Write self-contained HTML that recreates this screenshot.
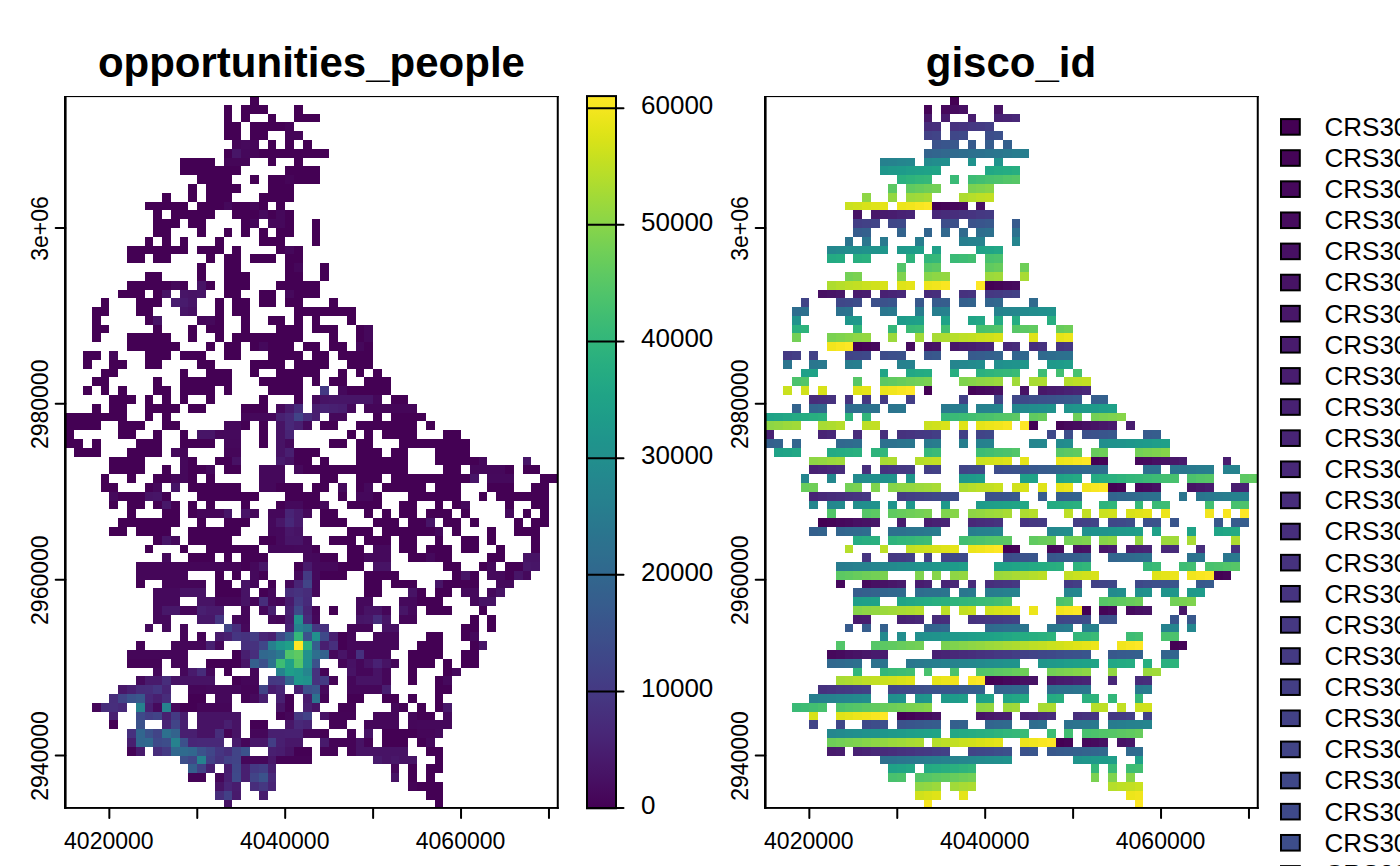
<!DOCTYPE html>
<html><head><meta charset="utf-8"><title>plot</title><style>html,body{margin:0;padding:0;background:#fff}body{width:1400px;height:866px;overflow:hidden}text{font-family:"Liberation Sans",sans-serif;fill:#000}.tk{font-size:23px}.cb{font-size:26px}.ti{font-size:42px;font-weight:bold}</style></head><body>
<svg width="1400" height="866" viewBox="0 0 1400 866" style="display:block">
<rect width="1400" height="866" fill="#fff"/>
<defs><linearGradient id="vg" x1="0" y1="1" x2="0" y2="0"><stop offset="0.0000" stop-color="#440154"/><stop offset="0.0156" stop-color="#46075a"/><stop offset="0.0312" stop-color="#470d60"/><stop offset="0.0469" stop-color="#471365"/><stop offset="0.0625" stop-color="#48186a"/><stop offset="0.0781" stop-color="#481d6f"/><stop offset="0.0938" stop-color="#482374"/><stop offset="0.1094" stop-color="#482878"/><stop offset="0.1250" stop-color="#472d7b"/><stop offset="0.1406" stop-color="#46327e"/><stop offset="0.1562" stop-color="#453781"/><stop offset="0.1719" stop-color="#443b84"/><stop offset="0.1875" stop-color="#424086"/><stop offset="0.2031" stop-color="#404588"/><stop offset="0.2188" stop-color="#3e4989"/><stop offset="0.2344" stop-color="#3d4e8a"/><stop offset="0.2500" stop-color="#3b528b"/><stop offset="0.2656" stop-color="#39568c"/><stop offset="0.2812" stop-color="#375b8d"/><stop offset="0.2969" stop-color="#355f8d"/><stop offset="0.3125" stop-color="#33638d"/><stop offset="0.3281" stop-color="#31678e"/><stop offset="0.3438" stop-color="#2f6b8e"/><stop offset="0.3594" stop-color="#2e6f8e"/><stop offset="0.3750" stop-color="#2c728e"/><stop offset="0.3906" stop-color="#2a768e"/><stop offset="0.4062" stop-color="#297a8e"/><stop offset="0.4219" stop-color="#277e8e"/><stop offset="0.4375" stop-color="#26828e"/><stop offset="0.4531" stop-color="#25858e"/><stop offset="0.4688" stop-color="#23898e"/><stop offset="0.4844" stop-color="#228d8d"/><stop offset="0.5000" stop-color="#21918c"/><stop offset="0.5156" stop-color="#1f948c"/><stop offset="0.5312" stop-color="#1f988b"/><stop offset="0.5469" stop-color="#1e9c89"/><stop offset="0.5625" stop-color="#1fa088"/><stop offset="0.5781" stop-color="#20a386"/><stop offset="0.5938" stop-color="#22a785"/><stop offset="0.6094" stop-color="#25ab82"/><stop offset="0.6250" stop-color="#28ae80"/><stop offset="0.6406" stop-color="#2db27d"/><stop offset="0.6562" stop-color="#32b67a"/><stop offset="0.6719" stop-color="#38b977"/><stop offset="0.6875" stop-color="#3fbc73"/><stop offset="0.7031" stop-color="#46c06f"/><stop offset="0.7188" stop-color="#4ec36b"/><stop offset="0.7344" stop-color="#56c667"/><stop offset="0.7500" stop-color="#5ec962"/><stop offset="0.7656" stop-color="#67cc5c"/><stop offset="0.7812" stop-color="#70cf57"/><stop offset="0.7969" stop-color="#7ad151"/><stop offset="0.8125" stop-color="#84d44b"/><stop offset="0.8281" stop-color="#8ed645"/><stop offset="0.8438" stop-color="#98d83e"/><stop offset="0.8594" stop-color="#a2da37"/><stop offset="0.8750" stop-color="#addc30"/><stop offset="0.8906" stop-color="#b8de29"/><stop offset="0.9062" stop-color="#c2df23"/><stop offset="0.9219" stop-color="#cde11d"/><stop offset="0.9375" stop-color="#d8e219"/><stop offset="0.9531" stop-color="#e2e418"/><stop offset="0.9688" stop-color="#ece51b"/><stop offset="0.9844" stop-color="#f6e620"/><stop offset="1.0000" stop-color="#fde725"/></linearGradient></defs>
<g shape-rendering="crispEdges">
<rect x="250" y="96" width="9" height="9" fill="#440154"/>
<rect x="224" y="105" width="8" height="9" fill="#440154"/>
<rect x="241" y="105" width="27" height="9" fill="#440154"/>
<rect x="294" y="105" width="9" height="9" fill="#440154"/>
<rect x="224" y="114" width="8" height="8" fill="#440154"/>
<rect x="241" y="114" width="9" height="8" fill="#440154"/>
<rect x="268" y="114" width="8" height="8" fill="#440154"/>
<rect x="294" y="114" width="26" height="8" fill="#440154"/>
<rect x="224" y="122" width="17" height="9" fill="#440154"/>
<rect x="250" y="122" width="35" height="9" fill="#440154"/>
<rect x="285" y="122" width="9" height="9" fill="#450558"/>
<rect x="224" y="131" width="17" height="9" fill="#440154"/>
<rect x="250" y="131" width="18" height="9" fill="#440154"/>
<rect x="285" y="131" width="18" height="9" fill="#450558"/>
<rect x="232" y="140" width="9" height="9" fill="#450659"/>
<rect x="241" y="140" width="9" height="9" fill="#46095c"/>
<rect x="250" y="140" width="9" height="9" fill="#450659"/>
<rect x="268" y="140" width="8" height="9" fill="#440154"/>
<rect x="285" y="140" width="9" height="9" fill="#440154"/>
<rect x="303" y="140" width="9" height="9" fill="#440154"/>
<rect x="224" y="149" width="8" height="9" fill="#440154"/>
<rect x="232" y="149" width="9" height="9" fill="#471567"/>
<rect x="241" y="149" width="9" height="9" fill="#45085b"/>
<rect x="250" y="149" width="9" height="9" fill="#450558"/>
<rect x="259" y="149" width="70" height="9" fill="#440154"/>
<rect x="180" y="158" width="35" height="8" fill="#440154"/>
<rect x="224" y="158" width="26" height="8" fill="#450658"/>
<rect x="268" y="158" width="8" height="8" fill="#440154"/>
<rect x="294" y="158" width="9" height="8" fill="#440154"/>
<rect x="180" y="166" width="61" height="9" fill="#440154"/>
<rect x="285" y="166" width="35" height="9" fill="#440154"/>
<rect x="197" y="175" width="35" height="9" fill="#440154"/>
<rect x="250" y="175" width="9" height="9" fill="#440154"/>
<rect x="268" y="175" width="17" height="9" fill="#440154"/>
<rect x="285" y="175" width="9" height="9" fill="#450558"/>
<rect x="294" y="175" width="26" height="9" fill="#440154"/>
<rect x="188" y="184" width="9" height="9" fill="#440154"/>
<rect x="206" y="184" width="35" height="9" fill="#440154"/>
<rect x="268" y="184" width="26" height="9" fill="#440154"/>
<rect x="162" y="193" width="9" height="9" fill="#440154"/>
<rect x="188" y="193" width="9" height="9" fill="#440154"/>
<rect x="206" y="193" width="26" height="9" fill="#440154"/>
<rect x="259" y="193" width="35" height="9" fill="#440154"/>
<rect x="145" y="202" width="43" height="8" fill="#440154"/>
<rect x="197" y="202" width="27" height="8" fill="#440154"/>
<rect x="224" y="202" width="8" height="8" fill="#45095b"/>
<rect x="232" y="202" width="18" height="8" fill="#440154"/>
<rect x="250" y="202" width="9" height="8" fill="#45095b"/>
<rect x="259" y="202" width="9" height="8" fill="#440154"/>
<rect x="276" y="202" width="9" height="8" fill="#440154"/>
<rect x="153" y="210" width="9" height="9" fill="#440154"/>
<rect x="171" y="210" width="44" height="9" fill="#440154"/>
<rect x="232" y="210" width="27" height="9" fill="#440154"/>
<rect x="259" y="210" width="9" height="9" fill="#460a5d"/>
<rect x="268" y="210" width="8" height="9" fill="#440154"/>
<rect x="276" y="210" width="9" height="9" fill="#45085b"/>
<rect x="285" y="210" width="9" height="9" fill="#440154"/>
<rect x="153" y="219" width="27" height="9" fill="#440154"/>
<rect x="188" y="219" width="18" height="9" fill="#440154"/>
<rect x="241" y="219" width="9" height="9" fill="#440154"/>
<rect x="250" y="219" width="9" height="9" fill="#45085b"/>
<rect x="268" y="219" width="17" height="9" fill="#45085b"/>
<rect x="285" y="219" width="9" height="9" fill="#440154"/>
<rect x="312" y="219" width="8" height="9" fill="#440154"/>
<rect x="153" y="228" width="18" height="9" fill="#440154"/>
<rect x="197" y="228" width="9" height="9" fill="#440154"/>
<rect x="224" y="228" width="8" height="9" fill="#440154"/>
<rect x="241" y="228" width="9" height="9" fill="#440154"/>
<rect x="259" y="228" width="9" height="9" fill="#440154"/>
<rect x="276" y="228" width="18" height="9" fill="#440154"/>
<rect x="312" y="228" width="8" height="9" fill="#440154"/>
<rect x="145" y="237" width="8" height="9" fill="#440154"/>
<rect x="162" y="237" width="9" height="9" fill="#440154"/>
<rect x="180" y="237" width="8" height="9" fill="#440154"/>
<rect x="215" y="237" width="9" height="9" fill="#440154"/>
<rect x="259" y="237" width="26" height="9" fill="#440154"/>
<rect x="312" y="237" width="8" height="9" fill="#440154"/>
<rect x="127" y="246" width="61" height="8" fill="#440154"/>
<rect x="197" y="246" width="27" height="8" fill="#440154"/>
<rect x="232" y="246" width="9" height="8" fill="#440154"/>
<rect x="276" y="246" width="9" height="8" fill="#440154"/>
<rect x="285" y="246" width="9" height="8" fill="#45085b"/>
<rect x="294" y="246" width="9" height="8" fill="#440154"/>
<rect x="127" y="254" width="18" height="9" fill="#440154"/>
<rect x="153" y="254" width="18" height="9" fill="#440154"/>
<rect x="206" y="254" width="9" height="9" fill="#440154"/>
<rect x="224" y="254" width="17" height="9" fill="#440154"/>
<rect x="250" y="254" width="26" height="9" fill="#440154"/>
<rect x="285" y="254" width="18" height="9" fill="#440154"/>
<rect x="197" y="263" width="9" height="9" fill="#440154"/>
<rect x="224" y="263" width="17" height="9" fill="#440154"/>
<rect x="285" y="263" width="9" height="9" fill="#440154"/>
<rect x="294" y="263" width="9" height="9" fill="#45075a"/>
<rect x="320" y="263" width="9" height="9" fill="#440154"/>
<rect x="145" y="272" width="17" height="9" fill="#440154"/>
<rect x="197" y="272" width="9" height="9" fill="#440154"/>
<rect x="224" y="272" width="26" height="9" fill="#440154"/>
<rect x="285" y="272" width="18" height="9" fill="#440154"/>
<rect x="320" y="272" width="9" height="9" fill="#440154"/>
<rect x="127" y="281" width="44" height="9" fill="#440154"/>
<rect x="171" y="281" width="9" height="9" fill="#450a5b"/>
<rect x="180" y="281" width="8" height="9" fill="#440154"/>
<rect x="197" y="281" width="9" height="9" fill="#471365"/>
<rect x="206" y="281" width="9" height="9" fill="#440154"/>
<rect x="224" y="281" width="26" height="9" fill="#440154"/>
<rect x="276" y="281" width="44" height="9" fill="#440154"/>
<rect x="118" y="290" width="27" height="8" fill="#440154"/>
<rect x="153" y="290" width="9" height="8" fill="#440154"/>
<rect x="162" y="290" width="9" height="8" fill="#471365"/>
<rect x="180" y="290" width="8" height="8" fill="#471567"/>
<rect x="188" y="290" width="9" height="8" fill="#471365"/>
<rect x="197" y="290" width="9" height="8" fill="#471567"/>
<rect x="224" y="290" width="17" height="8" fill="#440154"/>
<rect x="259" y="290" width="17" height="8" fill="#440154"/>
<rect x="285" y="290" width="9" height="8" fill="#46095c"/>
<rect x="294" y="290" width="26" height="8" fill="#440154"/>
<rect x="101" y="298" width="8" height="9" fill="#440154"/>
<rect x="136" y="298" width="26" height="9" fill="#440154"/>
<rect x="171" y="298" width="9" height="9" fill="#481d6f"/>
<rect x="180" y="298" width="8" height="9" fill="#481b6d"/>
<rect x="188" y="298" width="9" height="9" fill="#471567"/>
<rect x="215" y="298" width="9" height="9" fill="#440154"/>
<rect x="232" y="298" width="18" height="9" fill="#440154"/>
<rect x="259" y="298" width="17" height="9" fill="#440154"/>
<rect x="285" y="298" width="18" height="9" fill="#440154"/>
<rect x="329" y="298" width="9" height="9" fill="#440154"/>
<rect x="92" y="307" width="17" height="9" fill="#440154"/>
<rect x="136" y="307" width="17" height="9" fill="#440154"/>
<rect x="180" y="307" width="8" height="9" fill="#471567"/>
<rect x="188" y="307" width="9" height="9" fill="#471164"/>
<rect x="215" y="307" width="9" height="9" fill="#440154"/>
<rect x="232" y="307" width="18" height="9" fill="#440154"/>
<rect x="294" y="307" width="62" height="9" fill="#440154"/>
<rect x="92" y="316" width="9" height="9" fill="#440154"/>
<rect x="145" y="316" width="8" height="9" fill="#440154"/>
<rect x="153" y="316" width="9" height="9" fill="#471365"/>
<rect x="197" y="316" width="9" height="9" fill="#45075a"/>
<rect x="206" y="316" width="9" height="9" fill="#45095b"/>
<rect x="215" y="316" width="9" height="9" fill="#440154"/>
<rect x="241" y="316" width="9" height="9" fill="#440154"/>
<rect x="268" y="316" width="17" height="9" fill="#440154"/>
<rect x="294" y="316" width="9" height="9" fill="#440154"/>
<rect x="312" y="316" width="8" height="9" fill="#440154"/>
<rect x="347" y="316" width="9" height="9" fill="#440154"/>
<rect x="92" y="325" width="17" height="8" fill="#440154"/>
<rect x="153" y="325" width="9" height="8" fill="#440154"/>
<rect x="188" y="325" width="9" height="8" fill="#440154"/>
<rect x="206" y="325" width="18" height="8" fill="#440154"/>
<rect x="241" y="325" width="9" height="8" fill="#440154"/>
<rect x="276" y="325" width="27" height="8" fill="#440154"/>
<rect x="312" y="325" width="26" height="8" fill="#440154"/>
<rect x="356" y="325" width="8" height="8" fill="#440154"/>
<rect x="364" y="325" width="9" height="8" fill="#45085b"/>
<rect x="92" y="333" width="9" height="9" fill="#440154"/>
<rect x="127" y="333" width="44" height="9" fill="#440154"/>
<rect x="188" y="333" width="9" height="9" fill="#440154"/>
<rect x="215" y="333" width="9" height="9" fill="#440154"/>
<rect x="232" y="333" width="71" height="9" fill="#440154"/>
<rect x="329" y="333" width="9" height="9" fill="#440154"/>
<rect x="356" y="333" width="8" height="9" fill="#440154"/>
<rect x="364" y="333" width="9" height="9" fill="#45085b"/>
<rect x="127" y="342" width="53" height="9" fill="#440154"/>
<rect x="206" y="342" width="9" height="9" fill="#440154"/>
<rect x="224" y="342" width="17" height="9" fill="#440154"/>
<rect x="250" y="342" width="9" height="9" fill="#440154"/>
<rect x="259" y="342" width="9" height="9" fill="#45095c"/>
<rect x="268" y="342" width="26" height="9" fill="#440154"/>
<rect x="303" y="342" width="17" height="9" fill="#440154"/>
<rect x="329" y="342" width="18" height="9" fill="#440154"/>
<rect x="356" y="342" width="8" height="9" fill="#45085b"/>
<rect x="364" y="342" width="9" height="9" fill="#440154"/>
<rect x="83" y="351" width="18" height="9" fill="#440154"/>
<rect x="109" y="351" width="9" height="9" fill="#45085b"/>
<rect x="145" y="351" width="26" height="9" fill="#440154"/>
<rect x="180" y="351" width="26" height="9" fill="#440154"/>
<rect x="224" y="351" width="17" height="9" fill="#440154"/>
<rect x="268" y="351" width="35" height="9" fill="#440154"/>
<rect x="312" y="351" width="17" height="9" fill="#440154"/>
<rect x="338" y="351" width="35" height="9" fill="#440154"/>
<rect x="83" y="360" width="9" height="9" fill="#440154"/>
<rect x="109" y="360" width="18" height="9" fill="#440154"/>
<rect x="145" y="360" width="17" height="9" fill="#440154"/>
<rect x="197" y="360" width="18" height="9" fill="#440154"/>
<rect x="250" y="360" width="35" height="9" fill="#440154"/>
<rect x="294" y="360" width="35" height="9" fill="#440154"/>
<rect x="347" y="360" width="26" height="9" fill="#440154"/>
<rect x="101" y="369" width="17" height="8" fill="#440154"/>
<rect x="180" y="369" width="8" height="8" fill="#440154"/>
<rect x="206" y="369" width="26" height="8" fill="#440154"/>
<rect x="250" y="369" width="9" height="8" fill="#440154"/>
<rect x="276" y="369" width="44" height="8" fill="#440154"/>
<rect x="338" y="369" width="9" height="8" fill="#440154"/>
<rect x="356" y="369" width="8" height="8" fill="#440154"/>
<rect x="373" y="369" width="9" height="8" fill="#440154"/>
<rect x="92" y="377" width="17" height="9" fill="#440154"/>
<rect x="153" y="377" width="9" height="9" fill="#440154"/>
<rect x="180" y="377" width="52" height="9" fill="#440154"/>
<rect x="259" y="377" width="44" height="9" fill="#440154"/>
<rect x="312" y="377" width="8" height="9" fill="#440154"/>
<rect x="329" y="377" width="18" height="9" fill="#440154"/>
<rect x="364" y="377" width="27" height="9" fill="#440154"/>
<rect x="83" y="386" width="9" height="9" fill="#440154"/>
<rect x="101" y="386" width="8" height="9" fill="#440154"/>
<rect x="118" y="386" width="9" height="9" fill="#440154"/>
<rect x="153" y="386" width="18" height="9" fill="#440154"/>
<rect x="180" y="386" width="35" height="9" fill="#440154"/>
<rect x="224" y="386" width="8" height="9" fill="#440154"/>
<rect x="268" y="386" width="35" height="9" fill="#440154"/>
<rect x="320" y="386" width="9" height="9" fill="#443983"/>
<rect x="338" y="386" width="9" height="9" fill="#45095c"/>
<rect x="347" y="386" width="44" height="9" fill="#440154"/>
<rect x="109" y="395" width="27" height="9" fill="#440154"/>
<rect x="145" y="395" width="8" height="9" fill="#440154"/>
<rect x="162" y="395" width="9" height="9" fill="#440154"/>
<rect x="180" y="395" width="8" height="9" fill="#440154"/>
<rect x="206" y="395" width="9" height="9" fill="#440154"/>
<rect x="259" y="395" width="9" height="9" fill="#440154"/>
<rect x="294" y="395" width="9" height="9" fill="#440154"/>
<rect x="312" y="395" width="8" height="9" fill="#45095c"/>
<rect x="320" y="395" width="9" height="9" fill="#471365"/>
<rect x="329" y="395" width="44" height="9" fill="#471567"/>
<rect x="373" y="395" width="9" height="9" fill="#45085b"/>
<rect x="391" y="395" width="17" height="9" fill="#440154"/>
<rect x="92" y="404" width="9" height="9" fill="#440154"/>
<rect x="109" y="404" width="18" height="9" fill="#440154"/>
<rect x="145" y="404" width="35" height="9" fill="#440154"/>
<rect x="188" y="404" width="18" height="9" fill="#440154"/>
<rect x="241" y="404" width="27" height="9" fill="#440154"/>
<rect x="276" y="404" width="9" height="9" fill="#46095c"/>
<rect x="285" y="404" width="9" height="9" fill="#481a6c"/>
<rect x="294" y="404" width="9" height="9" fill="#462c7b"/>
<rect x="312" y="404" width="8" height="9" fill="#481d6f"/>
<rect x="320" y="404" width="9" height="9" fill="#482374"/>
<rect x="329" y="404" width="9" height="9" fill="#482071"/>
<rect x="338" y="404" width="9" height="9" fill="#481d6f"/>
<rect x="347" y="404" width="9" height="9" fill="#45095c"/>
<rect x="364" y="404" width="53" height="9" fill="#450659"/>
<rect x="65" y="413" width="62" height="8" fill="#440154"/>
<rect x="145" y="413" width="8" height="8" fill="#440154"/>
<rect x="162" y="413" width="9" height="8" fill="#440154"/>
<rect x="241" y="413" width="9" height="8" fill="#450659"/>
<rect x="250" y="413" width="26" height="8" fill="#45085b"/>
<rect x="276" y="413" width="9" height="8" fill="#482071"/>
<rect x="285" y="413" width="9" height="8" fill="#482878"/>
<rect x="294" y="413" width="9" height="8" fill="#414487"/>
<rect x="303" y="413" width="9" height="8" fill="#472d7b"/>
<rect x="312" y="413" width="8" height="8" fill="#481f70"/>
<rect x="329" y="413" width="18" height="8" fill="#45085b"/>
<rect x="373" y="413" width="9" height="8" fill="#440154"/>
<rect x="391" y="413" width="35" height="8" fill="#440154"/>
<rect x="65" y="421" width="36" height="9" fill="#440154"/>
<rect x="118" y="421" width="27" height="9" fill="#440154"/>
<rect x="162" y="421" width="18" height="9" fill="#440154"/>
<rect x="224" y="421" width="17" height="9" fill="#45085b"/>
<rect x="241" y="421" width="9" height="9" fill="#440154"/>
<rect x="259" y="421" width="9" height="9" fill="#440154"/>
<rect x="276" y="421" width="9" height="9" fill="#471365"/>
<rect x="285" y="421" width="9" height="9" fill="#482878"/>
<rect x="294" y="421" width="9" height="9" fill="#481f70"/>
<rect x="303" y="421" width="9" height="9" fill="#45095c"/>
<rect x="320" y="421" width="18" height="9" fill="#440154"/>
<rect x="356" y="421" width="61" height="9" fill="#440154"/>
<rect x="426" y="421" width="9" height="9" fill="#440154"/>
<rect x="65" y="430" width="9" height="9" fill="#440154"/>
<rect x="118" y="430" width="18" height="9" fill="#440154"/>
<rect x="153" y="430" width="9" height="9" fill="#440154"/>
<rect x="180" y="430" width="8" height="9" fill="#440154"/>
<rect x="197" y="430" width="18" height="9" fill="#471567"/>
<rect x="215" y="430" width="9" height="9" fill="#45085b"/>
<rect x="224" y="430" width="17" height="9" fill="#45095c"/>
<rect x="259" y="430" width="9" height="9" fill="#440154"/>
<rect x="276" y="430" width="9" height="9" fill="#471365"/>
<rect x="285" y="430" width="9" height="9" fill="#482475"/>
<rect x="347" y="430" width="9" height="9" fill="#440154"/>
<rect x="364" y="430" width="9" height="9" fill="#440154"/>
<rect x="382" y="430" width="35" height="9" fill="#440154"/>
<rect x="443" y="430" width="18" height="9" fill="#440154"/>
<rect x="65" y="439" width="18" height="9" fill="#440154"/>
<rect x="92" y="439" width="9" height="9" fill="#440154"/>
<rect x="136" y="439" width="26" height="9" fill="#440154"/>
<rect x="180" y="439" width="35" height="9" fill="#440154"/>
<rect x="224" y="439" width="17" height="9" fill="#45085b"/>
<rect x="259" y="439" width="9" height="9" fill="#440154"/>
<rect x="276" y="439" width="9" height="9" fill="#471365"/>
<rect x="285" y="439" width="9" height="9" fill="#45095c"/>
<rect x="329" y="439" width="18" height="9" fill="#440154"/>
<rect x="356" y="439" width="17" height="9" fill="#440154"/>
<rect x="399" y="439" width="71" height="9" fill="#440154"/>
<rect x="74" y="448" width="27" height="9" fill="#440154"/>
<rect x="127" y="448" width="35" height="9" fill="#440154"/>
<rect x="171" y="448" width="9" height="9" fill="#45095c"/>
<rect x="180" y="448" width="8" height="9" fill="#450659"/>
<rect x="224" y="448" width="17" height="9" fill="#450659"/>
<rect x="276" y="448" width="9" height="9" fill="#471365"/>
<rect x="285" y="448" width="9" height="9" fill="#481f70"/>
<rect x="294" y="448" width="26" height="9" fill="#440154"/>
<rect x="356" y="448" width="26" height="9" fill="#440154"/>
<rect x="391" y="448" width="17" height="9" fill="#440154"/>
<rect x="435" y="448" width="35" height="9" fill="#440154"/>
<rect x="109" y="457" width="36" height="8" fill="#440154"/>
<rect x="180" y="457" width="8" height="8" fill="#45085b"/>
<rect x="188" y="457" width="9" height="8" fill="#440154"/>
<rect x="215" y="457" width="17" height="8" fill="#440154"/>
<rect x="232" y="457" width="9" height="8" fill="#471164"/>
<rect x="276" y="457" width="9" height="8" fill="#481a6c"/>
<rect x="285" y="457" width="9" height="8" fill="#471365"/>
<rect x="294" y="457" width="18" height="8" fill="#440154"/>
<rect x="320" y="457" width="9" height="8" fill="#440154"/>
<rect x="356" y="457" width="52" height="8" fill="#440154"/>
<rect x="435" y="457" width="44" height="8" fill="#440154"/>
<rect x="479" y="457" width="8" height="8" fill="#45095c"/>
<rect x="523" y="457" width="8" height="8" fill="#471567"/>
<rect x="109" y="465" width="36" height="9" fill="#440154"/>
<rect x="162" y="465" width="9" height="9" fill="#440154"/>
<rect x="180" y="465" width="8" height="9" fill="#45085b"/>
<rect x="188" y="465" width="18" height="9" fill="#440154"/>
<rect x="206" y="465" width="9" height="9" fill="#45085b"/>
<rect x="224" y="465" width="17" height="9" fill="#440154"/>
<rect x="259" y="465" width="26" height="9" fill="#45085b"/>
<rect x="294" y="465" width="9" height="9" fill="#46095c"/>
<rect x="303" y="465" width="105" height="9" fill="#440154"/>
<rect x="443" y="465" width="18" height="9" fill="#440154"/>
<rect x="470" y="465" width="35" height="9" fill="#45085b"/>
<rect x="505" y="465" width="9" height="9" fill="#440154"/>
<rect x="523" y="465" width="17" height="9" fill="#440154"/>
<rect x="101" y="474" width="8" height="9" fill="#440154"/>
<rect x="127" y="474" width="9" height="9" fill="#440154"/>
<rect x="153" y="474" width="18" height="9" fill="#440154"/>
<rect x="171" y="474" width="17" height="9" fill="#45085b"/>
<rect x="188" y="474" width="9" height="9" fill="#440154"/>
<rect x="206" y="474" width="9" height="9" fill="#440154"/>
<rect x="259" y="474" width="26" height="9" fill="#45085b"/>
<rect x="320" y="474" width="18" height="9" fill="#440154"/>
<rect x="356" y="474" width="26" height="9" fill="#440154"/>
<rect x="391" y="474" width="79" height="9" fill="#440154"/>
<rect x="470" y="474" width="9" height="9" fill="#471567"/>
<rect x="487" y="474" width="27" height="9" fill="#45095c"/>
<rect x="540" y="474" width="18" height="9" fill="#440154"/>
<rect x="101" y="483" width="17" height="9" fill="#440154"/>
<rect x="145" y="483" width="8" height="9" fill="#440154"/>
<rect x="153" y="483" width="9" height="9" fill="#45085b"/>
<rect x="171" y="483" width="9" height="9" fill="#471567"/>
<rect x="188" y="483" width="53" height="9" fill="#440154"/>
<rect x="259" y="483" width="17" height="9" fill="#45085b"/>
<rect x="276" y="483" width="27" height="9" fill="#440154"/>
<rect x="312" y="483" width="17" height="9" fill="#440154"/>
<rect x="338" y="483" width="9" height="9" fill="#45095c"/>
<rect x="356" y="483" width="8" height="9" fill="#440154"/>
<rect x="364" y="483" width="9" height="9" fill="#45095c"/>
<rect x="382" y="483" width="44" height="9" fill="#440154"/>
<rect x="435" y="483" width="26" height="9" fill="#440154"/>
<rect x="487" y="483" width="27" height="9" fill="#440154"/>
<rect x="531" y="483" width="18" height="9" fill="#440154"/>
<rect x="109" y="492" width="9" height="9" fill="#45095c"/>
<rect x="118" y="492" width="27" height="9" fill="#440154"/>
<rect x="145" y="492" width="8" height="9" fill="#471365"/>
<rect x="153" y="492" width="9" height="9" fill="#471567"/>
<rect x="162" y="492" width="9" height="9" fill="#440154"/>
<rect x="197" y="492" width="62" height="9" fill="#440154"/>
<rect x="285" y="492" width="35" height="9" fill="#440154"/>
<rect x="338" y="492" width="9" height="9" fill="#440154"/>
<rect x="356" y="492" width="17" height="9" fill="#45085b"/>
<rect x="373" y="492" width="9" height="9" fill="#440154"/>
<rect x="408" y="492" width="53" height="9" fill="#440154"/>
<rect x="479" y="492" width="8" height="9" fill="#440154"/>
<rect x="496" y="492" width="53" height="9" fill="#440154"/>
<rect x="109" y="501" width="9" height="8" fill="#440154"/>
<rect x="127" y="501" width="18" height="8" fill="#440154"/>
<rect x="153" y="501" width="9" height="8" fill="#440154"/>
<rect x="162" y="501" width="9" height="8" fill="#471769"/>
<rect x="171" y="501" width="9" height="8" fill="#440154"/>
<rect x="188" y="501" width="9" height="8" fill="#440154"/>
<rect x="206" y="501" width="9" height="8" fill="#440154"/>
<rect x="241" y="501" width="9" height="8" fill="#440154"/>
<rect x="276" y="501" width="9" height="8" fill="#440154"/>
<rect x="285" y="501" width="18" height="8" fill="#45095c"/>
<rect x="303" y="501" width="17" height="8" fill="#440154"/>
<rect x="320" y="501" width="9" height="8" fill="#45095c"/>
<rect x="347" y="501" width="35" height="8" fill="#440154"/>
<rect x="399" y="501" width="18" height="8" fill="#440154"/>
<rect x="435" y="501" width="8" height="8" fill="#440154"/>
<rect x="452" y="501" width="9" height="8" fill="#440154"/>
<rect x="461" y="501" width="9" height="8" fill="#45095c"/>
<rect x="505" y="501" width="9" height="8" fill="#440154"/>
<rect x="531" y="501" width="18" height="8" fill="#440154"/>
<rect x="127" y="509" width="9" height="9" fill="#440154"/>
<rect x="162" y="509" width="18" height="9" fill="#440154"/>
<rect x="188" y="509" width="9" height="9" fill="#440154"/>
<rect x="197" y="509" width="27" height="9" fill="#450659"/>
<rect x="224" y="509" width="8" height="9" fill="#471567"/>
<rect x="241" y="509" width="9" height="9" fill="#481467"/>
<rect x="250" y="509" width="9" height="9" fill="#45085b"/>
<rect x="268" y="509" width="17" height="9" fill="#45085b"/>
<rect x="285" y="509" width="9" height="9" fill="#482475"/>
<rect x="294" y="509" width="9" height="9" fill="#481a6c"/>
<rect x="303" y="509" width="9" height="9" fill="#45085b"/>
<rect x="320" y="509" width="18" height="9" fill="#440154"/>
<rect x="364" y="509" width="9" height="9" fill="#440154"/>
<rect x="382" y="509" width="9" height="9" fill="#440154"/>
<rect x="399" y="509" width="18" height="9" fill="#440154"/>
<rect x="426" y="509" width="26" height="9" fill="#440154"/>
<rect x="461" y="509" width="9" height="9" fill="#440154"/>
<rect x="505" y="509" width="9" height="9" fill="#45095c"/>
<rect x="523" y="509" width="8" height="9" fill="#440154"/>
<rect x="540" y="509" width="9" height="9" fill="#440154"/>
<rect x="118" y="518" width="62" height="9" fill="#440154"/>
<rect x="197" y="518" width="9" height="9" fill="#440154"/>
<rect x="224" y="518" width="26" height="9" fill="#440154"/>
<rect x="268" y="518" width="8" height="9" fill="#45095c"/>
<rect x="276" y="518" width="9" height="9" fill="#481668"/>
<rect x="285" y="518" width="9" height="9" fill="#472878"/>
<rect x="294" y="518" width="9" height="9" fill="#481a6c"/>
<rect x="320" y="518" width="27" height="9" fill="#440154"/>
<rect x="373" y="518" width="26" height="9" fill="#440154"/>
<rect x="408" y="518" width="18" height="9" fill="#440154"/>
<rect x="426" y="518" width="9" height="9" fill="#471567"/>
<rect x="443" y="518" width="18" height="9" fill="#440154"/>
<rect x="470" y="518" width="9" height="9" fill="#440154"/>
<rect x="514" y="518" width="9" height="9" fill="#440154"/>
<rect x="531" y="518" width="18" height="9" fill="#440154"/>
<rect x="109" y="527" width="18" height="9" fill="#440154"/>
<rect x="136" y="527" width="35" height="9" fill="#440154"/>
<rect x="188" y="527" width="53" height="9" fill="#440154"/>
<rect x="268" y="527" width="8" height="9" fill="#45085b"/>
<rect x="276" y="527" width="9" height="9" fill="#45095c"/>
<rect x="285" y="527" width="9" height="9" fill="#481769"/>
<rect x="294" y="527" width="9" height="9" fill="#471365"/>
<rect x="347" y="527" width="26" height="9" fill="#440154"/>
<rect x="382" y="527" width="53" height="9" fill="#440154"/>
<rect x="435" y="527" width="8" height="9" fill="#45085b"/>
<rect x="452" y="527" width="9" height="9" fill="#440154"/>
<rect x="487" y="527" width="9" height="9" fill="#440154"/>
<rect x="514" y="527" width="26" height="9" fill="#440154"/>
<rect x="153" y="536" width="9" height="9" fill="#440154"/>
<rect x="162" y="536" width="9" height="9" fill="#471567"/>
<rect x="171" y="536" width="9" height="9" fill="#45095c"/>
<rect x="188" y="536" width="44" height="9" fill="#440154"/>
<rect x="259" y="536" width="17" height="9" fill="#440154"/>
<rect x="276" y="536" width="9" height="9" fill="#45095c"/>
<rect x="285" y="536" width="18" height="9" fill="#471567"/>
<rect x="303" y="536" width="9" height="9" fill="#45085b"/>
<rect x="329" y="536" width="27" height="9" fill="#440154"/>
<rect x="364" y="536" width="27" height="9" fill="#440154"/>
<rect x="399" y="536" width="18" height="9" fill="#440154"/>
<rect x="435" y="536" width="8" height="9" fill="#440154"/>
<rect x="461" y="536" width="18" height="9" fill="#440154"/>
<rect x="487" y="536" width="9" height="9" fill="#440154"/>
<rect x="531" y="536" width="9" height="9" fill="#440154"/>
<rect x="145" y="545" width="8" height="8" fill="#440154"/>
<rect x="180" y="545" width="8" height="8" fill="#440154"/>
<rect x="206" y="545" width="53" height="8" fill="#440154"/>
<rect x="268" y="545" width="26" height="8" fill="#45085b"/>
<rect x="294" y="545" width="18" height="8" fill="#45095c"/>
<rect x="312" y="545" width="8" height="8" fill="#440154"/>
<rect x="347" y="545" width="17" height="8" fill="#440154"/>
<rect x="373" y="545" width="18" height="8" fill="#45095c"/>
<rect x="399" y="545" width="18" height="8" fill="#440154"/>
<rect x="426" y="545" width="26" height="8" fill="#440154"/>
<rect x="461" y="545" width="18" height="8" fill="#440154"/>
<rect x="496" y="545" width="9" height="8" fill="#440154"/>
<rect x="531" y="545" width="9" height="8" fill="#440154"/>
<rect x="162" y="553" width="9" height="9" fill="#45095c"/>
<rect x="188" y="553" width="27" height="9" fill="#440154"/>
<rect x="224" y="553" width="8" height="9" fill="#440154"/>
<rect x="241" y="553" width="27" height="9" fill="#440154"/>
<rect x="303" y="553" width="9" height="9" fill="#45095c"/>
<rect x="312" y="553" width="8" height="9" fill="#45085b"/>
<rect x="320" y="553" width="18" height="9" fill="#440154"/>
<rect x="347" y="553" width="17" height="9" fill="#440154"/>
<rect x="364" y="553" width="27" height="9" fill="#45095c"/>
<rect x="408" y="553" width="18" height="9" fill="#440154"/>
<rect x="426" y="553" width="9" height="9" fill="#45095c"/>
<rect x="435" y="553" width="17" height="9" fill="#440154"/>
<rect x="487" y="553" width="18" height="9" fill="#440154"/>
<rect x="523" y="553" width="17" height="9" fill="#471365"/>
<rect x="136" y="562" width="105" height="9" fill="#450659"/>
<rect x="241" y="562" width="9" height="9" fill="#440154"/>
<rect x="250" y="562" width="9" height="9" fill="#45085b"/>
<rect x="259" y="562" width="9" height="9" fill="#481769"/>
<rect x="294" y="562" width="9" height="9" fill="#440154"/>
<rect x="303" y="562" width="9" height="9" fill="#481a6c"/>
<rect x="312" y="562" width="8" height="9" fill="#45095c"/>
<rect x="320" y="562" width="18" height="9" fill="#45085b"/>
<rect x="338" y="562" width="26" height="9" fill="#440154"/>
<rect x="373" y="562" width="18" height="9" fill="#471365"/>
<rect x="443" y="562" width="18" height="9" fill="#440154"/>
<rect x="479" y="562" width="8" height="9" fill="#440154"/>
<rect x="487" y="562" width="9" height="9" fill="#45095c"/>
<rect x="505" y="562" width="18" height="9" fill="#440154"/>
<rect x="523" y="562" width="8" height="9" fill="#481769"/>
<rect x="531" y="562" width="9" height="9" fill="#471567"/>
<rect x="136" y="571" width="52" height="9" fill="#450659"/>
<rect x="215" y="571" width="9" height="9" fill="#440154"/>
<rect x="232" y="571" width="9" height="9" fill="#440154"/>
<rect x="250" y="571" width="9" height="9" fill="#45095c"/>
<rect x="259" y="571" width="9" height="9" fill="#440154"/>
<rect x="294" y="571" width="9" height="9" fill="#45095c"/>
<rect x="303" y="571" width="9" height="9" fill="#443a83"/>
<rect x="312" y="571" width="8" height="9" fill="#45095c"/>
<rect x="320" y="571" width="27" height="9" fill="#440154"/>
<rect x="364" y="571" width="35" height="9" fill="#440154"/>
<rect x="452" y="571" width="9" height="9" fill="#440154"/>
<rect x="461" y="571" width="9" height="9" fill="#471567"/>
<rect x="470" y="571" width="9" height="9" fill="#440154"/>
<rect x="487" y="571" width="18" height="9" fill="#45095c"/>
<rect x="505" y="571" width="9" height="9" fill="#440154"/>
<rect x="514" y="571" width="9" height="9" fill="#471567"/>
<rect x="523" y="571" width="8" height="9" fill="#45095c"/>
<rect x="136" y="580" width="9" height="8" fill="#440154"/>
<rect x="162" y="580" width="44" height="8" fill="#450659"/>
<rect x="215" y="580" width="17" height="8" fill="#440154"/>
<rect x="241" y="580" width="9" height="8" fill="#471365"/>
<rect x="250" y="580" width="9" height="8" fill="#45085b"/>
<rect x="268" y="580" width="8" height="8" fill="#440154"/>
<rect x="285" y="580" width="9" height="8" fill="#45095c"/>
<rect x="294" y="580" width="9" height="8" fill="#482475"/>
<rect x="303" y="580" width="9" height="8" fill="#414487"/>
<rect x="312" y="580" width="8" height="8" fill="#45085b"/>
<rect x="364" y="580" width="18" height="8" fill="#440154"/>
<rect x="391" y="580" width="26" height="8" fill="#440154"/>
<rect x="435" y="580" width="8" height="8" fill="#471567"/>
<rect x="443" y="580" width="36" height="8" fill="#440154"/>
<rect x="496" y="580" width="18" height="8" fill="#45095c"/>
<rect x="153" y="588" width="27" height="9" fill="#45095c"/>
<rect x="180" y="588" width="26" height="9" fill="#471365"/>
<rect x="215" y="588" width="26" height="9" fill="#440154"/>
<rect x="241" y="588" width="9" height="9" fill="#471365"/>
<rect x="259" y="588" width="9" height="9" fill="#440154"/>
<rect x="268" y="588" width="8" height="9" fill="#45085b"/>
<rect x="285" y="588" width="9" height="9" fill="#472d7b"/>
<rect x="294" y="588" width="9" height="9" fill="#46327e"/>
<rect x="303" y="588" width="9" height="9" fill="#472c7a"/>
<rect x="312" y="588" width="8" height="9" fill="#45085b"/>
<rect x="364" y="588" width="18" height="9" fill="#440154"/>
<rect x="408" y="588" width="9" height="9" fill="#471365"/>
<rect x="417" y="588" width="9" height="9" fill="#440154"/>
<rect x="435" y="588" width="17" height="9" fill="#440154"/>
<rect x="461" y="588" width="18" height="9" fill="#45095c"/>
<rect x="487" y="588" width="9" height="9" fill="#45095c"/>
<rect x="496" y="588" width="9" height="9" fill="#471365"/>
<rect x="153" y="597" width="27" height="9" fill="#45095c"/>
<rect x="197" y="597" width="18" height="9" fill="#471365"/>
<rect x="215" y="597" width="26" height="9" fill="#450659"/>
<rect x="241" y="597" width="9" height="9" fill="#471365"/>
<rect x="250" y="597" width="9" height="9" fill="#450659"/>
<rect x="259" y="597" width="9" height="9" fill="#472d7b"/>
<rect x="268" y="597" width="8" height="9" fill="#45095c"/>
<rect x="276" y="597" width="9" height="9" fill="#450659"/>
<rect x="285" y="597" width="9" height="9" fill="#481a6c"/>
<rect x="294" y="597" width="9" height="9" fill="#443983"/>
<rect x="303" y="597" width="9" height="9" fill="#472a7a"/>
<rect x="356" y="597" width="17" height="9" fill="#45095c"/>
<rect x="399" y="597" width="18" height="9" fill="#45095c"/>
<rect x="417" y="597" width="26" height="9" fill="#440154"/>
<rect x="470" y="597" width="9" height="9" fill="#45095c"/>
<rect x="479" y="597" width="17" height="9" fill="#471365"/>
<rect x="153" y="606" width="9" height="9" fill="#45095c"/>
<rect x="162" y="606" width="18" height="9" fill="#471769"/>
<rect x="180" y="606" width="17" height="9" fill="#450659"/>
<rect x="197" y="606" width="9" height="9" fill="#481f70"/>
<rect x="206" y="606" width="18" height="9" fill="#481a6c"/>
<rect x="241" y="606" width="9" height="9" fill="#450659"/>
<rect x="259" y="606" width="9" height="9" fill="#45085b"/>
<rect x="268" y="606" width="8" height="9" fill="#481f70"/>
<rect x="285" y="606" width="9" height="9" fill="#482071"/>
<rect x="294" y="606" width="9" height="9" fill="#3e4989"/>
<rect x="303" y="606" width="9" height="9" fill="#482475"/>
<rect x="312" y="606" width="8" height="9" fill="#450659"/>
<rect x="329" y="606" width="9" height="9" fill="#440154"/>
<rect x="356" y="606" width="8" height="9" fill="#45095c"/>
<rect x="364" y="606" width="18" height="9" fill="#471365"/>
<rect x="382" y="606" width="9" height="9" fill="#450659"/>
<rect x="399" y="606" width="9" height="9" fill="#471567"/>
<rect x="408" y="606" width="9" height="9" fill="#45095c"/>
<rect x="426" y="606" width="26" height="9" fill="#440154"/>
<rect x="479" y="606" width="8" height="9" fill="#440154"/>
<rect x="153" y="615" width="18" height="9" fill="#45095c"/>
<rect x="197" y="615" width="18" height="9" fill="#471769"/>
<rect x="215" y="615" width="9" height="9" fill="#453581"/>
<rect x="232" y="615" width="9" height="9" fill="#45085b"/>
<rect x="241" y="615" width="9" height="9" fill="#450659"/>
<rect x="268" y="615" width="8" height="9" fill="#45095c"/>
<rect x="276" y="615" width="9" height="9" fill="#450659"/>
<rect x="285" y="615" width="9" height="9" fill="#481c6e"/>
<rect x="294" y="615" width="9" height="9" fill="#21918c"/>
<rect x="303" y="615" width="9" height="9" fill="#472a7a"/>
<rect x="312" y="615" width="8" height="9" fill="#45085b"/>
<rect x="356" y="615" width="8" height="9" fill="#471567"/>
<rect x="364" y="615" width="9" height="9" fill="#471769"/>
<rect x="373" y="615" width="9" height="9" fill="#472d7b"/>
<rect x="382" y="615" width="9" height="9" fill="#471567"/>
<rect x="399" y="615" width="18" height="9" fill="#450659"/>
<rect x="470" y="615" width="9" height="9" fill="#440154"/>
<rect x="487" y="615" width="9" height="9" fill="#440154"/>
<rect x="145" y="624" width="8" height="8" fill="#45095c"/>
<rect x="162" y="624" width="9" height="8" fill="#45095c"/>
<rect x="180" y="624" width="8" height="8" fill="#450659"/>
<rect x="224" y="624" width="8" height="8" fill="#414487"/>
<rect x="232" y="624" width="9" height="8" fill="#472d7b"/>
<rect x="241" y="624" width="9" height="8" fill="#46085b"/>
<rect x="285" y="624" width="9" height="8" fill="#482374"/>
<rect x="294" y="624" width="9" height="8" fill="#26828e"/>
<rect x="303" y="624" width="9" height="8" fill="#2a768e"/>
<rect x="312" y="624" width="8" height="8" fill="#453781"/>
<rect x="320" y="624" width="9" height="8" fill="#46307e"/>
<rect x="347" y="624" width="26" height="8" fill="#450659"/>
<rect x="382" y="624" width="17" height="8" fill="#471164"/>
<rect x="461" y="624" width="18" height="8" fill="#440154"/>
<rect x="487" y="624" width="9" height="8" fill="#440154"/>
<rect x="180" y="632" width="8" height="9" fill="#450659"/>
<rect x="197" y="632" width="9" height="9" fill="#450457"/>
<rect x="215" y="632" width="9" height="9" fill="#481a6c"/>
<rect x="224" y="632" width="8" height="9" fill="#482071"/>
<rect x="232" y="632" width="9" height="9" fill="#453581"/>
<rect x="241" y="632" width="9" height="9" fill="#46327e"/>
<rect x="250" y="632" width="9" height="9" fill="#433d84"/>
<rect x="259" y="632" width="9" height="9" fill="#482576"/>
<rect x="268" y="632" width="8" height="9" fill="#481f70"/>
<rect x="276" y="632" width="9" height="9" fill="#3e4989"/>
<rect x="285" y="632" width="9" height="9" fill="#32648e"/>
<rect x="294" y="632" width="9" height="9" fill="#35b779"/>
<rect x="303" y="632" width="9" height="9" fill="#3b528b"/>
<rect x="312" y="632" width="8" height="9" fill="#21908d"/>
<rect x="320" y="632" width="9" height="9" fill="#3e4989"/>
<rect x="329" y="632" width="9" height="9" fill="#481f70"/>
<rect x="338" y="632" width="9" height="9" fill="#440154"/>
<rect x="347" y="632" width="9" height="9" fill="#45075a"/>
<rect x="373" y="632" width="26" height="9" fill="#45075a"/>
<rect x="426" y="632" width="17" height="9" fill="#440154"/>
<rect x="461" y="632" width="9" height="9" fill="#440154"/>
<rect x="470" y="632" width="9" height="9" fill="#45095c"/>
<rect x="136" y="641" width="9" height="9" fill="#450457"/>
<rect x="171" y="641" width="35" height="9" fill="#450659"/>
<rect x="206" y="641" width="9" height="9" fill="#482071"/>
<rect x="215" y="641" width="9" height="9" fill="#45085b"/>
<rect x="241" y="641" width="9" height="9" fill="#472f7d"/>
<rect x="250" y="641" width="9" height="9" fill="#46327e"/>
<rect x="259" y="641" width="9" height="9" fill="#3f4788"/>
<rect x="268" y="641" width="8" height="9" fill="#277f8e"/>
<rect x="276" y="641" width="9" height="9" fill="#1f968b"/>
<rect x="285" y="641" width="9" height="9" fill="#1fa088"/>
<rect x="294" y="641" width="9" height="9" fill="#fde725"/>
<rect x="303" y="641" width="9" height="9" fill="#29af7f"/>
<rect x="312" y="641" width="8" height="9" fill="#365c8d"/>
<rect x="320" y="641" width="9" height="9" fill="#481f70"/>
<rect x="329" y="641" width="9" height="9" fill="#472f7d"/>
<rect x="338" y="641" width="9" height="9" fill="#440154"/>
<rect x="347" y="641" width="52" height="9" fill="#45075a"/>
<rect x="417" y="641" width="26" height="9" fill="#440154"/>
<rect x="470" y="641" width="9" height="9" fill="#440154"/>
<rect x="479" y="641" width="8" height="9" fill="#471567"/>
<rect x="127" y="650" width="61" height="9" fill="#450659"/>
<rect x="232" y="650" width="9" height="9" fill="#440154"/>
<rect x="241" y="650" width="9" height="9" fill="#481f70"/>
<rect x="250" y="650" width="9" height="9" fill="#472e7c"/>
<rect x="259" y="650" width="9" height="9" fill="#31688e"/>
<rect x="268" y="650" width="8" height="9" fill="#2f6c8e"/>
<rect x="276" y="650" width="9" height="9" fill="#2a788e"/>
<rect x="285" y="650" width="9" height="9" fill="#50c46a"/>
<rect x="294" y="650" width="9" height="9" fill="#5ec962"/>
<rect x="303" y="650" width="9" height="9" fill="#21918c"/>
<rect x="312" y="650" width="8" height="9" fill="#2e6e8e"/>
<rect x="320" y="650" width="9" height="9" fill="#33628d"/>
<rect x="329" y="650" width="9" height="9" fill="#46095c"/>
<rect x="338" y="650" width="9" height="9" fill="#481467"/>
<rect x="347" y="650" width="9" height="9" fill="#45075a"/>
<rect x="356" y="650" width="8" height="9" fill="#46307e"/>
<rect x="364" y="650" width="27" height="9" fill="#45075a"/>
<rect x="408" y="650" width="35" height="9" fill="#440154"/>
<rect x="461" y="650" width="18" height="9" fill="#440154"/>
<rect x="127" y="659" width="35" height="9" fill="#450457"/>
<rect x="171" y="659" width="17" height="9" fill="#450659"/>
<rect x="206" y="659" width="35" height="9" fill="#440154"/>
<rect x="241" y="659" width="9" height="9" fill="#481668"/>
<rect x="250" y="659" width="9" height="9" fill="#355f8d"/>
<rect x="259" y="659" width="9" height="9" fill="#3c508b"/>
<rect x="268" y="659" width="8" height="9" fill="#2d718e"/>
<rect x="276" y="659" width="9" height="9" fill="#3dbc74"/>
<rect x="285" y="659" width="9" height="9" fill="#1fa187"/>
<rect x="294" y="659" width="9" height="9" fill="#54c568"/>
<rect x="303" y="659" width="9" height="9" fill="#21908d"/>
<rect x="312" y="659" width="8" height="9" fill="#3b528b"/>
<rect x="338" y="659" width="9" height="9" fill="#450659"/>
<rect x="347" y="659" width="9" height="9" fill="#471164"/>
<rect x="356" y="659" width="8" height="9" fill="#45075a"/>
<rect x="364" y="659" width="9" height="9" fill="#471365"/>
<rect x="373" y="659" width="9" height="9" fill="#482173"/>
<rect x="382" y="659" width="9" height="9" fill="#471365"/>
<rect x="391" y="659" width="8" height="9" fill="#45075a"/>
<rect x="408" y="659" width="27" height="9" fill="#440154"/>
<rect x="443" y="659" width="9" height="9" fill="#440154"/>
<rect x="461" y="659" width="18" height="9" fill="#440154"/>
<rect x="153" y="668" width="9" height="8" fill="#45085b"/>
<rect x="180" y="668" width="8" height="8" fill="#45085b"/>
<rect x="188" y="668" width="9" height="8" fill="#481a6c"/>
<rect x="197" y="668" width="9" height="8" fill="#472c7a"/>
<rect x="206" y="668" width="9" height="8" fill="#45085b"/>
<rect x="224" y="668" width="8" height="8" fill="#440154"/>
<rect x="250" y="668" width="9" height="8" fill="#450659"/>
<rect x="276" y="668" width="9" height="8" fill="#26828e"/>
<rect x="285" y="668" width="9" height="8" fill="#1f9e89"/>
<rect x="294" y="668" width="9" height="8" fill="#1f988b"/>
<rect x="303" y="668" width="9" height="8" fill="#25858e"/>
<rect x="312" y="668" width="8" height="8" fill="#46327e"/>
<rect x="320" y="668" width="9" height="8" fill="#450457"/>
<rect x="347" y="668" width="9" height="8" fill="#471365"/>
<rect x="356" y="668" width="17" height="8" fill="#45075a"/>
<rect x="373" y="668" width="9" height="8" fill="#471365"/>
<rect x="382" y="668" width="9" height="8" fill="#45075a"/>
<rect x="408" y="668" width="9" height="8" fill="#440154"/>
<rect x="443" y="668" width="9" height="8" fill="#440154"/>
<rect x="452" y="668" width="9" height="8" fill="#45095c"/>
<rect x="136" y="676" width="9" height="9" fill="#45095c"/>
<rect x="145" y="676" width="17" height="9" fill="#481a6c"/>
<rect x="162" y="676" width="9" height="9" fill="#472d7b"/>
<rect x="171" y="676" width="44" height="9" fill="#471365"/>
<rect x="232" y="676" width="9" height="9" fill="#440154"/>
<rect x="241" y="676" width="18" height="9" fill="#450659"/>
<rect x="268" y="676" width="8" height="9" fill="#453882"/>
<rect x="276" y="676" width="9" height="9" fill="#443a83"/>
<rect x="285" y="676" width="9" height="9" fill="#32658e"/>
<rect x="294" y="676" width="9" height="9" fill="#1f978b"/>
<rect x="303" y="676" width="9" height="9" fill="#20928c"/>
<rect x="312" y="676" width="8" height="9" fill="#46327e"/>
<rect x="320" y="676" width="9" height="9" fill="#443a83"/>
<rect x="329" y="676" width="9" height="9" fill="#450457"/>
<rect x="347" y="676" width="9" height="9" fill="#45075a"/>
<rect x="356" y="676" width="26" height="9" fill="#471365"/>
<rect x="382" y="676" width="9" height="9" fill="#45075a"/>
<rect x="408" y="676" width="9" height="9" fill="#440154"/>
<rect x="435" y="676" width="8" height="9" fill="#440154"/>
<rect x="443" y="676" width="9" height="9" fill="#45095c"/>
<rect x="118" y="685" width="9" height="9" fill="#481769"/>
<rect x="127" y="685" width="9" height="9" fill="#482071"/>
<rect x="136" y="685" width="9" height="9" fill="#472c7a"/>
<rect x="145" y="685" width="8" height="9" fill="#472d7b"/>
<rect x="153" y="685" width="9" height="9" fill="#453581"/>
<rect x="162" y="685" width="9" height="9" fill="#482475"/>
<rect x="188" y="685" width="18" height="9" fill="#450659"/>
<rect x="206" y="685" width="35" height="9" fill="#45085b"/>
<rect x="241" y="685" width="18" height="9" fill="#450457"/>
<rect x="259" y="685" width="9" height="9" fill="#414487"/>
<rect x="268" y="685" width="8" height="9" fill="#481c6e"/>
<rect x="276" y="685" width="9" height="9" fill="#482475"/>
<rect x="294" y="685" width="9" height="9" fill="#481f70"/>
<rect x="303" y="685" width="9" height="9" fill="#3c4f8a"/>
<rect x="312" y="685" width="8" height="9" fill="#39568c"/>
<rect x="320" y="685" width="9" height="9" fill="#46095c"/>
<rect x="347" y="685" width="35" height="9" fill="#45075a"/>
<rect x="382" y="685" width="9" height="9" fill="#481f70"/>
<rect x="435" y="685" width="17" height="9" fill="#440154"/>
<rect x="109" y="694" width="9" height="9" fill="#472d7b"/>
<rect x="118" y="694" width="9" height="9" fill="#414487"/>
<rect x="127" y="694" width="9" height="9" fill="#3b528b"/>
<rect x="136" y="694" width="9" height="9" fill="#38588c"/>
<rect x="145" y="694" width="8" height="9" fill="#482878"/>
<rect x="153" y="694" width="9" height="9" fill="#481f70"/>
<rect x="162" y="694" width="9" height="9" fill="#472d7b"/>
<rect x="188" y="694" width="18" height="9" fill="#440154"/>
<rect x="215" y="694" width="17" height="9" fill="#45085b"/>
<rect x="241" y="694" width="9" height="9" fill="#450457"/>
<rect x="250" y="694" width="9" height="9" fill="#46095c"/>
<rect x="259" y="694" width="9" height="9" fill="#481f70"/>
<rect x="276" y="694" width="9" height="9" fill="#482071"/>
<rect x="285" y="694" width="9" height="9" fill="#440154"/>
<rect x="303" y="694" width="9" height="9" fill="#481b6d"/>
<rect x="312" y="694" width="8" height="9" fill="#2c728e"/>
<rect x="320" y="694" width="9" height="9" fill="#450457"/>
<rect x="347" y="694" width="17" height="9" fill="#440154"/>
<rect x="382" y="694" width="17" height="9" fill="#440154"/>
<rect x="408" y="694" width="9" height="9" fill="#440154"/>
<rect x="435" y="694" width="8" height="9" fill="#440154"/>
<rect x="92" y="703" width="9" height="9" fill="#45075a"/>
<rect x="101" y="703" width="8" height="9" fill="#472d7b"/>
<rect x="109" y="703" width="9" height="9" fill="#472e7c"/>
<rect x="118" y="703" width="9" height="9" fill="#482979"/>
<rect x="136" y="703" width="9" height="9" fill="#26828e"/>
<rect x="145" y="703" width="8" height="9" fill="#482071"/>
<rect x="153" y="703" width="9" height="9" fill="#460a5d"/>
<rect x="162" y="703" width="9" height="9" fill="#26828e"/>
<rect x="171" y="703" width="9" height="9" fill="#45085b"/>
<rect x="180" y="703" width="17" height="9" fill="#440154"/>
<rect x="197" y="703" width="35" height="9" fill="#450659"/>
<rect x="276" y="703" width="9" height="9" fill="#471365"/>
<rect x="285" y="703" width="9" height="9" fill="#440154"/>
<rect x="303" y="703" width="9" height="9" fill="#481f70"/>
<rect x="312" y="703" width="8" height="9" fill="#471365"/>
<rect x="338" y="703" width="18" height="9" fill="#450356"/>
<rect x="391" y="703" width="8" height="9" fill="#45075a"/>
<rect x="399" y="703" width="9" height="9" fill="#450356"/>
<rect x="417" y="703" width="9" height="9" fill="#440154"/>
<rect x="435" y="703" width="8" height="9" fill="#440154"/>
<rect x="443" y="703" width="9" height="9" fill="#481769"/>
<rect x="109" y="712" width="9" height="8" fill="#482071"/>
<rect x="136" y="712" width="9" height="8" fill="#3e4989"/>
<rect x="145" y="712" width="8" height="8" fill="#433e85"/>
<rect x="153" y="712" width="9" height="8" fill="#414487"/>
<rect x="162" y="712" width="9" height="8" fill="#481f70"/>
<rect x="171" y="712" width="9" height="8" fill="#443a83"/>
<rect x="180" y="712" width="8" height="8" fill="#481c6e"/>
<rect x="197" y="712" width="44" height="8" fill="#471365"/>
<rect x="276" y="712" width="9" height="8" fill="#440154"/>
<rect x="285" y="712" width="9" height="8" fill="#450659"/>
<rect x="294" y="712" width="9" height="8" fill="#453781"/>
<rect x="303" y="712" width="9" height="8" fill="#414287"/>
<rect x="320" y="712" width="9" height="8" fill="#471365"/>
<rect x="329" y="712" width="27" height="8" fill="#450457"/>
<rect x="373" y="712" width="26" height="8" fill="#45075a"/>
<rect x="408" y="712" width="9" height="8" fill="#45075a"/>
<rect x="417" y="712" width="18" height="8" fill="#440154"/>
<rect x="443" y="712" width="9" height="8" fill="#45095c"/>
<rect x="109" y="720" width="9" height="9" fill="#440154"/>
<rect x="136" y="720" width="9" height="9" fill="#3b528b"/>
<rect x="162" y="720" width="9" height="9" fill="#482475"/>
<rect x="171" y="720" width="9" height="9" fill="#414487"/>
<rect x="180" y="720" width="8" height="9" fill="#481f70"/>
<rect x="197" y="720" width="27" height="9" fill="#471365"/>
<rect x="224" y="720" width="8" height="9" fill="#481f70"/>
<rect x="232" y="720" width="9" height="9" fill="#471365"/>
<rect x="250" y="720" width="18" height="9" fill="#440154"/>
<rect x="285" y="720" width="9" height="9" fill="#481668"/>
<rect x="294" y="720" width="9" height="9" fill="#482878"/>
<rect x="303" y="720" width="9" height="9" fill="#482374"/>
<rect x="329" y="720" width="18" height="9" fill="#450457"/>
<rect x="364" y="720" width="35" height="9" fill="#45075a"/>
<rect x="408" y="720" width="9" height="9" fill="#45075a"/>
<rect x="417" y="720" width="35" height="9" fill="#45085b"/>
<rect x="127" y="729" width="9" height="9" fill="#46307e"/>
<rect x="136" y="729" width="9" height="9" fill="#31668e"/>
<rect x="145" y="729" width="8" height="9" fill="#3b528b"/>
<rect x="153" y="729" width="9" height="9" fill="#414487"/>
<rect x="162" y="729" width="9" height="9" fill="#2d708e"/>
<rect x="171" y="729" width="9" height="9" fill="#33638d"/>
<rect x="180" y="729" width="17" height="9" fill="#481f70"/>
<rect x="197" y="729" width="18" height="9" fill="#471365"/>
<rect x="215" y="729" width="9" height="9" fill="#472d7b"/>
<rect x="224" y="729" width="8" height="9" fill="#450457"/>
<rect x="232" y="729" width="9" height="9" fill="#471365"/>
<rect x="250" y="729" width="18" height="9" fill="#45075a"/>
<rect x="268" y="729" width="17" height="9" fill="#481f70"/>
<rect x="285" y="729" width="18" height="9" fill="#482071"/>
<rect x="303" y="729" width="17" height="9" fill="#45075a"/>
<rect x="320" y="729" width="9" height="9" fill="#440154"/>
<rect x="347" y="729" width="9" height="9" fill="#450457"/>
<rect x="364" y="729" width="9" height="9" fill="#471365"/>
<rect x="382" y="729" width="35" height="9" fill="#440154"/>
<rect x="417" y="729" width="18" height="9" fill="#450659"/>
<rect x="435" y="729" width="8" height="9" fill="#45095c"/>
<rect x="127" y="738" width="9" height="9" fill="#481f70"/>
<rect x="136" y="738" width="9" height="9" fill="#31668e"/>
<rect x="145" y="738" width="8" height="9" fill="#30698e"/>
<rect x="153" y="738" width="9" height="9" fill="#3e4989"/>
<rect x="162" y="738" width="9" height="9" fill="#3d4d8a"/>
<rect x="171" y="738" width="9" height="9" fill="#26828e"/>
<rect x="180" y="738" width="8" height="9" fill="#3c508b"/>
<rect x="188" y="738" width="9" height="9" fill="#482677"/>
<rect x="197" y="738" width="27" height="9" fill="#482878"/>
<rect x="232" y="738" width="9" height="9" fill="#481a6c"/>
<rect x="241" y="738" width="9" height="9" fill="#45075a"/>
<rect x="250" y="738" width="18" height="9" fill="#481769"/>
<rect x="268" y="738" width="8" height="9" fill="#433e85"/>
<rect x="276" y="738" width="9" height="9" fill="#481f70"/>
<rect x="285" y="738" width="18" height="9" fill="#481769"/>
<rect x="320" y="738" width="9" height="9" fill="#481a6c"/>
<rect x="329" y="738" width="27" height="9" fill="#450457"/>
<rect x="356" y="738" width="8" height="9" fill="#471365"/>
<rect x="364" y="738" width="9" height="9" fill="#450457"/>
<rect x="382" y="738" width="26" height="9" fill="#440154"/>
<rect x="417" y="738" width="9" height="9" fill="#440154"/>
<rect x="426" y="738" width="9" height="9" fill="#45095c"/>
<rect x="127" y="747" width="9" height="9" fill="#450457"/>
<rect x="136" y="747" width="9" height="9" fill="#481a6c"/>
<rect x="153" y="747" width="9" height="9" fill="#472d7b"/>
<rect x="162" y="747" width="9" height="9" fill="#443a83"/>
<rect x="171" y="747" width="9" height="9" fill="#31688e"/>
<rect x="180" y="747" width="8" height="9" fill="#2f6b8e"/>
<rect x="188" y="747" width="9" height="9" fill="#31678e"/>
<rect x="197" y="747" width="9" height="9" fill="#3b528b"/>
<rect x="206" y="747" width="9" height="9" fill="#404688"/>
<rect x="215" y="747" width="9" height="9" fill="#453581"/>
<rect x="224" y="747" width="8" height="9" fill="#472d7b"/>
<rect x="232" y="747" width="9" height="9" fill="#414487"/>
<rect x="241" y="747" width="9" height="9" fill="#3b528b"/>
<rect x="268" y="747" width="8" height="9" fill="#481f70"/>
<rect x="276" y="747" width="9" height="9" fill="#481c6e"/>
<rect x="285" y="747" width="9" height="9" fill="#471365"/>
<rect x="294" y="747" width="18" height="9" fill="#440154"/>
<rect x="320" y="747" width="18" height="9" fill="#450457"/>
<rect x="347" y="747" width="9" height="9" fill="#450457"/>
<rect x="356" y="747" width="52" height="9" fill="#471365"/>
<rect x="426" y="747" width="17" height="9" fill="#440154"/>
<rect x="180" y="756" width="8" height="8" fill="#3c4f8a"/>
<rect x="188" y="756" width="9" height="8" fill="#404688"/>
<rect x="197" y="756" width="9" height="8" fill="#26828e"/>
<rect x="206" y="756" width="9" height="8" fill="#424086"/>
<rect x="215" y="756" width="9" height="8" fill="#46327e"/>
<rect x="224" y="756" width="8" height="8" fill="#424086"/>
<rect x="232" y="756" width="9" height="8" fill="#414487"/>
<rect x="241" y="756" width="27" height="8" fill="#45075a"/>
<rect x="268" y="756" width="8" height="8" fill="#481769"/>
<rect x="276" y="756" width="36" height="8" fill="#450356"/>
<rect x="373" y="756" width="9" height="8" fill="#481a6c"/>
<rect x="382" y="756" width="9" height="8" fill="#471365"/>
<rect x="391" y="756" width="8" height="8" fill="#481769"/>
<rect x="399" y="756" width="18" height="8" fill="#471365"/>
<rect x="435" y="756" width="8" height="8" fill="#440154"/>
<rect x="188" y="764" width="9" height="9" fill="#355f8d"/>
<rect x="197" y="764" width="9" height="9" fill="#424086"/>
<rect x="206" y="764" width="9" height="9" fill="#481f70"/>
<rect x="224" y="764" width="8" height="9" fill="#481c6e"/>
<rect x="232" y="764" width="9" height="9" fill="#3f4788"/>
<rect x="241" y="764" width="9" height="9" fill="#481f70"/>
<rect x="250" y="764" width="9" height="9" fill="#443983"/>
<rect x="259" y="764" width="9" height="9" fill="#433e85"/>
<rect x="268" y="764" width="8" height="9" fill="#481f70"/>
<rect x="391" y="764" width="8" height="9" fill="#45075a"/>
<rect x="408" y="764" width="9" height="9" fill="#440154"/>
<rect x="426" y="764" width="17" height="9" fill="#440154"/>
<rect x="188" y="773" width="18" height="9" fill="#450457"/>
<rect x="215" y="773" width="9" height="9" fill="#45075a"/>
<rect x="224" y="773" width="8" height="9" fill="#481f70"/>
<rect x="232" y="773" width="9" height="9" fill="#3e4989"/>
<rect x="241" y="773" width="9" height="9" fill="#481f70"/>
<rect x="250" y="773" width="9" height="9" fill="#414487"/>
<rect x="259" y="773" width="9" height="9" fill="#3b528b"/>
<rect x="268" y="773" width="8" height="9" fill="#482878"/>
<rect x="391" y="773" width="8" height="9" fill="#471365"/>
<rect x="408" y="773" width="9" height="9" fill="#440154"/>
<rect x="426" y="773" width="9" height="9" fill="#440154"/>
<rect x="215" y="782" width="9" height="9" fill="#471365"/>
<rect x="224" y="782" width="8" height="9" fill="#482576"/>
<rect x="232" y="782" width="9" height="9" fill="#481c6e"/>
<rect x="250" y="782" width="9" height="9" fill="#472d7b"/>
<rect x="259" y="782" width="9" height="9" fill="#453781"/>
<rect x="268" y="782" width="8" height="9" fill="#482475"/>
<rect x="408" y="782" width="9" height="9" fill="#450457"/>
<rect x="417" y="782" width="26" height="9" fill="#440154"/>
<rect x="215" y="791" width="9" height="9" fill="#472d7b"/>
<rect x="224" y="791" width="8" height="9" fill="#424086"/>
<rect x="232" y="791" width="9" height="9" fill="#481a6c"/>
<rect x="259" y="791" width="9" height="9" fill="#481c6e"/>
<rect x="426" y="791" width="17" height="9" fill="#440154"/>
<rect x="224" y="800" width="8" height="8" fill="#471365"/>
<rect x="435" y="800" width="8" height="8" fill="#440154"/>
</g>
<rect x="64.38" y="96" width="494.38" height="1.1" fill="#000"/>
<rect x="556.76" y="96" width="2" height="712.90" fill="#000"/>
<rect x="64.38" y="807.0" width="494.38" height="1.9" fill="#000"/>
<rect x="64.00" y="96" width="2.6" height="712.90" fill="#000"/>
<line x1="109.34" y1="808.00" x2="109.34" y2="817.90" stroke="#000" stroke-width="2" stroke-linecap="round"/>
<text class="tk" x="108.84" y="848.85" text-anchor="middle">4020000</text>
<line x1="197.27" y1="808.00" x2="197.27" y2="817.90" stroke="#000" stroke-width="2" stroke-linecap="round"/>
<line x1="285.19" y1="808.00" x2="285.19" y2="817.90" stroke="#000" stroke-width="2" stroke-linecap="round"/>
<text class="tk" x="284.69" y="848.85" text-anchor="middle">4040000</text>
<line x1="373.12" y1="808.00" x2="373.12" y2="817.90" stroke="#000" stroke-width="2" stroke-linecap="round"/>
<line x1="461.04" y1="808.00" x2="461.04" y2="817.90" stroke="#000" stroke-width="2" stroke-linecap="round"/>
<text class="tk" x="460.54" y="848.85" text-anchor="middle">4060000</text>
<line x1="548.97" y1="808.00" x2="548.97" y2="817.90" stroke="#000" stroke-width="2" stroke-linecap="round"/>
<line x1="55.68" y1="755.54" x2="65.38" y2="755.54" stroke="#000" stroke-width="2" stroke-linecap="round"/>
<text class="tk" transform="translate(47.78,756.04) rotate(-90)" text-anchor="middle">2940000</text>
<line x1="55.68" y1="579.69" x2="65.38" y2="579.69" stroke="#000" stroke-width="2" stroke-linecap="round"/>
<text class="tk" transform="translate(47.78,580.19) rotate(-90)" text-anchor="middle">2960000</text>
<line x1="55.68" y1="403.84" x2="65.38" y2="403.84" stroke="#000" stroke-width="2" stroke-linecap="round"/>
<text class="tk" transform="translate(47.78,404.34) rotate(-90)" text-anchor="middle">2980000</text>
<line x1="55.68" y1="227.99" x2="65.38" y2="227.99" stroke="#000" stroke-width="2" stroke-linecap="round"/>
<text class="tk" transform="translate(47.78,228.49) rotate(-90)" text-anchor="middle">3e+06</text>
<text class="ti" x="311.4" y="76.8" text-anchor="middle">opportunities_people</text>
<g shape-rendering="crispEdges">
<rect x="950" y="96" width="9" height="9" fill="#440154"/>
<rect x="924" y="105" width="8" height="9" fill="#450457"/>
<rect x="941" y="105" width="9" height="9" fill="#46085c"/>
<rect x="950" y="105" width="9" height="9" fill="#460b5e"/>
<rect x="959" y="105" width="9" height="9" fill="#471063"/>
<rect x="994" y="105" width="9" height="9" fill="#471365"/>
<rect x="924" y="114" width="8" height="8" fill="#481769"/>
<rect x="941" y="114" width="9" height="8" fill="#481b6d"/>
<rect x="968" y="114" width="8" height="8" fill="#481d6f"/>
<rect x="994" y="114" width="9" height="8" fill="#482173"/>
<rect x="1003" y="114" width="9" height="8" fill="#482475"/>
<rect x="1012" y="114" width="8" height="8" fill="#482878"/>
<rect x="924" y="122" width="8" height="9" fill="#472c7a"/>
<rect x="932" y="122" width="9" height="9" fill="#472e7c"/>
<rect x="950" y="122" width="9" height="9" fill="#46327e"/>
<rect x="959" y="122" width="9" height="9" fill="#463480"/>
<rect x="968" y="122" width="8" height="9" fill="#453882"/>
<rect x="976" y="122" width="9" height="9" fill="#443a83"/>
<rect x="985" y="122" width="9" height="9" fill="#433e85"/>
<rect x="924" y="131" width="8" height="9" fill="#424186"/>
<rect x="932" y="131" width="9" height="9" fill="#414487"/>
<rect x="950" y="131" width="9" height="9" fill="#3f4788"/>
<rect x="959" y="131" width="9" height="9" fill="#3e4989"/>
<rect x="985" y="131" width="9" height="9" fill="#3d4d8a"/>
<rect x="994" y="131" width="9" height="9" fill="#3c508b"/>
<rect x="932" y="140" width="9" height="9" fill="#3b528b"/>
<rect x="941" y="140" width="9" height="9" fill="#39558c"/>
<rect x="950" y="140" width="9" height="9" fill="#38588c"/>
<rect x="968" y="140" width="8" height="9" fill="#375b8d"/>
<rect x="985" y="140" width="9" height="9" fill="#365d8d"/>
<rect x="1003" y="140" width="9" height="9" fill="#34608d"/>
<rect x="924" y="149" width="8" height="9" fill="#33638d"/>
<rect x="932" y="149" width="9" height="9" fill="#32658e"/>
<rect x="941" y="149" width="9" height="9" fill="#31688e"/>
<rect x="950" y="149" width="9" height="9" fill="#306a8e"/>
<rect x="959" y="149" width="9" height="9" fill="#2e6d8e"/>
<rect x="968" y="149" width="8" height="9" fill="#2d708e"/>
<rect x="976" y="149" width="9" height="9" fill="#2c718e"/>
<rect x="985" y="149" width="9" height="9" fill="#2b748e"/>
<rect x="994" y="149" width="9" height="9" fill="#2a768e"/>
<rect x="1003" y="149" width="9" height="9" fill="#29798e"/>
<rect x="1012" y="149" width="8" height="9" fill="#287c8e"/>
<rect x="1020" y="149" width="9" height="9" fill="#277e8e"/>
<rect x="880" y="158" width="8" height="8" fill="#26818e"/>
<rect x="888" y="158" width="9" height="8" fill="#26828e"/>
<rect x="897" y="158" width="9" height="8" fill="#25858e"/>
<rect x="906" y="158" width="9" height="8" fill="#24878e"/>
<rect x="924" y="158" width="8" height="8" fill="#238a8d"/>
<rect x="932" y="158" width="9" height="8" fill="#228d8d"/>
<rect x="941" y="158" width="9" height="8" fill="#218f8d"/>
<rect x="968" y="158" width="8" height="8" fill="#20928c"/>
<rect x="994" y="158" width="9" height="8" fill="#20938c"/>
<rect x="880" y="166" width="8" height="9" fill="#1f968b"/>
<rect x="888" y="166" width="9" height="9" fill="#1f998a"/>
<rect x="897" y="166" width="9" height="9" fill="#1e9b8a"/>
<rect x="906" y="166" width="9" height="9" fill="#1f9e89"/>
<rect x="915" y="166" width="9" height="9" fill="#1fa088"/>
<rect x="924" y="166" width="8" height="9" fill="#1fa287"/>
<rect x="932" y="166" width="9" height="9" fill="#20a486"/>
<rect x="985" y="166" width="9" height="9" fill="#22a785"/>
<rect x="994" y="166" width="9" height="9" fill="#24aa83"/>
<rect x="1003" y="166" width="9" height="9" fill="#25ac82"/>
<rect x="1012" y="166" width="8" height="9" fill="#28ae80"/>
<rect x="897" y="175" width="9" height="9" fill="#2ab07f"/>
<rect x="906" y="175" width="9" height="9" fill="#2eb37c"/>
<rect x="915" y="175" width="9" height="9" fill="#32b67a"/>
<rect x="924" y="175" width="8" height="9" fill="#35b779"/>
<rect x="950" y="175" width="9" height="9" fill="#3aba76"/>
<rect x="968" y="175" width="8" height="9" fill="#3dbc74"/>
<rect x="976" y="175" width="9" height="9" fill="#42be71"/>
<rect x="985" y="175" width="9" height="9" fill="#48c16e"/>
<rect x="994" y="175" width="9" height="9" fill="#4cc26c"/>
<rect x="1003" y="175" width="9" height="9" fill="#52c569"/>
<rect x="1012" y="175" width="8" height="9" fill="#56c667"/>
<rect x="888" y="184" width="9" height="9" fill="#5cc863"/>
<rect x="906" y="184" width="9" height="9" fill="#60ca60"/>
<rect x="915" y="184" width="9" height="9" fill="#67cc5c"/>
<rect x="924" y="184" width="8" height="9" fill="#6ece58"/>
<rect x="932" y="184" width="9" height="9" fill="#73d056"/>
<rect x="968" y="184" width="8" height="9" fill="#7ad151"/>
<rect x="976" y="184" width="9" height="9" fill="#7fd34e"/>
<rect x="985" y="184" width="9" height="9" fill="#86d549"/>
<rect x="862" y="193" width="9" height="9" fill="#8ed645"/>
<rect x="888" y="193" width="9" height="9" fill="#93d741"/>
<rect x="906" y="193" width="9" height="9" fill="#9bd93c"/>
<rect x="915" y="193" width="9" height="9" fill="#a0da39"/>
<rect x="924" y="193" width="8" height="9" fill="#a8db34"/>
<rect x="959" y="193" width="9" height="9" fill="#addc30"/>
<rect x="968" y="193" width="8" height="9" fill="#b5de2b"/>
<rect x="976" y="193" width="9" height="9" fill="#bddf26"/>
<rect x="985" y="193" width="9" height="9" fill="#c2df23"/>
<rect x="845" y="202" width="8" height="8" fill="#cae11f"/>
<rect x="853" y="202" width="9" height="8" fill="#d0e11c"/>
<rect x="862" y="202" width="9" height="8" fill="#d8e219"/>
<rect x="871" y="202" width="9" height="8" fill="#dfe318"/>
<rect x="880" y="202" width="8" height="8" fill="#e5e419"/>
<rect x="897" y="202" width="9" height="8" fill="#ece51b"/>
<rect x="906" y="202" width="9" height="8" fill="#f1e51d"/>
<rect x="915" y="202" width="9" height="8" fill="#f8e621"/>
<rect x="924" y="202" width="8" height="8" fill="#fde725"/>
<rect x="932" y="202" width="9" height="8" fill="#440154"/>
<rect x="941" y="202" width="9" height="8" fill="#450457"/>
<rect x="950" y="202" width="9" height="8" fill="#46085c"/>
<rect x="959" y="202" width="9" height="8" fill="#460b5e"/>
<rect x="976" y="202" width="9" height="8" fill="#471063"/>
<rect x="853" y="210" width="9" height="9" fill="#471365"/>
<rect x="871" y="210" width="9" height="9" fill="#481769"/>
<rect x="880" y="210" width="8" height="9" fill="#481b6d"/>
<rect x="888" y="210" width="9" height="9" fill="#481d6f"/>
<rect x="897" y="210" width="9" height="9" fill="#482173"/>
<rect x="906" y="210" width="9" height="9" fill="#482475"/>
<rect x="932" y="210" width="9" height="9" fill="#482878"/>
<rect x="941" y="210" width="9" height="9" fill="#472c7a"/>
<rect x="950" y="210" width="9" height="9" fill="#472e7c"/>
<rect x="959" y="210" width="9" height="9" fill="#46327e"/>
<rect x="968" y="210" width="8" height="9" fill="#463480"/>
<rect x="976" y="210" width="9" height="9" fill="#453882"/>
<rect x="985" y="210" width="9" height="9" fill="#443a83"/>
<rect x="853" y="219" width="9" height="9" fill="#433e85"/>
<rect x="862" y="219" width="9" height="9" fill="#424186"/>
<rect x="871" y="219" width="9" height="9" fill="#414487"/>
<rect x="888" y="219" width="9" height="9" fill="#3f4788"/>
<rect x="897" y="219" width="9" height="9" fill="#3e4989"/>
<rect x="941" y="219" width="9" height="9" fill="#3d4d8a"/>
<rect x="950" y="219" width="9" height="9" fill="#3c508b"/>
<rect x="968" y="219" width="8" height="9" fill="#3b528b"/>
<rect x="976" y="219" width="9" height="9" fill="#39558c"/>
<rect x="985" y="219" width="9" height="9" fill="#38588c"/>
<rect x="1012" y="219" width="8" height="9" fill="#375b8d"/>
<rect x="853" y="228" width="9" height="9" fill="#365d8d"/>
<rect x="862" y="228" width="9" height="9" fill="#34608d"/>
<rect x="897" y="228" width="9" height="9" fill="#33638d"/>
<rect x="924" y="228" width="8" height="9" fill="#32658e"/>
<rect x="941" y="228" width="9" height="9" fill="#31688e"/>
<rect x="959" y="228" width="9" height="9" fill="#306a8e"/>
<rect x="976" y="228" width="9" height="9" fill="#2e6d8e"/>
<rect x="985" y="228" width="9" height="9" fill="#2d708e"/>
<rect x="1012" y="228" width="8" height="9" fill="#2c718e"/>
<rect x="845" y="237" width="8" height="9" fill="#2b748e"/>
<rect x="862" y="237" width="9" height="9" fill="#2a768e"/>
<rect x="880" y="237" width="8" height="9" fill="#29798e"/>
<rect x="915" y="237" width="9" height="9" fill="#287c8e"/>
<rect x="959" y="237" width="9" height="9" fill="#277e8e"/>
<rect x="968" y="237" width="8" height="9" fill="#26818e"/>
<rect x="976" y="237" width="9" height="9" fill="#26828e"/>
<rect x="1012" y="237" width="8" height="9" fill="#25858e"/>
<rect x="827" y="246" width="9" height="8" fill="#24878e"/>
<rect x="836" y="246" width="9" height="8" fill="#238a8d"/>
<rect x="845" y="246" width="8" height="8" fill="#228d8d"/>
<rect x="853" y="246" width="9" height="8" fill="#218f8d"/>
<rect x="862" y="246" width="9" height="8" fill="#20928c"/>
<rect x="871" y="246" width="9" height="8" fill="#20938c"/>
<rect x="880" y="246" width="8" height="8" fill="#1f968b"/>
<rect x="897" y="246" width="9" height="8" fill="#1f998a"/>
<rect x="906" y="246" width="9" height="8" fill="#1e9b8a"/>
<rect x="915" y="246" width="9" height="8" fill="#1f9e89"/>
<rect x="932" y="246" width="9" height="8" fill="#1fa088"/>
<rect x="976" y="246" width="9" height="8" fill="#1fa287"/>
<rect x="985" y="246" width="9" height="8" fill="#20a486"/>
<rect x="994" y="246" width="9" height="8" fill="#22a785"/>
<rect x="827" y="254" width="9" height="9" fill="#24aa83"/>
<rect x="836" y="254" width="9" height="9" fill="#25ac82"/>
<rect x="853" y="254" width="9" height="9" fill="#28ae80"/>
<rect x="862" y="254" width="9" height="9" fill="#2ab07f"/>
<rect x="906" y="254" width="9" height="9" fill="#2eb37c"/>
<rect x="924" y="254" width="8" height="9" fill="#32b67a"/>
<rect x="932" y="254" width="9" height="9" fill="#35b779"/>
<rect x="950" y="254" width="9" height="9" fill="#3aba76"/>
<rect x="959" y="254" width="9" height="9" fill="#3dbc74"/>
<rect x="968" y="254" width="8" height="9" fill="#42be71"/>
<rect x="985" y="254" width="9" height="9" fill="#48c16e"/>
<rect x="994" y="254" width="9" height="9" fill="#4cc26c"/>
<rect x="897" y="263" width="9" height="9" fill="#52c569"/>
<rect x="924" y="263" width="8" height="9" fill="#56c667"/>
<rect x="932" y="263" width="9" height="9" fill="#5cc863"/>
<rect x="985" y="263" width="9" height="9" fill="#60ca60"/>
<rect x="994" y="263" width="9" height="9" fill="#67cc5c"/>
<rect x="1020" y="263" width="9" height="9" fill="#6ece58"/>
<rect x="845" y="272" width="8" height="9" fill="#73d056"/>
<rect x="853" y="272" width="9" height="9" fill="#7ad151"/>
<rect x="897" y="272" width="9" height="9" fill="#7fd34e"/>
<rect x="924" y="272" width="8" height="9" fill="#86d549"/>
<rect x="932" y="272" width="9" height="9" fill="#8ed645"/>
<rect x="941" y="272" width="9" height="9" fill="#93d741"/>
<rect x="985" y="272" width="9" height="9" fill="#9bd93c"/>
<rect x="994" y="272" width="9" height="9" fill="#a0da39"/>
<rect x="1020" y="272" width="9" height="9" fill="#a8db34"/>
<rect x="827" y="281" width="9" height="9" fill="#addc30"/>
<rect x="836" y="281" width="9" height="9" fill="#b5de2b"/>
<rect x="845" y="281" width="8" height="9" fill="#bddf26"/>
<rect x="853" y="281" width="9" height="9" fill="#c2df23"/>
<rect x="862" y="281" width="9" height="9" fill="#cae11f"/>
<rect x="871" y="281" width="9" height="9" fill="#d0e11c"/>
<rect x="880" y="281" width="8" height="9" fill="#d8e219"/>
<rect x="897" y="281" width="9" height="9" fill="#dfe318"/>
<rect x="906" y="281" width="9" height="9" fill="#e5e419"/>
<rect x="924" y="281" width="8" height="9" fill="#ece51b"/>
<rect x="932" y="281" width="9" height="9" fill="#f1e51d"/>
<rect x="941" y="281" width="9" height="9" fill="#f8e621"/>
<rect x="976" y="281" width="9" height="9" fill="#fde725"/>
<rect x="985" y="281" width="9" height="9" fill="#440154"/>
<rect x="994" y="281" width="9" height="9" fill="#450457"/>
<rect x="1003" y="281" width="9" height="9" fill="#46085c"/>
<rect x="1012" y="281" width="8" height="9" fill="#460b5e"/>
<rect x="818" y="290" width="9" height="8" fill="#471063"/>
<rect x="827" y="290" width="9" height="8" fill="#471365"/>
<rect x="836" y="290" width="9" height="8" fill="#481769"/>
<rect x="853" y="290" width="9" height="8" fill="#481b6d"/>
<rect x="862" y="290" width="9" height="8" fill="#481d6f"/>
<rect x="880" y="290" width="8" height="8" fill="#482173"/>
<rect x="888" y="290" width="9" height="8" fill="#482475"/>
<rect x="897" y="290" width="9" height="8" fill="#482878"/>
<rect x="924" y="290" width="8" height="8" fill="#472c7a"/>
<rect x="932" y="290" width="9" height="8" fill="#472e7c"/>
<rect x="959" y="290" width="9" height="8" fill="#46327e"/>
<rect x="968" y="290" width="8" height="8" fill="#463480"/>
<rect x="985" y="290" width="9" height="8" fill="#453882"/>
<rect x="994" y="290" width="9" height="8" fill="#443a83"/>
<rect x="1003" y="290" width="9" height="8" fill="#433e85"/>
<rect x="1012" y="290" width="8" height="8" fill="#424186"/>
<rect x="801" y="298" width="8" height="9" fill="#414487"/>
<rect x="836" y="298" width="9" height="9" fill="#3f4788"/>
<rect x="845" y="298" width="8" height="9" fill="#3e4989"/>
<rect x="853" y="298" width="9" height="9" fill="#3d4d8a"/>
<rect x="871" y="298" width="9" height="9" fill="#3c508b"/>
<rect x="880" y="298" width="8" height="9" fill="#3b528b"/>
<rect x="888" y="298" width="9" height="9" fill="#39558c"/>
<rect x="915" y="298" width="9" height="9" fill="#38588c"/>
<rect x="932" y="298" width="9" height="9" fill="#375b8d"/>
<rect x="941" y="298" width="9" height="9" fill="#365d8d"/>
<rect x="959" y="298" width="9" height="9" fill="#34608d"/>
<rect x="968" y="298" width="8" height="9" fill="#33638d"/>
<rect x="985" y="298" width="9" height="9" fill="#32658e"/>
<rect x="994" y="298" width="9" height="9" fill="#31688e"/>
<rect x="1029" y="298" width="9" height="9" fill="#306a8e"/>
<rect x="792" y="307" width="9" height="9" fill="#2e6d8e"/>
<rect x="801" y="307" width="8" height="9" fill="#2d708e"/>
<rect x="836" y="307" width="9" height="9" fill="#2c718e"/>
<rect x="845" y="307" width="8" height="9" fill="#2b748e"/>
<rect x="880" y="307" width="8" height="9" fill="#2a768e"/>
<rect x="888" y="307" width="9" height="9" fill="#29798e"/>
<rect x="915" y="307" width="9" height="9" fill="#287c8e"/>
<rect x="932" y="307" width="9" height="9" fill="#277e8e"/>
<rect x="941" y="307" width="9" height="9" fill="#26818e"/>
<rect x="994" y="307" width="9" height="9" fill="#26828e"/>
<rect x="1003" y="307" width="9" height="9" fill="#25858e"/>
<rect x="1012" y="307" width="8" height="9" fill="#24878e"/>
<rect x="1020" y="307" width="9" height="9" fill="#238a8d"/>
<rect x="1029" y="307" width="9" height="9" fill="#228d8d"/>
<rect x="1038" y="307" width="9" height="9" fill="#218f8d"/>
<rect x="1047" y="307" width="9" height="9" fill="#20928c"/>
<rect x="792" y="316" width="9" height="9" fill="#20938c"/>
<rect x="845" y="316" width="8" height="9" fill="#1f968b"/>
<rect x="853" y="316" width="9" height="9" fill="#1f998a"/>
<rect x="897" y="316" width="9" height="9" fill="#1e9b8a"/>
<rect x="906" y="316" width="9" height="9" fill="#1f9e89"/>
<rect x="915" y="316" width="9" height="9" fill="#1fa088"/>
<rect x="941" y="316" width="9" height="9" fill="#1fa287"/>
<rect x="968" y="316" width="8" height="9" fill="#20a486"/>
<rect x="976" y="316" width="9" height="9" fill="#22a785"/>
<rect x="994" y="316" width="9" height="9" fill="#24aa83"/>
<rect x="1012" y="316" width="8" height="9" fill="#25ac82"/>
<rect x="1047" y="316" width="9" height="9" fill="#28ae80"/>
<rect x="792" y="325" width="9" height="8" fill="#2ab07f"/>
<rect x="801" y="325" width="8" height="8" fill="#2eb37c"/>
<rect x="853" y="325" width="9" height="8" fill="#32b67a"/>
<rect x="888" y="325" width="9" height="8" fill="#35b779"/>
<rect x="906" y="325" width="9" height="8" fill="#3aba76"/>
<rect x="915" y="325" width="9" height="8" fill="#3dbc74"/>
<rect x="941" y="325" width="9" height="8" fill="#42be71"/>
<rect x="976" y="325" width="9" height="8" fill="#48c16e"/>
<rect x="985" y="325" width="9" height="8" fill="#4cc26c"/>
<rect x="994" y="325" width="9" height="8" fill="#52c569"/>
<rect x="1012" y="325" width="8" height="8" fill="#56c667"/>
<rect x="1020" y="325" width="9" height="8" fill="#5cc863"/>
<rect x="1029" y="325" width="9" height="8" fill="#60ca60"/>
<rect x="1056" y="325" width="8" height="8" fill="#67cc5c"/>
<rect x="1064" y="325" width="9" height="8" fill="#6ece58"/>
<rect x="792" y="333" width="9" height="9" fill="#73d056"/>
<rect x="827" y="333" width="9" height="9" fill="#7ad151"/>
<rect x="836" y="333" width="9" height="9" fill="#7fd34e"/>
<rect x="845" y="333" width="8" height="9" fill="#86d549"/>
<rect x="853" y="333" width="9" height="9" fill="#8ed645"/>
<rect x="862" y="333" width="9" height="9" fill="#93d741"/>
<rect x="888" y="333" width="9" height="9" fill="#9bd93c"/>
<rect x="915" y="333" width="9" height="9" fill="#a0da39"/>
<rect x="932" y="333" width="9" height="9" fill="#a8db34"/>
<rect x="941" y="333" width="9" height="9" fill="#addc30"/>
<rect x="950" y="333" width="9" height="9" fill="#b5de2b"/>
<rect x="959" y="333" width="9" height="9" fill="#bddf26"/>
<rect x="968" y="333" width="8" height="9" fill="#c2df23"/>
<rect x="976" y="333" width="9" height="9" fill="#cae11f"/>
<rect x="985" y="333" width="9" height="9" fill="#d0e11c"/>
<rect x="994" y="333" width="9" height="9" fill="#d8e219"/>
<rect x="1029" y="333" width="9" height="9" fill="#dfe318"/>
<rect x="1056" y="333" width="8" height="9" fill="#e5e419"/>
<rect x="1064" y="333" width="9" height="9" fill="#ece51b"/>
<rect x="827" y="342" width="9" height="9" fill="#f1e51d"/>
<rect x="836" y="342" width="9" height="9" fill="#f8e621"/>
<rect x="845" y="342" width="8" height="9" fill="#fde725"/>
<rect x="853" y="342" width="9" height="9" fill="#440154"/>
<rect x="862" y="342" width="9" height="9" fill="#450457"/>
<rect x="871" y="342" width="9" height="9" fill="#46085c"/>
<rect x="906" y="342" width="9" height="9" fill="#460b5e"/>
<rect x="924" y="342" width="8" height="9" fill="#471063"/>
<rect x="932" y="342" width="9" height="9" fill="#471365"/>
<rect x="950" y="342" width="9" height="9" fill="#481769"/>
<rect x="959" y="342" width="9" height="9" fill="#481b6d"/>
<rect x="968" y="342" width="8" height="9" fill="#481d6f"/>
<rect x="976" y="342" width="9" height="9" fill="#482173"/>
<rect x="985" y="342" width="9" height="9" fill="#482475"/>
<rect x="1003" y="342" width="9" height="9" fill="#482878"/>
<rect x="1012" y="342" width="8" height="9" fill="#472c7a"/>
<rect x="1029" y="342" width="9" height="9" fill="#472e7c"/>
<rect x="1038" y="342" width="9" height="9" fill="#46327e"/>
<rect x="1056" y="342" width="8" height="9" fill="#463480"/>
<rect x="1064" y="342" width="9" height="9" fill="#453882"/>
<rect x="783" y="351" width="9" height="9" fill="#443a83"/>
<rect x="792" y="351" width="9" height="9" fill="#433e85"/>
<rect x="809" y="351" width="9" height="9" fill="#424186"/>
<rect x="845" y="351" width="8" height="9" fill="#414487"/>
<rect x="853" y="351" width="9" height="9" fill="#3f4788"/>
<rect x="862" y="351" width="9" height="9" fill="#3e4989"/>
<rect x="880" y="351" width="8" height="9" fill="#3d4d8a"/>
<rect x="888" y="351" width="9" height="9" fill="#3c508b"/>
<rect x="897" y="351" width="9" height="9" fill="#3b528b"/>
<rect x="924" y="351" width="8" height="9" fill="#39558c"/>
<rect x="932" y="351" width="9" height="9" fill="#38588c"/>
<rect x="968" y="351" width="8" height="9" fill="#375b8d"/>
<rect x="976" y="351" width="9" height="9" fill="#365d8d"/>
<rect x="985" y="351" width="9" height="9" fill="#34608d"/>
<rect x="994" y="351" width="9" height="9" fill="#33638d"/>
<rect x="1012" y="351" width="8" height="9" fill="#32658e"/>
<rect x="1020" y="351" width="9" height="9" fill="#31688e"/>
<rect x="1038" y="351" width="9" height="9" fill="#306a8e"/>
<rect x="1047" y="351" width="9" height="9" fill="#2e6d8e"/>
<rect x="1056" y="351" width="8" height="9" fill="#2d708e"/>
<rect x="1064" y="351" width="9" height="9" fill="#2c718e"/>
<rect x="783" y="360" width="9" height="9" fill="#2b748e"/>
<rect x="809" y="360" width="9" height="9" fill="#2a768e"/>
<rect x="818" y="360" width="9" height="9" fill="#29798e"/>
<rect x="845" y="360" width="8" height="9" fill="#287c8e"/>
<rect x="853" y="360" width="9" height="9" fill="#277e8e"/>
<rect x="897" y="360" width="9" height="9" fill="#26818e"/>
<rect x="906" y="360" width="9" height="9" fill="#26828e"/>
<rect x="950" y="360" width="9" height="9" fill="#25858e"/>
<rect x="959" y="360" width="9" height="9" fill="#24878e"/>
<rect x="968" y="360" width="8" height="9" fill="#238a8d"/>
<rect x="976" y="360" width="9" height="9" fill="#228d8d"/>
<rect x="994" y="360" width="9" height="9" fill="#218f8d"/>
<rect x="1003" y="360" width="9" height="9" fill="#20928c"/>
<rect x="1012" y="360" width="8" height="9" fill="#20938c"/>
<rect x="1020" y="360" width="9" height="9" fill="#1f968b"/>
<rect x="1047" y="360" width="9" height="9" fill="#1f998a"/>
<rect x="1056" y="360" width="8" height="9" fill="#1e9b8a"/>
<rect x="1064" y="360" width="9" height="9" fill="#1f9e89"/>
<rect x="801" y="369" width="8" height="8" fill="#1fa088"/>
<rect x="809" y="369" width="9" height="8" fill="#1fa287"/>
<rect x="880" y="369" width="8" height="8" fill="#20a486"/>
<rect x="906" y="369" width="9" height="8" fill="#22a785"/>
<rect x="915" y="369" width="9" height="8" fill="#24aa83"/>
<rect x="924" y="369" width="8" height="8" fill="#25ac82"/>
<rect x="950" y="369" width="9" height="8" fill="#28ae80"/>
<rect x="976" y="369" width="9" height="8" fill="#2ab07f"/>
<rect x="985" y="369" width="9" height="8" fill="#2eb37c"/>
<rect x="994" y="369" width="9" height="8" fill="#32b67a"/>
<rect x="1003" y="369" width="9" height="8" fill="#35b779"/>
<rect x="1012" y="369" width="8" height="8" fill="#3aba76"/>
<rect x="1038" y="369" width="9" height="8" fill="#3dbc74"/>
<rect x="1056" y="369" width="8" height="8" fill="#42be71"/>
<rect x="1073" y="369" width="9" height="8" fill="#48c16e"/>
<rect x="792" y="377" width="9" height="9" fill="#4cc26c"/>
<rect x="801" y="377" width="8" height="9" fill="#52c569"/>
<rect x="853" y="377" width="9" height="9" fill="#56c667"/>
<rect x="880" y="377" width="8" height="9" fill="#5cc863"/>
<rect x="888" y="377" width="9" height="9" fill="#60ca60"/>
<rect x="897" y="377" width="9" height="9" fill="#67cc5c"/>
<rect x="906" y="377" width="9" height="9" fill="#6ece58"/>
<rect x="915" y="377" width="9" height="9" fill="#73d056"/>
<rect x="924" y="377" width="8" height="9" fill="#7ad151"/>
<rect x="959" y="377" width="9" height="9" fill="#7fd34e"/>
<rect x="968" y="377" width="8" height="9" fill="#86d549"/>
<rect x="976" y="377" width="9" height="9" fill="#8ed645"/>
<rect x="985" y="377" width="9" height="9" fill="#93d741"/>
<rect x="994" y="377" width="9" height="9" fill="#9bd93c"/>
<rect x="1012" y="377" width="8" height="9" fill="#a0da39"/>
<rect x="1029" y="377" width="9" height="9" fill="#a8db34"/>
<rect x="1038" y="377" width="9" height="9" fill="#addc30"/>
<rect x="1064" y="377" width="9" height="9" fill="#b5de2b"/>
<rect x="1073" y="377" width="9" height="9" fill="#bddf26"/>
<rect x="1082" y="377" width="9" height="9" fill="#c2df23"/>
<rect x="783" y="386" width="9" height="9" fill="#cae11f"/>
<rect x="801" y="386" width="8" height="9" fill="#d0e11c"/>
<rect x="818" y="386" width="9" height="9" fill="#d8e219"/>
<rect x="853" y="386" width="9" height="9" fill="#dfe318"/>
<rect x="862" y="386" width="9" height="9" fill="#e5e419"/>
<rect x="880" y="386" width="8" height="9" fill="#ece51b"/>
<rect x="888" y="386" width="9" height="9" fill="#f1e51d"/>
<rect x="897" y="386" width="9" height="9" fill="#f8e621"/>
<rect x="906" y="386" width="9" height="9" fill="#fde725"/>
<rect x="924" y="386" width="8" height="9" fill="#440154"/>
<rect x="968" y="386" width="8" height="9" fill="#450457"/>
<rect x="976" y="386" width="9" height="9" fill="#46085c"/>
<rect x="985" y="386" width="9" height="9" fill="#460b5e"/>
<rect x="994" y="386" width="9" height="9" fill="#471063"/>
<rect x="1020" y="386" width="9" height="9" fill="#471365"/>
<rect x="1038" y="386" width="9" height="9" fill="#481769"/>
<rect x="1047" y="386" width="9" height="9" fill="#481b6d"/>
<rect x="1056" y="386" width="8" height="9" fill="#481d6f"/>
<rect x="1064" y="386" width="9" height="9" fill="#482173"/>
<rect x="1073" y="386" width="9" height="9" fill="#482475"/>
<rect x="1082" y="386" width="9" height="9" fill="#482878"/>
<rect x="809" y="395" width="9" height="9" fill="#472c7a"/>
<rect x="818" y="395" width="9" height="9" fill="#472e7c"/>
<rect x="827" y="395" width="9" height="9" fill="#46327e"/>
<rect x="845" y="395" width="8" height="9" fill="#463480"/>
<rect x="862" y="395" width="9" height="9" fill="#453882"/>
<rect x="880" y="395" width="8" height="9" fill="#443a83"/>
<rect x="906" y="395" width="9" height="9" fill="#433e85"/>
<rect x="959" y="395" width="9" height="9" fill="#424186"/>
<rect x="994" y="395" width="9" height="9" fill="#414487"/>
<rect x="1012" y="395" width="8" height="9" fill="#3f4788"/>
<rect x="1020" y="395" width="9" height="9" fill="#3e4989"/>
<rect x="1029" y="395" width="9" height="9" fill="#3d4d8a"/>
<rect x="1038" y="395" width="9" height="9" fill="#3c508b"/>
<rect x="1047" y="395" width="9" height="9" fill="#3b528b"/>
<rect x="1056" y="395" width="8" height="9" fill="#39558c"/>
<rect x="1064" y="395" width="9" height="9" fill="#38588c"/>
<rect x="1073" y="395" width="9" height="9" fill="#375b8d"/>
<rect x="1091" y="395" width="8" height="9" fill="#365d8d"/>
<rect x="1099" y="395" width="9" height="9" fill="#34608d"/>
<rect x="792" y="404" width="9" height="9" fill="#33638d"/>
<rect x="809" y="404" width="9" height="9" fill="#32658e"/>
<rect x="818" y="404" width="9" height="9" fill="#31688e"/>
<rect x="845" y="404" width="8" height="9" fill="#306a8e"/>
<rect x="853" y="404" width="9" height="9" fill="#2e6d8e"/>
<rect x="862" y="404" width="9" height="9" fill="#2d708e"/>
<rect x="871" y="404" width="9" height="9" fill="#2c718e"/>
<rect x="888" y="404" width="9" height="9" fill="#2b748e"/>
<rect x="897" y="404" width="9" height="9" fill="#2a768e"/>
<rect x="941" y="404" width="9" height="9" fill="#29798e"/>
<rect x="950" y="404" width="9" height="9" fill="#287c8e"/>
<rect x="959" y="404" width="9" height="9" fill="#277e8e"/>
<rect x="976" y="404" width="9" height="9" fill="#26818e"/>
<rect x="985" y="404" width="9" height="9" fill="#26828e"/>
<rect x="994" y="404" width="9" height="9" fill="#25858e"/>
<rect x="1012" y="404" width="8" height="9" fill="#24878e"/>
<rect x="1020" y="404" width="9" height="9" fill="#238a8d"/>
<rect x="1029" y="404" width="9" height="9" fill="#228d8d"/>
<rect x="1038" y="404" width="9" height="9" fill="#218f8d"/>
<rect x="1047" y="404" width="9" height="9" fill="#20928c"/>
<rect x="1064" y="404" width="9" height="9" fill="#20938c"/>
<rect x="1073" y="404" width="9" height="9" fill="#1f968b"/>
<rect x="1082" y="404" width="9" height="9" fill="#1f998a"/>
<rect x="1091" y="404" width="8" height="9" fill="#1e9b8a"/>
<rect x="1099" y="404" width="9" height="9" fill="#1f9e89"/>
<rect x="1108" y="404" width="9" height="9" fill="#1fa088"/>
<rect x="765" y="413" width="9" height="8" fill="#1fa287"/>
<rect x="774" y="413" width="9" height="8" fill="#20a486"/>
<rect x="783" y="413" width="9" height="8" fill="#22a785"/>
<rect x="792" y="413" width="9" height="8" fill="#24aa83"/>
<rect x="801" y="413" width="8" height="8" fill="#25ac82"/>
<rect x="809" y="413" width="9" height="8" fill="#28ae80"/>
<rect x="818" y="413" width="9" height="8" fill="#2ab07f"/>
<rect x="845" y="413" width="8" height="8" fill="#2eb37c"/>
<rect x="862" y="413" width="9" height="8" fill="#32b67a"/>
<rect x="941" y="413" width="9" height="8" fill="#35b779"/>
<rect x="950" y="413" width="9" height="8" fill="#3aba76"/>
<rect x="959" y="413" width="9" height="8" fill="#3dbc74"/>
<rect x="968" y="413" width="8" height="8" fill="#42be71"/>
<rect x="976" y="413" width="9" height="8" fill="#48c16e"/>
<rect x="985" y="413" width="9" height="8" fill="#4cc26c"/>
<rect x="994" y="413" width="9" height="8" fill="#52c569"/>
<rect x="1003" y="413" width="9" height="8" fill="#56c667"/>
<rect x="1012" y="413" width="8" height="8" fill="#5cc863"/>
<rect x="1029" y="413" width="9" height="8" fill="#60ca60"/>
<rect x="1038" y="413" width="9" height="8" fill="#67cc5c"/>
<rect x="1073" y="413" width="9" height="8" fill="#6ece58"/>
<rect x="1091" y="413" width="8" height="8" fill="#73d056"/>
<rect x="1099" y="413" width="9" height="8" fill="#7ad151"/>
<rect x="1108" y="413" width="9" height="8" fill="#7fd34e"/>
<rect x="1117" y="413" width="9" height="8" fill="#86d549"/>
<rect x="765" y="421" width="9" height="9" fill="#8ed645"/>
<rect x="774" y="421" width="9" height="9" fill="#93d741"/>
<rect x="783" y="421" width="9" height="9" fill="#9bd93c"/>
<rect x="792" y="421" width="9" height="9" fill="#a0da39"/>
<rect x="818" y="421" width="9" height="9" fill="#a8db34"/>
<rect x="827" y="421" width="9" height="9" fill="#addc30"/>
<rect x="836" y="421" width="9" height="9" fill="#b5de2b"/>
<rect x="862" y="421" width="9" height="9" fill="#bddf26"/>
<rect x="871" y="421" width="9" height="9" fill="#c2df23"/>
<rect x="924" y="421" width="8" height="9" fill="#cae11f"/>
<rect x="932" y="421" width="9" height="9" fill="#d0e11c"/>
<rect x="941" y="421" width="9" height="9" fill="#d8e219"/>
<rect x="959" y="421" width="9" height="9" fill="#dfe318"/>
<rect x="976" y="421" width="9" height="9" fill="#e5e419"/>
<rect x="985" y="421" width="9" height="9" fill="#ece51b"/>
<rect x="994" y="421" width="9" height="9" fill="#f1e51d"/>
<rect x="1003" y="421" width="9" height="9" fill="#f8e621"/>
<rect x="1020" y="421" width="9" height="9" fill="#fde725"/>
<rect x="1029" y="421" width="9" height="9" fill="#440154"/>
<rect x="1056" y="421" width="8" height="9" fill="#450457"/>
<rect x="1064" y="421" width="9" height="9" fill="#46085c"/>
<rect x="1073" y="421" width="9" height="9" fill="#460b5e"/>
<rect x="1082" y="421" width="9" height="9" fill="#471063"/>
<rect x="1091" y="421" width="8" height="9" fill="#471365"/>
<rect x="1099" y="421" width="9" height="9" fill="#481769"/>
<rect x="1108" y="421" width="9" height="9" fill="#481b6d"/>
<rect x="1126" y="421" width="9" height="9" fill="#481d6f"/>
<rect x="765" y="430" width="9" height="9" fill="#482173"/>
<rect x="818" y="430" width="9" height="9" fill="#482475"/>
<rect x="827" y="430" width="9" height="9" fill="#482878"/>
<rect x="853" y="430" width="9" height="9" fill="#472c7a"/>
<rect x="880" y="430" width="8" height="9" fill="#472e7c"/>
<rect x="897" y="430" width="9" height="9" fill="#46327e"/>
<rect x="906" y="430" width="9" height="9" fill="#463480"/>
<rect x="915" y="430" width="9" height="9" fill="#453882"/>
<rect x="924" y="430" width="8" height="9" fill="#443a83"/>
<rect x="932" y="430" width="9" height="9" fill="#433e85"/>
<rect x="959" y="430" width="9" height="9" fill="#424186"/>
<rect x="976" y="430" width="9" height="9" fill="#414487"/>
<rect x="985" y="430" width="9" height="9" fill="#3f4788"/>
<rect x="1047" y="430" width="9" height="9" fill="#3e4989"/>
<rect x="1064" y="430" width="9" height="9" fill="#3d4d8a"/>
<rect x="1082" y="430" width="9" height="9" fill="#3c508b"/>
<rect x="1091" y="430" width="8" height="9" fill="#3b528b"/>
<rect x="1099" y="430" width="9" height="9" fill="#39558c"/>
<rect x="1108" y="430" width="9" height="9" fill="#38588c"/>
<rect x="1143" y="430" width="9" height="9" fill="#375b8d"/>
<rect x="1152" y="430" width="9" height="9" fill="#365d8d"/>
<rect x="765" y="439" width="9" height="9" fill="#34608d"/>
<rect x="774" y="439" width="9" height="9" fill="#33638d"/>
<rect x="792" y="439" width="9" height="9" fill="#32658e"/>
<rect x="836" y="439" width="9" height="9" fill="#31688e"/>
<rect x="845" y="439" width="8" height="9" fill="#306a8e"/>
<rect x="853" y="439" width="9" height="9" fill="#2e6d8e"/>
<rect x="880" y="439" width="8" height="9" fill="#2d708e"/>
<rect x="888" y="439" width="9" height="9" fill="#2c718e"/>
<rect x="897" y="439" width="9" height="9" fill="#2b748e"/>
<rect x="906" y="439" width="9" height="9" fill="#2a768e"/>
<rect x="924" y="439" width="8" height="9" fill="#29798e"/>
<rect x="932" y="439" width="9" height="9" fill="#287c8e"/>
<rect x="959" y="439" width="9" height="9" fill="#277e8e"/>
<rect x="976" y="439" width="9" height="9" fill="#26818e"/>
<rect x="985" y="439" width="9" height="9" fill="#26828e"/>
<rect x="1029" y="439" width="9" height="9" fill="#25858e"/>
<rect x="1038" y="439" width="9" height="9" fill="#24878e"/>
<rect x="1056" y="439" width="8" height="9" fill="#238a8d"/>
<rect x="1064" y="439" width="9" height="9" fill="#228d8d"/>
<rect x="1099" y="439" width="9" height="9" fill="#218f8d"/>
<rect x="1108" y="439" width="9" height="9" fill="#20928c"/>
<rect x="1117" y="439" width="9" height="9" fill="#20938c"/>
<rect x="1126" y="439" width="9" height="9" fill="#1f968b"/>
<rect x="1135" y="439" width="8" height="9" fill="#1f998a"/>
<rect x="1143" y="439" width="9" height="9" fill="#1e9b8a"/>
<rect x="1152" y="439" width="9" height="9" fill="#1f9e89"/>
<rect x="1161" y="439" width="9" height="9" fill="#1fa088"/>
<rect x="774" y="448" width="9" height="9" fill="#1fa287"/>
<rect x="783" y="448" width="9" height="9" fill="#20a486"/>
<rect x="792" y="448" width="9" height="9" fill="#22a785"/>
<rect x="827" y="448" width="9" height="9" fill="#24aa83"/>
<rect x="836" y="448" width="9" height="9" fill="#25ac82"/>
<rect x="845" y="448" width="8" height="9" fill="#28ae80"/>
<rect x="853" y="448" width="9" height="9" fill="#2ab07f"/>
<rect x="871" y="448" width="9" height="9" fill="#2eb37c"/>
<rect x="880" y="448" width="8" height="9" fill="#32b67a"/>
<rect x="924" y="448" width="8" height="9" fill="#35b779"/>
<rect x="932" y="448" width="9" height="9" fill="#3aba76"/>
<rect x="976" y="448" width="9" height="9" fill="#3dbc74"/>
<rect x="985" y="448" width="9" height="9" fill="#42be71"/>
<rect x="994" y="448" width="9" height="9" fill="#48c16e"/>
<rect x="1003" y="448" width="9" height="9" fill="#4cc26c"/>
<rect x="1012" y="448" width="8" height="9" fill="#52c569"/>
<rect x="1056" y="448" width="8" height="9" fill="#56c667"/>
<rect x="1064" y="448" width="9" height="9" fill="#5cc863"/>
<rect x="1073" y="448" width="9" height="9" fill="#60ca60"/>
<rect x="1091" y="448" width="8" height="9" fill="#67cc5c"/>
<rect x="1099" y="448" width="9" height="9" fill="#6ece58"/>
<rect x="1135" y="448" width="8" height="9" fill="#73d056"/>
<rect x="1143" y="448" width="9" height="9" fill="#7ad151"/>
<rect x="1152" y="448" width="9" height="9" fill="#7fd34e"/>
<rect x="1161" y="448" width="9" height="9" fill="#86d549"/>
<rect x="809" y="457" width="9" height="8" fill="#8ed645"/>
<rect x="818" y="457" width="9" height="8" fill="#93d741"/>
<rect x="827" y="457" width="9" height="8" fill="#9bd93c"/>
<rect x="836" y="457" width="9" height="8" fill="#a0da39"/>
<rect x="880" y="457" width="8" height="8" fill="#a8db34"/>
<rect x="888" y="457" width="9" height="8" fill="#addc30"/>
<rect x="915" y="457" width="9" height="8" fill="#b5de2b"/>
<rect x="924" y="457" width="8" height="8" fill="#bddf26"/>
<rect x="932" y="457" width="9" height="8" fill="#c2df23"/>
<rect x="976" y="457" width="9" height="8" fill="#cae11f"/>
<rect x="985" y="457" width="9" height="8" fill="#d0e11c"/>
<rect x="994" y="457" width="9" height="8" fill="#d8e219"/>
<rect x="1003" y="457" width="9" height="8" fill="#dfe318"/>
<rect x="1020" y="457" width="9" height="8" fill="#e5e419"/>
<rect x="1056" y="457" width="8" height="8" fill="#ece51b"/>
<rect x="1064" y="457" width="9" height="8" fill="#f1e51d"/>
<rect x="1073" y="457" width="9" height="8" fill="#f8e621"/>
<rect x="1082" y="457" width="9" height="8" fill="#fde725"/>
<rect x="1091" y="457" width="8" height="8" fill="#440154"/>
<rect x="1099" y="457" width="9" height="8" fill="#450457"/>
<rect x="1135" y="457" width="8" height="8" fill="#46085c"/>
<rect x="1143" y="457" width="9" height="8" fill="#460b5e"/>
<rect x="1152" y="457" width="9" height="8" fill="#471063"/>
<rect x="1161" y="457" width="9" height="8" fill="#471365"/>
<rect x="1170" y="457" width="9" height="8" fill="#481769"/>
<rect x="1179" y="457" width="8" height="8" fill="#481b6d"/>
<rect x="1223" y="457" width="8" height="8" fill="#481d6f"/>
<rect x="809" y="465" width="9" height="9" fill="#482173"/>
<rect x="818" y="465" width="9" height="9" fill="#482475"/>
<rect x="827" y="465" width="9" height="9" fill="#482878"/>
<rect x="836" y="465" width="9" height="9" fill="#472c7a"/>
<rect x="862" y="465" width="9" height="9" fill="#472e7c"/>
<rect x="880" y="465" width="8" height="9" fill="#46327e"/>
<rect x="888" y="465" width="9" height="9" fill="#463480"/>
<rect x="897" y="465" width="9" height="9" fill="#453882"/>
<rect x="906" y="465" width="9" height="9" fill="#443a83"/>
<rect x="924" y="465" width="8" height="9" fill="#433e85"/>
<rect x="932" y="465" width="9" height="9" fill="#424186"/>
<rect x="959" y="465" width="9" height="9" fill="#414487"/>
<rect x="968" y="465" width="8" height="9" fill="#3f4788"/>
<rect x="976" y="465" width="9" height="9" fill="#3e4989"/>
<rect x="994" y="465" width="9" height="9" fill="#3d4d8a"/>
<rect x="1003" y="465" width="9" height="9" fill="#3c508b"/>
<rect x="1012" y="465" width="8" height="9" fill="#3b528b"/>
<rect x="1020" y="465" width="9" height="9" fill="#39558c"/>
<rect x="1029" y="465" width="9" height="9" fill="#38588c"/>
<rect x="1038" y="465" width="9" height="9" fill="#375b8d"/>
<rect x="1047" y="465" width="9" height="9" fill="#365d8d"/>
<rect x="1056" y="465" width="8" height="9" fill="#34608d"/>
<rect x="1064" y="465" width="9" height="9" fill="#33638d"/>
<rect x="1073" y="465" width="9" height="9" fill="#32658e"/>
<rect x="1082" y="465" width="9" height="9" fill="#31688e"/>
<rect x="1091" y="465" width="8" height="9" fill="#306a8e"/>
<rect x="1099" y="465" width="9" height="9" fill="#2e6d8e"/>
<rect x="1143" y="465" width="9" height="9" fill="#2d708e"/>
<rect x="1152" y="465" width="9" height="9" fill="#2c718e"/>
<rect x="1170" y="465" width="9" height="9" fill="#2b748e"/>
<rect x="1179" y="465" width="8" height="9" fill="#2a768e"/>
<rect x="1187" y="465" width="9" height="9" fill="#29798e"/>
<rect x="1196" y="465" width="9" height="9" fill="#287c8e"/>
<rect x="1205" y="465" width="9" height="9" fill="#277e8e"/>
<rect x="1223" y="465" width="8" height="9" fill="#26818e"/>
<rect x="1231" y="465" width="9" height="9" fill="#26828e"/>
<rect x="801" y="474" width="8" height="9" fill="#25858e"/>
<rect x="827" y="474" width="9" height="9" fill="#24878e"/>
<rect x="853" y="474" width="9" height="9" fill="#238a8d"/>
<rect x="862" y="474" width="9" height="9" fill="#228d8d"/>
<rect x="871" y="474" width="9" height="9" fill="#218f8d"/>
<rect x="880" y="474" width="8" height="9" fill="#20928c"/>
<rect x="888" y="474" width="9" height="9" fill="#20938c"/>
<rect x="906" y="474" width="9" height="9" fill="#1f968b"/>
<rect x="959" y="474" width="9" height="9" fill="#1f998a"/>
<rect x="968" y="474" width="8" height="9" fill="#1e9b8a"/>
<rect x="976" y="474" width="9" height="9" fill="#1f9e89"/>
<rect x="1020" y="474" width="9" height="9" fill="#1fa088"/>
<rect x="1029" y="474" width="9" height="9" fill="#1fa287"/>
<rect x="1056" y="474" width="8" height="9" fill="#20a486"/>
<rect x="1064" y="474" width="9" height="9" fill="#22a785"/>
<rect x="1073" y="474" width="9" height="9" fill="#24aa83"/>
<rect x="1091" y="474" width="8" height="9" fill="#25ac82"/>
<rect x="1099" y="474" width="9" height="9" fill="#28ae80"/>
<rect x="1108" y="474" width="9" height="9" fill="#2ab07f"/>
<rect x="1117" y="474" width="9" height="9" fill="#2eb37c"/>
<rect x="1126" y="474" width="9" height="9" fill="#32b67a"/>
<rect x="1135" y="474" width="8" height="9" fill="#35b779"/>
<rect x="1143" y="474" width="9" height="9" fill="#3aba76"/>
<rect x="1152" y="474" width="9" height="9" fill="#3dbc74"/>
<rect x="1161" y="474" width="9" height="9" fill="#42be71"/>
<rect x="1170" y="474" width="9" height="9" fill="#48c16e"/>
<rect x="1187" y="474" width="9" height="9" fill="#4cc26c"/>
<rect x="1196" y="474" width="9" height="9" fill="#52c569"/>
<rect x="1205" y="474" width="9" height="9" fill="#56c667"/>
<rect x="1240" y="474" width="9" height="9" fill="#5cc863"/>
<rect x="1249" y="474" width="9" height="9" fill="#60ca60"/>
<rect x="801" y="483" width="8" height="9" fill="#67cc5c"/>
<rect x="809" y="483" width="9" height="9" fill="#6ece58"/>
<rect x="845" y="483" width="8" height="9" fill="#73d056"/>
<rect x="853" y="483" width="9" height="9" fill="#7ad151"/>
<rect x="871" y="483" width="9" height="9" fill="#7fd34e"/>
<rect x="888" y="483" width="9" height="9" fill="#86d549"/>
<rect x="897" y="483" width="9" height="9" fill="#8ed645"/>
<rect x="906" y="483" width="9" height="9" fill="#93d741"/>
<rect x="915" y="483" width="9" height="9" fill="#9bd93c"/>
<rect x="924" y="483" width="8" height="9" fill="#a0da39"/>
<rect x="932" y="483" width="9" height="9" fill="#a8db34"/>
<rect x="959" y="483" width="9" height="9" fill="#addc30"/>
<rect x="968" y="483" width="8" height="9" fill="#b5de2b"/>
<rect x="976" y="483" width="9" height="9" fill="#bddf26"/>
<rect x="985" y="483" width="9" height="9" fill="#c2df23"/>
<rect x="994" y="483" width="9" height="9" fill="#cae11f"/>
<rect x="1012" y="483" width="8" height="9" fill="#d0e11c"/>
<rect x="1020" y="483" width="9" height="9" fill="#d8e219"/>
<rect x="1038" y="483" width="9" height="9" fill="#dfe318"/>
<rect x="1056" y="483" width="8" height="9" fill="#e5e419"/>
<rect x="1064" y="483" width="9" height="9" fill="#ece51b"/>
<rect x="1082" y="483" width="9" height="9" fill="#f1e51d"/>
<rect x="1091" y="483" width="8" height="9" fill="#f8e621"/>
<rect x="1099" y="483" width="9" height="9" fill="#fde725"/>
<rect x="1108" y="483" width="9" height="9" fill="#440154"/>
<rect x="1117" y="483" width="9" height="9" fill="#450457"/>
<rect x="1135" y="483" width="8" height="9" fill="#46085c"/>
<rect x="1143" y="483" width="9" height="9" fill="#460b5e"/>
<rect x="1152" y="483" width="9" height="9" fill="#471063"/>
<rect x="1187" y="483" width="9" height="9" fill="#471365"/>
<rect x="1196" y="483" width="9" height="9" fill="#481769"/>
<rect x="1205" y="483" width="9" height="9" fill="#481b6d"/>
<rect x="1231" y="483" width="9" height="9" fill="#481d6f"/>
<rect x="1240" y="483" width="9" height="9" fill="#482173"/>
<rect x="809" y="492" width="9" height="9" fill="#482475"/>
<rect x="818" y="492" width="9" height="9" fill="#482878"/>
<rect x="827" y="492" width="9" height="9" fill="#472c7a"/>
<rect x="836" y="492" width="9" height="9" fill="#472e7c"/>
<rect x="845" y="492" width="8" height="9" fill="#46327e"/>
<rect x="853" y="492" width="9" height="9" fill="#463480"/>
<rect x="862" y="492" width="9" height="9" fill="#453882"/>
<rect x="897" y="492" width="9" height="9" fill="#443a83"/>
<rect x="906" y="492" width="9" height="9" fill="#433e85"/>
<rect x="915" y="492" width="9" height="9" fill="#424186"/>
<rect x="924" y="492" width="8" height="9" fill="#414487"/>
<rect x="932" y="492" width="9" height="9" fill="#3f4788"/>
<rect x="941" y="492" width="9" height="9" fill="#3e4989"/>
<rect x="950" y="492" width="9" height="9" fill="#3d4d8a"/>
<rect x="985" y="492" width="9" height="9" fill="#3c508b"/>
<rect x="994" y="492" width="9" height="9" fill="#3b528b"/>
<rect x="1003" y="492" width="9" height="9" fill="#39558c"/>
<rect x="1012" y="492" width="8" height="9" fill="#38588c"/>
<rect x="1038" y="492" width="9" height="9" fill="#375b8d"/>
<rect x="1056" y="492" width="8" height="9" fill="#365d8d"/>
<rect x="1064" y="492" width="9" height="9" fill="#34608d"/>
<rect x="1073" y="492" width="9" height="9" fill="#33638d"/>
<rect x="1108" y="492" width="9" height="9" fill="#32658e"/>
<rect x="1117" y="492" width="9" height="9" fill="#31688e"/>
<rect x="1126" y="492" width="9" height="9" fill="#306a8e"/>
<rect x="1135" y="492" width="8" height="9" fill="#2e6d8e"/>
<rect x="1143" y="492" width="9" height="9" fill="#2d708e"/>
<rect x="1152" y="492" width="9" height="9" fill="#2c718e"/>
<rect x="1179" y="492" width="8" height="9" fill="#2b748e"/>
<rect x="1196" y="492" width="9" height="9" fill="#2a768e"/>
<rect x="1205" y="492" width="9" height="9" fill="#29798e"/>
<rect x="1214" y="492" width="9" height="9" fill="#287c8e"/>
<rect x="1223" y="492" width="8" height="9" fill="#277e8e"/>
<rect x="1231" y="492" width="9" height="9" fill="#26818e"/>
<rect x="1240" y="492" width="9" height="9" fill="#26828e"/>
<rect x="809" y="501" width="9" height="8" fill="#25858e"/>
<rect x="827" y="501" width="9" height="8" fill="#24878e"/>
<rect x="836" y="501" width="9" height="8" fill="#238a8d"/>
<rect x="853" y="501" width="9" height="8" fill="#228d8d"/>
<rect x="862" y="501" width="9" height="8" fill="#218f8d"/>
<rect x="871" y="501" width="9" height="8" fill="#20928c"/>
<rect x="888" y="501" width="9" height="8" fill="#20938c"/>
<rect x="906" y="501" width="9" height="8" fill="#1f968b"/>
<rect x="941" y="501" width="9" height="8" fill="#1f998a"/>
<rect x="976" y="501" width="9" height="8" fill="#1e9b8a"/>
<rect x="985" y="501" width="9" height="8" fill="#1f9e89"/>
<rect x="994" y="501" width="9" height="8" fill="#1fa088"/>
<rect x="1003" y="501" width="9" height="8" fill="#1fa287"/>
<rect x="1012" y="501" width="8" height="8" fill="#20a486"/>
<rect x="1020" y="501" width="9" height="8" fill="#22a785"/>
<rect x="1047" y="501" width="9" height="8" fill="#24aa83"/>
<rect x="1056" y="501" width="8" height="8" fill="#25ac82"/>
<rect x="1064" y="501" width="9" height="8" fill="#28ae80"/>
<rect x="1073" y="501" width="9" height="8" fill="#2ab07f"/>
<rect x="1099" y="501" width="9" height="8" fill="#2eb37c"/>
<rect x="1108" y="501" width="9" height="8" fill="#32b67a"/>
<rect x="1135" y="501" width="8" height="8" fill="#35b779"/>
<rect x="1152" y="501" width="9" height="8" fill="#3aba76"/>
<rect x="1161" y="501" width="9" height="8" fill="#3dbc74"/>
<rect x="1205" y="501" width="9" height="8" fill="#42be71"/>
<rect x="1231" y="501" width="9" height="8" fill="#48c16e"/>
<rect x="1240" y="501" width="9" height="8" fill="#4cc26c"/>
<rect x="827" y="509" width="9" height="9" fill="#52c569"/>
<rect x="862" y="509" width="9" height="9" fill="#56c667"/>
<rect x="871" y="509" width="9" height="9" fill="#5cc863"/>
<rect x="888" y="509" width="9" height="9" fill="#60ca60"/>
<rect x="897" y="509" width="9" height="9" fill="#67cc5c"/>
<rect x="906" y="509" width="9" height="9" fill="#6ece58"/>
<rect x="915" y="509" width="9" height="9" fill="#73d056"/>
<rect x="924" y="509" width="8" height="9" fill="#7ad151"/>
<rect x="941" y="509" width="9" height="9" fill="#7fd34e"/>
<rect x="950" y="509" width="9" height="9" fill="#86d549"/>
<rect x="968" y="509" width="8" height="9" fill="#8ed645"/>
<rect x="976" y="509" width="9" height="9" fill="#93d741"/>
<rect x="985" y="509" width="9" height="9" fill="#9bd93c"/>
<rect x="994" y="509" width="9" height="9" fill="#a0da39"/>
<rect x="1003" y="509" width="9" height="9" fill="#a8db34"/>
<rect x="1020" y="509" width="9" height="9" fill="#addc30"/>
<rect x="1029" y="509" width="9" height="9" fill="#b5de2b"/>
<rect x="1064" y="509" width="9" height="9" fill="#bddf26"/>
<rect x="1082" y="509" width="9" height="9" fill="#c2df23"/>
<rect x="1099" y="509" width="9" height="9" fill="#cae11f"/>
<rect x="1108" y="509" width="9" height="9" fill="#d0e11c"/>
<rect x="1126" y="509" width="9" height="9" fill="#d8e219"/>
<rect x="1135" y="509" width="8" height="9" fill="#dfe318"/>
<rect x="1143" y="509" width="9" height="9" fill="#e5e419"/>
<rect x="1161" y="509" width="9" height="9" fill="#ece51b"/>
<rect x="1205" y="509" width="9" height="9" fill="#f1e51d"/>
<rect x="1223" y="509" width="8" height="9" fill="#f8e621"/>
<rect x="1240" y="509" width="9" height="9" fill="#fde725"/>
<rect x="818" y="518" width="9" height="9" fill="#440154"/>
<rect x="827" y="518" width="9" height="9" fill="#450457"/>
<rect x="836" y="518" width="9" height="9" fill="#46085c"/>
<rect x="845" y="518" width="8" height="9" fill="#460b5e"/>
<rect x="853" y="518" width="9" height="9" fill="#471063"/>
<rect x="862" y="518" width="9" height="9" fill="#471365"/>
<rect x="871" y="518" width="9" height="9" fill="#481769"/>
<rect x="897" y="518" width="9" height="9" fill="#481b6d"/>
<rect x="924" y="518" width="8" height="9" fill="#481d6f"/>
<rect x="932" y="518" width="9" height="9" fill="#482173"/>
<rect x="941" y="518" width="9" height="9" fill="#482475"/>
<rect x="968" y="518" width="8" height="9" fill="#482878"/>
<rect x="976" y="518" width="9" height="9" fill="#472c7a"/>
<rect x="985" y="518" width="9" height="9" fill="#472e7c"/>
<rect x="994" y="518" width="9" height="9" fill="#46327e"/>
<rect x="1020" y="518" width="9" height="9" fill="#463480"/>
<rect x="1029" y="518" width="9" height="9" fill="#453882"/>
<rect x="1038" y="518" width="9" height="9" fill="#443a83"/>
<rect x="1073" y="518" width="9" height="9" fill="#433e85"/>
<rect x="1082" y="518" width="9" height="9" fill="#424186"/>
<rect x="1091" y="518" width="8" height="9" fill="#414487"/>
<rect x="1108" y="518" width="9" height="9" fill="#3f4788"/>
<rect x="1117" y="518" width="9" height="9" fill="#3e4989"/>
<rect x="1126" y="518" width="9" height="9" fill="#3d4d8a"/>
<rect x="1143" y="518" width="9" height="9" fill="#3c508b"/>
<rect x="1152" y="518" width="9" height="9" fill="#3b528b"/>
<rect x="1170" y="518" width="9" height="9" fill="#39558c"/>
<rect x="1214" y="518" width="9" height="9" fill="#38588c"/>
<rect x="1231" y="518" width="9" height="9" fill="#375b8d"/>
<rect x="1240" y="518" width="9" height="9" fill="#365d8d"/>
<rect x="809" y="527" width="9" height="9" fill="#34608d"/>
<rect x="818" y="527" width="9" height="9" fill="#33638d"/>
<rect x="836" y="527" width="9" height="9" fill="#32658e"/>
<rect x="845" y="527" width="8" height="9" fill="#31688e"/>
<rect x="853" y="527" width="9" height="9" fill="#306a8e"/>
<rect x="862" y="527" width="9" height="9" fill="#2e6d8e"/>
<rect x="888" y="527" width="9" height="9" fill="#2d708e"/>
<rect x="897" y="527" width="9" height="9" fill="#2c718e"/>
<rect x="906" y="527" width="9" height="9" fill="#2b748e"/>
<rect x="915" y="527" width="9" height="9" fill="#2a768e"/>
<rect x="924" y="527" width="8" height="9" fill="#29798e"/>
<rect x="932" y="527" width="9" height="9" fill="#287c8e"/>
<rect x="968" y="527" width="8" height="9" fill="#277e8e"/>
<rect x="976" y="527" width="9" height="9" fill="#26818e"/>
<rect x="985" y="527" width="9" height="9" fill="#26828e"/>
<rect x="994" y="527" width="9" height="9" fill="#25858e"/>
<rect x="1047" y="527" width="9" height="9" fill="#24878e"/>
<rect x="1056" y="527" width="8" height="9" fill="#238a8d"/>
<rect x="1064" y="527" width="9" height="9" fill="#228d8d"/>
<rect x="1082" y="527" width="9" height="9" fill="#218f8d"/>
<rect x="1091" y="527" width="8" height="9" fill="#20928c"/>
<rect x="1099" y="527" width="9" height="9" fill="#20938c"/>
<rect x="1108" y="527" width="9" height="9" fill="#1f968b"/>
<rect x="1117" y="527" width="9" height="9" fill="#1f998a"/>
<rect x="1126" y="527" width="9" height="9" fill="#1e9b8a"/>
<rect x="1135" y="527" width="8" height="9" fill="#1f9e89"/>
<rect x="1152" y="527" width="9" height="9" fill="#1fa088"/>
<rect x="1187" y="527" width="9" height="9" fill="#1fa287"/>
<rect x="1214" y="527" width="9" height="9" fill="#20a486"/>
<rect x="1223" y="527" width="8" height="9" fill="#22a785"/>
<rect x="1231" y="527" width="9" height="9" fill="#24aa83"/>
<rect x="853" y="536" width="9" height="9" fill="#25ac82"/>
<rect x="862" y="536" width="9" height="9" fill="#28ae80"/>
<rect x="871" y="536" width="9" height="9" fill="#2ab07f"/>
<rect x="888" y="536" width="9" height="9" fill="#2eb37c"/>
<rect x="897" y="536" width="9" height="9" fill="#32b67a"/>
<rect x="906" y="536" width="9" height="9" fill="#35b779"/>
<rect x="915" y="536" width="9" height="9" fill="#3aba76"/>
<rect x="924" y="536" width="8" height="9" fill="#3dbc74"/>
<rect x="959" y="536" width="9" height="9" fill="#42be71"/>
<rect x="968" y="536" width="8" height="9" fill="#48c16e"/>
<rect x="976" y="536" width="9" height="9" fill="#4cc26c"/>
<rect x="985" y="536" width="9" height="9" fill="#52c569"/>
<rect x="994" y="536" width="9" height="9" fill="#56c667"/>
<rect x="1003" y="536" width="9" height="9" fill="#5cc863"/>
<rect x="1029" y="536" width="9" height="9" fill="#60ca60"/>
<rect x="1038" y="536" width="9" height="9" fill="#67cc5c"/>
<rect x="1047" y="536" width="9" height="9" fill="#6ece58"/>
<rect x="1064" y="536" width="9" height="9" fill="#73d056"/>
<rect x="1073" y="536" width="9" height="9" fill="#7ad151"/>
<rect x="1082" y="536" width="9" height="9" fill="#7fd34e"/>
<rect x="1099" y="536" width="9" height="9" fill="#86d549"/>
<rect x="1108" y="536" width="9" height="9" fill="#8ed645"/>
<rect x="1135" y="536" width="8" height="9" fill="#93d741"/>
<rect x="1161" y="536" width="9" height="9" fill="#9bd93c"/>
<rect x="1170" y="536" width="9" height="9" fill="#a0da39"/>
<rect x="1187" y="536" width="9" height="9" fill="#a8db34"/>
<rect x="1231" y="536" width="9" height="9" fill="#addc30"/>
<rect x="845" y="545" width="8" height="8" fill="#b5de2b"/>
<rect x="880" y="545" width="8" height="8" fill="#bddf26"/>
<rect x="906" y="545" width="9" height="8" fill="#c2df23"/>
<rect x="915" y="545" width="9" height="8" fill="#cae11f"/>
<rect x="924" y="545" width="8" height="8" fill="#d0e11c"/>
<rect x="932" y="545" width="9" height="8" fill="#d8e219"/>
<rect x="941" y="545" width="9" height="8" fill="#dfe318"/>
<rect x="950" y="545" width="9" height="8" fill="#e5e419"/>
<rect x="968" y="545" width="8" height="8" fill="#ece51b"/>
<rect x="976" y="545" width="9" height="8" fill="#f1e51d"/>
<rect x="985" y="545" width="9" height="8" fill="#f8e621"/>
<rect x="994" y="545" width="9" height="8" fill="#fde725"/>
<rect x="1003" y="545" width="9" height="8" fill="#440154"/>
<rect x="1012" y="545" width="8" height="8" fill="#450457"/>
<rect x="1047" y="545" width="9" height="8" fill="#46085c"/>
<rect x="1056" y="545" width="8" height="8" fill="#460b5e"/>
<rect x="1073" y="545" width="9" height="8" fill="#471063"/>
<rect x="1082" y="545" width="9" height="8" fill="#471365"/>
<rect x="1099" y="545" width="9" height="8" fill="#481769"/>
<rect x="1108" y="545" width="9" height="8" fill="#481b6d"/>
<rect x="1126" y="545" width="9" height="8" fill="#481d6f"/>
<rect x="1135" y="545" width="8" height="8" fill="#482173"/>
<rect x="1143" y="545" width="9" height="8" fill="#482475"/>
<rect x="1161" y="545" width="9" height="8" fill="#482878"/>
<rect x="1170" y="545" width="9" height="8" fill="#472c7a"/>
<rect x="1196" y="545" width="9" height="8" fill="#472e7c"/>
<rect x="1231" y="545" width="9" height="8" fill="#46327e"/>
<rect x="862" y="553" width="9" height="9" fill="#463480"/>
<rect x="888" y="553" width="9" height="9" fill="#453882"/>
<rect x="897" y="553" width="9" height="9" fill="#443a83"/>
<rect x="906" y="553" width="9" height="9" fill="#433e85"/>
<rect x="924" y="553" width="8" height="9" fill="#424186"/>
<rect x="941" y="553" width="9" height="9" fill="#414487"/>
<rect x="950" y="553" width="9" height="9" fill="#3f4788"/>
<rect x="959" y="553" width="9" height="9" fill="#3e4989"/>
<rect x="1003" y="553" width="9" height="9" fill="#3d4d8a"/>
<rect x="1012" y="553" width="8" height="9" fill="#3c508b"/>
<rect x="1020" y="553" width="9" height="9" fill="#3b528b"/>
<rect x="1029" y="553" width="9" height="9" fill="#39558c"/>
<rect x="1047" y="553" width="9" height="9" fill="#38588c"/>
<rect x="1056" y="553" width="8" height="9" fill="#375b8d"/>
<rect x="1064" y="553" width="9" height="9" fill="#365d8d"/>
<rect x="1073" y="553" width="9" height="9" fill="#34608d"/>
<rect x="1082" y="553" width="9" height="9" fill="#33638d"/>
<rect x="1108" y="553" width="9" height="9" fill="#32658e"/>
<rect x="1117" y="553" width="9" height="9" fill="#31688e"/>
<rect x="1126" y="553" width="9" height="9" fill="#306a8e"/>
<rect x="1135" y="553" width="8" height="9" fill="#2e6d8e"/>
<rect x="1143" y="553" width="9" height="9" fill="#2d708e"/>
<rect x="1187" y="553" width="9" height="9" fill="#2c718e"/>
<rect x="1196" y="553" width="9" height="9" fill="#2b748e"/>
<rect x="1223" y="553" width="8" height="9" fill="#2a768e"/>
<rect x="1231" y="553" width="9" height="9" fill="#29798e"/>
<rect x="836" y="562" width="9" height="9" fill="#287c8e"/>
<rect x="845" y="562" width="8" height="9" fill="#277e8e"/>
<rect x="853" y="562" width="9" height="9" fill="#26818e"/>
<rect x="862" y="562" width="9" height="9" fill="#26828e"/>
<rect x="871" y="562" width="9" height="9" fill="#25858e"/>
<rect x="880" y="562" width="8" height="9" fill="#24878e"/>
<rect x="888" y="562" width="9" height="9" fill="#238a8d"/>
<rect x="897" y="562" width="9" height="9" fill="#228d8d"/>
<rect x="906" y="562" width="9" height="9" fill="#218f8d"/>
<rect x="915" y="562" width="9" height="9" fill="#20928c"/>
<rect x="924" y="562" width="8" height="9" fill="#20938c"/>
<rect x="932" y="562" width="9" height="9" fill="#1f968b"/>
<rect x="941" y="562" width="9" height="9" fill="#1f998a"/>
<rect x="950" y="562" width="9" height="9" fill="#1e9b8a"/>
<rect x="959" y="562" width="9" height="9" fill="#1f9e89"/>
<rect x="994" y="562" width="9" height="9" fill="#1fa088"/>
<rect x="1003" y="562" width="9" height="9" fill="#1fa287"/>
<rect x="1012" y="562" width="8" height="9" fill="#20a486"/>
<rect x="1020" y="562" width="9" height="9" fill="#22a785"/>
<rect x="1029" y="562" width="9" height="9" fill="#24aa83"/>
<rect x="1038" y="562" width="9" height="9" fill="#25ac82"/>
<rect x="1047" y="562" width="9" height="9" fill="#28ae80"/>
<rect x="1056" y="562" width="8" height="9" fill="#2ab07f"/>
<rect x="1073" y="562" width="9" height="9" fill="#2eb37c"/>
<rect x="1082" y="562" width="9" height="9" fill="#32b67a"/>
<rect x="1143" y="562" width="9" height="9" fill="#35b779"/>
<rect x="1152" y="562" width="9" height="9" fill="#3aba76"/>
<rect x="1179" y="562" width="8" height="9" fill="#3dbc74"/>
<rect x="1187" y="562" width="9" height="9" fill="#42be71"/>
<rect x="1205" y="562" width="9" height="9" fill="#48c16e"/>
<rect x="1214" y="562" width="9" height="9" fill="#4cc26c"/>
<rect x="1223" y="562" width="8" height="9" fill="#52c569"/>
<rect x="1231" y="562" width="9" height="9" fill="#56c667"/>
<rect x="836" y="571" width="9" height="9" fill="#5cc863"/>
<rect x="845" y="571" width="8" height="9" fill="#60ca60"/>
<rect x="853" y="571" width="9" height="9" fill="#67cc5c"/>
<rect x="862" y="571" width="9" height="9" fill="#6ece58"/>
<rect x="871" y="571" width="9" height="9" fill="#73d056"/>
<rect x="880" y="571" width="8" height="9" fill="#7ad151"/>
<rect x="915" y="571" width="9" height="9" fill="#7fd34e"/>
<rect x="932" y="571" width="9" height="9" fill="#86d549"/>
<rect x="950" y="571" width="9" height="9" fill="#8ed645"/>
<rect x="959" y="571" width="9" height="9" fill="#93d741"/>
<rect x="994" y="571" width="9" height="9" fill="#9bd93c"/>
<rect x="1003" y="571" width="9" height="9" fill="#a0da39"/>
<rect x="1012" y="571" width="8" height="9" fill="#a8db34"/>
<rect x="1020" y="571" width="9" height="9" fill="#addc30"/>
<rect x="1029" y="571" width="9" height="9" fill="#b5de2b"/>
<rect x="1038" y="571" width="9" height="9" fill="#bddf26"/>
<rect x="1064" y="571" width="9" height="9" fill="#c2df23"/>
<rect x="1073" y="571" width="9" height="9" fill="#cae11f"/>
<rect x="1082" y="571" width="9" height="9" fill="#d0e11c"/>
<rect x="1091" y="571" width="8" height="9" fill="#d8e219"/>
<rect x="1152" y="571" width="9" height="9" fill="#dfe318"/>
<rect x="1161" y="571" width="9" height="9" fill="#e5e419"/>
<rect x="1170" y="571" width="9" height="9" fill="#ece51b"/>
<rect x="1187" y="571" width="9" height="9" fill="#f1e51d"/>
<rect x="1196" y="571" width="9" height="9" fill="#f8e621"/>
<rect x="1205" y="571" width="9" height="9" fill="#fde725"/>
<rect x="1214" y="571" width="9" height="9" fill="#440154"/>
<rect x="1223" y="571" width="8" height="9" fill="#450457"/>
<rect x="836" y="580" width="9" height="8" fill="#46085c"/>
<rect x="862" y="580" width="9" height="8" fill="#460b5e"/>
<rect x="871" y="580" width="9" height="8" fill="#471063"/>
<rect x="880" y="580" width="8" height="8" fill="#471365"/>
<rect x="888" y="580" width="9" height="8" fill="#481769"/>
<rect x="897" y="580" width="9" height="8" fill="#481b6d"/>
<rect x="915" y="580" width="9" height="8" fill="#481d6f"/>
<rect x="924" y="580" width="8" height="8" fill="#482173"/>
<rect x="941" y="580" width="9" height="8" fill="#482475"/>
<rect x="950" y="580" width="9" height="8" fill="#482878"/>
<rect x="968" y="580" width="8" height="8" fill="#472c7a"/>
<rect x="985" y="580" width="9" height="8" fill="#472e7c"/>
<rect x="994" y="580" width="9" height="8" fill="#46327e"/>
<rect x="1003" y="580" width="9" height="8" fill="#463480"/>
<rect x="1012" y="580" width="8" height="8" fill="#453882"/>
<rect x="1064" y="580" width="9" height="8" fill="#443a83"/>
<rect x="1073" y="580" width="9" height="8" fill="#433e85"/>
<rect x="1091" y="580" width="8" height="8" fill="#424186"/>
<rect x="1099" y="580" width="9" height="8" fill="#414487"/>
<rect x="1108" y="580" width="9" height="8" fill="#3f4788"/>
<rect x="1135" y="580" width="8" height="8" fill="#3e4989"/>
<rect x="1143" y="580" width="9" height="8" fill="#3d4d8a"/>
<rect x="1152" y="580" width="9" height="8" fill="#3c508b"/>
<rect x="1161" y="580" width="9" height="8" fill="#3b528b"/>
<rect x="1170" y="580" width="9" height="8" fill="#39558c"/>
<rect x="1196" y="580" width="9" height="8" fill="#38588c"/>
<rect x="1205" y="580" width="9" height="8" fill="#375b8d"/>
<rect x="853" y="588" width="9" height="9" fill="#365d8d"/>
<rect x="862" y="588" width="9" height="9" fill="#34608d"/>
<rect x="871" y="588" width="9" height="9" fill="#33638d"/>
<rect x="880" y="588" width="8" height="9" fill="#32658e"/>
<rect x="888" y="588" width="9" height="9" fill="#31688e"/>
<rect x="897" y="588" width="9" height="9" fill="#306a8e"/>
<rect x="915" y="588" width="9" height="9" fill="#2e6d8e"/>
<rect x="924" y="588" width="8" height="9" fill="#2d708e"/>
<rect x="932" y="588" width="9" height="9" fill="#2c718e"/>
<rect x="941" y="588" width="9" height="9" fill="#2b748e"/>
<rect x="959" y="588" width="9" height="9" fill="#2a768e"/>
<rect x="968" y="588" width="8" height="9" fill="#29798e"/>
<rect x="985" y="588" width="9" height="9" fill="#287c8e"/>
<rect x="994" y="588" width="9" height="9" fill="#277e8e"/>
<rect x="1003" y="588" width="9" height="9" fill="#26818e"/>
<rect x="1012" y="588" width="8" height="9" fill="#26828e"/>
<rect x="1064" y="588" width="9" height="9" fill="#25858e"/>
<rect x="1073" y="588" width="9" height="9" fill="#24878e"/>
<rect x="1108" y="588" width="9" height="9" fill="#238a8d"/>
<rect x="1117" y="588" width="9" height="9" fill="#228d8d"/>
<rect x="1135" y="588" width="8" height="9" fill="#218f8d"/>
<rect x="1143" y="588" width="9" height="9" fill="#20928c"/>
<rect x="1161" y="588" width="9" height="9" fill="#20938c"/>
<rect x="1170" y="588" width="9" height="9" fill="#1f968b"/>
<rect x="1187" y="588" width="9" height="9" fill="#1f998a"/>
<rect x="1196" y="588" width="9" height="9" fill="#1e9b8a"/>
<rect x="853" y="597" width="9" height="9" fill="#1f9e89"/>
<rect x="862" y="597" width="9" height="9" fill="#1fa088"/>
<rect x="871" y="597" width="9" height="9" fill="#1fa287"/>
<rect x="897" y="597" width="9" height="9" fill="#20a486"/>
<rect x="906" y="597" width="9" height="9" fill="#22a785"/>
<rect x="915" y="597" width="9" height="9" fill="#24aa83"/>
<rect x="924" y="597" width="8" height="9" fill="#25ac82"/>
<rect x="932" y="597" width="9" height="9" fill="#28ae80"/>
<rect x="941" y="597" width="9" height="9" fill="#2ab07f"/>
<rect x="950" y="597" width="9" height="9" fill="#2eb37c"/>
<rect x="959" y="597" width="9" height="9" fill="#32b67a"/>
<rect x="968" y="597" width="8" height="9" fill="#35b779"/>
<rect x="976" y="597" width="9" height="9" fill="#3aba76"/>
<rect x="985" y="597" width="9" height="9" fill="#3dbc74"/>
<rect x="994" y="597" width="9" height="9" fill="#42be71"/>
<rect x="1003" y="597" width="9" height="9" fill="#48c16e"/>
<rect x="1056" y="597" width="8" height="9" fill="#4cc26c"/>
<rect x="1064" y="597" width="9" height="9" fill="#52c569"/>
<rect x="1099" y="597" width="9" height="9" fill="#56c667"/>
<rect x="1108" y="597" width="9" height="9" fill="#5cc863"/>
<rect x="1117" y="597" width="9" height="9" fill="#60ca60"/>
<rect x="1126" y="597" width="9" height="9" fill="#67cc5c"/>
<rect x="1135" y="597" width="8" height="9" fill="#6ece58"/>
<rect x="1170" y="597" width="9" height="9" fill="#73d056"/>
<rect x="1179" y="597" width="8" height="9" fill="#7ad151"/>
<rect x="1187" y="597" width="9" height="9" fill="#7fd34e"/>
<rect x="853" y="606" width="9" height="9" fill="#86d549"/>
<rect x="862" y="606" width="9" height="9" fill="#8ed645"/>
<rect x="871" y="606" width="9" height="9" fill="#93d741"/>
<rect x="880" y="606" width="8" height="9" fill="#9bd93c"/>
<rect x="888" y="606" width="9" height="9" fill="#a0da39"/>
<rect x="897" y="606" width="9" height="9" fill="#a8db34"/>
<rect x="906" y="606" width="9" height="9" fill="#addc30"/>
<rect x="915" y="606" width="9" height="9" fill="#b5de2b"/>
<rect x="941" y="606" width="9" height="9" fill="#bddf26"/>
<rect x="959" y="606" width="9" height="9" fill="#c2df23"/>
<rect x="968" y="606" width="8" height="9" fill="#cae11f"/>
<rect x="985" y="606" width="9" height="9" fill="#d0e11c"/>
<rect x="994" y="606" width="9" height="9" fill="#d8e219"/>
<rect x="1003" y="606" width="9" height="9" fill="#dfe318"/>
<rect x="1012" y="606" width="8" height="9" fill="#e5e419"/>
<rect x="1029" y="606" width="9" height="9" fill="#ece51b"/>
<rect x="1056" y="606" width="8" height="9" fill="#f1e51d"/>
<rect x="1064" y="606" width="9" height="9" fill="#f8e621"/>
<rect x="1073" y="606" width="9" height="9" fill="#fde725"/>
<rect x="1082" y="606" width="9" height="9" fill="#440154"/>
<rect x="1099" y="606" width="9" height="9" fill="#450457"/>
<rect x="1108" y="606" width="9" height="9" fill="#46085c"/>
<rect x="1126" y="606" width="9" height="9" fill="#460b5e"/>
<rect x="1135" y="606" width="8" height="9" fill="#471063"/>
<rect x="1143" y="606" width="9" height="9" fill="#471365"/>
<rect x="1179" y="606" width="8" height="9" fill="#481769"/>
<rect x="853" y="615" width="9" height="9" fill="#481b6d"/>
<rect x="862" y="615" width="9" height="9" fill="#481d6f"/>
<rect x="897" y="615" width="9" height="9" fill="#482173"/>
<rect x="906" y="615" width="9" height="9" fill="#482475"/>
<rect x="915" y="615" width="9" height="9" fill="#482878"/>
<rect x="932" y="615" width="9" height="9" fill="#472c7a"/>
<rect x="941" y="615" width="9" height="9" fill="#472e7c"/>
<rect x="968" y="615" width="8" height="9" fill="#46327e"/>
<rect x="976" y="615" width="9" height="9" fill="#463480"/>
<rect x="985" y="615" width="9" height="9" fill="#453882"/>
<rect x="994" y="615" width="9" height="9" fill="#443a83"/>
<rect x="1003" y="615" width="9" height="9" fill="#433e85"/>
<rect x="1012" y="615" width="8" height="9" fill="#424186"/>
<rect x="1056" y="615" width="8" height="9" fill="#414487"/>
<rect x="1064" y="615" width="9" height="9" fill="#3f4788"/>
<rect x="1073" y="615" width="9" height="9" fill="#3e4989"/>
<rect x="1082" y="615" width="9" height="9" fill="#3d4d8a"/>
<rect x="1099" y="615" width="9" height="9" fill="#3c508b"/>
<rect x="1108" y="615" width="9" height="9" fill="#3b528b"/>
<rect x="1170" y="615" width="9" height="9" fill="#39558c"/>
<rect x="1187" y="615" width="9" height="9" fill="#38588c"/>
<rect x="845" y="624" width="8" height="8" fill="#375b8d"/>
<rect x="862" y="624" width="9" height="8" fill="#365d8d"/>
<rect x="880" y="624" width="8" height="8" fill="#34608d"/>
<rect x="924" y="624" width="8" height="8" fill="#33638d"/>
<rect x="932" y="624" width="9" height="8" fill="#32658e"/>
<rect x="941" y="624" width="9" height="8" fill="#31688e"/>
<rect x="985" y="624" width="9" height="8" fill="#306a8e"/>
<rect x="994" y="624" width="9" height="8" fill="#2e6d8e"/>
<rect x="1003" y="624" width="9" height="8" fill="#2d708e"/>
<rect x="1012" y="624" width="8" height="8" fill="#2c718e"/>
<rect x="1020" y="624" width="9" height="8" fill="#2b748e"/>
<rect x="1047" y="624" width="9" height="8" fill="#2a768e"/>
<rect x="1056" y="624" width="8" height="8" fill="#29798e"/>
<rect x="1064" y="624" width="9" height="8" fill="#287c8e"/>
<rect x="1082" y="624" width="9" height="8" fill="#277e8e"/>
<rect x="1091" y="624" width="8" height="8" fill="#26818e"/>
<rect x="1161" y="624" width="9" height="8" fill="#26828e"/>
<rect x="1170" y="624" width="9" height="8" fill="#25858e"/>
<rect x="1187" y="624" width="9" height="8" fill="#24878e"/>
<rect x="880" y="632" width="8" height="9" fill="#238a8d"/>
<rect x="897" y="632" width="9" height="9" fill="#228d8d"/>
<rect x="915" y="632" width="9" height="9" fill="#218f8d"/>
<rect x="924" y="632" width="8" height="9" fill="#20928c"/>
<rect x="932" y="632" width="9" height="9" fill="#20938c"/>
<rect x="941" y="632" width="9" height="9" fill="#1f968b"/>
<rect x="950" y="632" width="9" height="9" fill="#1f998a"/>
<rect x="959" y="632" width="9" height="9" fill="#1e9b8a"/>
<rect x="968" y="632" width="8" height="9" fill="#1f9e89"/>
<rect x="976" y="632" width="9" height="9" fill="#1fa088"/>
<rect x="985" y="632" width="9" height="9" fill="#1fa287"/>
<rect x="994" y="632" width="9" height="9" fill="#20a486"/>
<rect x="1003" y="632" width="9" height="9" fill="#22a785"/>
<rect x="1012" y="632" width="8" height="9" fill="#24aa83"/>
<rect x="1020" y="632" width="9" height="9" fill="#25ac82"/>
<rect x="1029" y="632" width="9" height="9" fill="#28ae80"/>
<rect x="1038" y="632" width="9" height="9" fill="#2ab07f"/>
<rect x="1047" y="632" width="9" height="9" fill="#2eb37c"/>
<rect x="1073" y="632" width="9" height="9" fill="#32b67a"/>
<rect x="1082" y="632" width="9" height="9" fill="#35b779"/>
<rect x="1091" y="632" width="8" height="9" fill="#3aba76"/>
<rect x="1126" y="632" width="9" height="9" fill="#3dbc74"/>
<rect x="1135" y="632" width="8" height="9" fill="#42be71"/>
<rect x="1161" y="632" width="9" height="9" fill="#48c16e"/>
<rect x="1170" y="632" width="9" height="9" fill="#4cc26c"/>
<rect x="836" y="641" width="9" height="9" fill="#52c569"/>
<rect x="871" y="641" width="9" height="9" fill="#56c667"/>
<rect x="880" y="641" width="8" height="9" fill="#5cc863"/>
<rect x="888" y="641" width="9" height="9" fill="#60ca60"/>
<rect x="897" y="641" width="9" height="9" fill="#67cc5c"/>
<rect x="906" y="641" width="9" height="9" fill="#6ece58"/>
<rect x="915" y="641" width="9" height="9" fill="#73d056"/>
<rect x="941" y="641" width="9" height="9" fill="#7ad151"/>
<rect x="950" y="641" width="9" height="9" fill="#7fd34e"/>
<rect x="959" y="641" width="9" height="9" fill="#86d549"/>
<rect x="968" y="641" width="8" height="9" fill="#8ed645"/>
<rect x="976" y="641" width="9" height="9" fill="#93d741"/>
<rect x="985" y="641" width="9" height="9" fill="#9bd93c"/>
<rect x="994" y="641" width="9" height="9" fill="#a0da39"/>
<rect x="1003" y="641" width="9" height="9" fill="#a8db34"/>
<rect x="1012" y="641" width="8" height="9" fill="#addc30"/>
<rect x="1020" y="641" width="9" height="9" fill="#b5de2b"/>
<rect x="1029" y="641" width="9" height="9" fill="#bddf26"/>
<rect x="1038" y="641" width="9" height="9" fill="#c2df23"/>
<rect x="1047" y="641" width="9" height="9" fill="#cae11f"/>
<rect x="1056" y="641" width="8" height="9" fill="#d0e11c"/>
<rect x="1064" y="641" width="9" height="9" fill="#d8e219"/>
<rect x="1073" y="641" width="9" height="9" fill="#dfe318"/>
<rect x="1082" y="641" width="9" height="9" fill="#e5e419"/>
<rect x="1091" y="641" width="8" height="9" fill="#ece51b"/>
<rect x="1117" y="641" width="9" height="9" fill="#f1e51d"/>
<rect x="1126" y="641" width="9" height="9" fill="#f8e621"/>
<rect x="1135" y="641" width="8" height="9" fill="#fde725"/>
<rect x="1170" y="641" width="9" height="9" fill="#440154"/>
<rect x="1179" y="641" width="8" height="9" fill="#450457"/>
<rect x="827" y="650" width="9" height="9" fill="#46085c"/>
<rect x="836" y="650" width="9" height="9" fill="#460b5e"/>
<rect x="845" y="650" width="8" height="9" fill="#471063"/>
<rect x="853" y="650" width="9" height="9" fill="#471365"/>
<rect x="862" y="650" width="9" height="9" fill="#481769"/>
<rect x="871" y="650" width="9" height="9" fill="#481b6d"/>
<rect x="880" y="650" width="8" height="9" fill="#481d6f"/>
<rect x="932" y="650" width="9" height="9" fill="#482173"/>
<rect x="941" y="650" width="9" height="9" fill="#482475"/>
<rect x="950" y="650" width="9" height="9" fill="#482878"/>
<rect x="959" y="650" width="9" height="9" fill="#472c7a"/>
<rect x="968" y="650" width="8" height="9" fill="#472e7c"/>
<rect x="976" y="650" width="9" height="9" fill="#46327e"/>
<rect x="985" y="650" width="9" height="9" fill="#463480"/>
<rect x="994" y="650" width="9" height="9" fill="#453882"/>
<rect x="1003" y="650" width="9" height="9" fill="#443a83"/>
<rect x="1012" y="650" width="8" height="9" fill="#433e85"/>
<rect x="1020" y="650" width="9" height="9" fill="#424186"/>
<rect x="1029" y="650" width="9" height="9" fill="#414487"/>
<rect x="1038" y="650" width="9" height="9" fill="#3f4788"/>
<rect x="1047" y="650" width="9" height="9" fill="#3e4989"/>
<rect x="1056" y="650" width="8" height="9" fill="#3d4d8a"/>
<rect x="1064" y="650" width="9" height="9" fill="#3c508b"/>
<rect x="1073" y="650" width="9" height="9" fill="#3b528b"/>
<rect x="1082" y="650" width="9" height="9" fill="#39558c"/>
<rect x="1108" y="650" width="9" height="9" fill="#38588c"/>
<rect x="1117" y="650" width="9" height="9" fill="#375b8d"/>
<rect x="1126" y="650" width="9" height="9" fill="#365d8d"/>
<rect x="1135" y="650" width="8" height="9" fill="#34608d"/>
<rect x="1161" y="650" width="9" height="9" fill="#33638d"/>
<rect x="1170" y="650" width="9" height="9" fill="#32658e"/>
<rect x="827" y="659" width="9" height="9" fill="#31688e"/>
<rect x="836" y="659" width="9" height="9" fill="#306a8e"/>
<rect x="845" y="659" width="8" height="9" fill="#2e6d8e"/>
<rect x="853" y="659" width="9" height="9" fill="#2d708e"/>
<rect x="871" y="659" width="9" height="9" fill="#2c718e"/>
<rect x="880" y="659" width="8" height="9" fill="#2b748e"/>
<rect x="906" y="659" width="9" height="9" fill="#2a768e"/>
<rect x="915" y="659" width="9" height="9" fill="#29798e"/>
<rect x="924" y="659" width="8" height="9" fill="#287c8e"/>
<rect x="932" y="659" width="9" height="9" fill="#277e8e"/>
<rect x="941" y="659" width="9" height="9" fill="#26818e"/>
<rect x="950" y="659" width="9" height="9" fill="#26828e"/>
<rect x="959" y="659" width="9" height="9" fill="#25858e"/>
<rect x="968" y="659" width="8" height="9" fill="#24878e"/>
<rect x="976" y="659" width="9" height="9" fill="#238a8d"/>
<rect x="985" y="659" width="9" height="9" fill="#228d8d"/>
<rect x="994" y="659" width="9" height="9" fill="#218f8d"/>
<rect x="1003" y="659" width="9" height="9" fill="#20928c"/>
<rect x="1012" y="659" width="8" height="9" fill="#20938c"/>
<rect x="1038" y="659" width="9" height="9" fill="#1f968b"/>
<rect x="1047" y="659" width="9" height="9" fill="#1f998a"/>
<rect x="1056" y="659" width="8" height="9" fill="#1e9b8a"/>
<rect x="1064" y="659" width="9" height="9" fill="#1f9e89"/>
<rect x="1073" y="659" width="9" height="9" fill="#1fa088"/>
<rect x="1082" y="659" width="9" height="9" fill="#1fa287"/>
<rect x="1091" y="659" width="8" height="9" fill="#20a486"/>
<rect x="1108" y="659" width="9" height="9" fill="#22a785"/>
<rect x="1117" y="659" width="9" height="9" fill="#24aa83"/>
<rect x="1126" y="659" width="9" height="9" fill="#25ac82"/>
<rect x="1143" y="659" width="9" height="9" fill="#28ae80"/>
<rect x="1161" y="659" width="9" height="9" fill="#2ab07f"/>
<rect x="1170" y="659" width="9" height="9" fill="#2eb37c"/>
<rect x="853" y="668" width="9" height="8" fill="#32b67a"/>
<rect x="880" y="668" width="8" height="8" fill="#35b779"/>
<rect x="888" y="668" width="9" height="8" fill="#3aba76"/>
<rect x="897" y="668" width="9" height="8" fill="#3dbc74"/>
<rect x="906" y="668" width="9" height="8" fill="#42be71"/>
<rect x="924" y="668" width="8" height="8" fill="#48c16e"/>
<rect x="950" y="668" width="9" height="8" fill="#4cc26c"/>
<rect x="976" y="668" width="9" height="8" fill="#52c569"/>
<rect x="985" y="668" width="9" height="8" fill="#56c667"/>
<rect x="994" y="668" width="9" height="8" fill="#5cc863"/>
<rect x="1003" y="668" width="9" height="8" fill="#60ca60"/>
<rect x="1012" y="668" width="8" height="8" fill="#67cc5c"/>
<rect x="1020" y="668" width="9" height="8" fill="#6ece58"/>
<rect x="1047" y="668" width="9" height="8" fill="#73d056"/>
<rect x="1056" y="668" width="8" height="8" fill="#7ad151"/>
<rect x="1064" y="668" width="9" height="8" fill="#7fd34e"/>
<rect x="1073" y="668" width="9" height="8" fill="#86d549"/>
<rect x="1082" y="668" width="9" height="8" fill="#8ed645"/>
<rect x="1108" y="668" width="9" height="8" fill="#93d741"/>
<rect x="1143" y="668" width="9" height="8" fill="#9bd93c"/>
<rect x="1152" y="668" width="9" height="8" fill="#a0da39"/>
<rect x="836" y="676" width="9" height="9" fill="#a8db34"/>
<rect x="845" y="676" width="8" height="9" fill="#addc30"/>
<rect x="853" y="676" width="9" height="9" fill="#b5de2b"/>
<rect x="862" y="676" width="9" height="9" fill="#bddf26"/>
<rect x="871" y="676" width="9" height="9" fill="#c2df23"/>
<rect x="880" y="676" width="8" height="9" fill="#cae11f"/>
<rect x="888" y="676" width="9" height="9" fill="#d0e11c"/>
<rect x="897" y="676" width="9" height="9" fill="#d8e219"/>
<rect x="906" y="676" width="9" height="9" fill="#dfe318"/>
<rect x="932" y="676" width="9" height="9" fill="#e5e419"/>
<rect x="941" y="676" width="9" height="9" fill="#ece51b"/>
<rect x="950" y="676" width="9" height="9" fill="#f1e51d"/>
<rect x="968" y="676" width="8" height="9" fill="#f8e621"/>
<rect x="976" y="676" width="9" height="9" fill="#fde725"/>
<rect x="985" y="676" width="9" height="9" fill="#440154"/>
<rect x="994" y="676" width="9" height="9" fill="#450457"/>
<rect x="1003" y="676" width="9" height="9" fill="#46085c"/>
<rect x="1012" y="676" width="8" height="9" fill="#460b5e"/>
<rect x="1020" y="676" width="9" height="9" fill="#471063"/>
<rect x="1029" y="676" width="9" height="9" fill="#471365"/>
<rect x="1047" y="676" width="9" height="9" fill="#481769"/>
<rect x="1056" y="676" width="8" height="9" fill="#481b6d"/>
<rect x="1064" y="676" width="9" height="9" fill="#481d6f"/>
<rect x="1073" y="676" width="9" height="9" fill="#482173"/>
<rect x="1082" y="676" width="9" height="9" fill="#482475"/>
<rect x="1108" y="676" width="9" height="9" fill="#482878"/>
<rect x="1135" y="676" width="8" height="9" fill="#472c7a"/>
<rect x="1143" y="676" width="9" height="9" fill="#472e7c"/>
<rect x="818" y="685" width="9" height="9" fill="#46327e"/>
<rect x="827" y="685" width="9" height="9" fill="#463480"/>
<rect x="836" y="685" width="9" height="9" fill="#453882"/>
<rect x="845" y="685" width="8" height="9" fill="#443a83"/>
<rect x="853" y="685" width="9" height="9" fill="#433e85"/>
<rect x="862" y="685" width="9" height="9" fill="#424186"/>
<rect x="888" y="685" width="9" height="9" fill="#414487"/>
<rect x="897" y="685" width="9" height="9" fill="#3f4788"/>
<rect x="906" y="685" width="9" height="9" fill="#3e4989"/>
<rect x="915" y="685" width="9" height="9" fill="#3d4d8a"/>
<rect x="924" y="685" width="8" height="9" fill="#3c508b"/>
<rect x="932" y="685" width="9" height="9" fill="#3b528b"/>
<rect x="941" y="685" width="9" height="9" fill="#39558c"/>
<rect x="950" y="685" width="9" height="9" fill="#38588c"/>
<rect x="959" y="685" width="9" height="9" fill="#375b8d"/>
<rect x="968" y="685" width="8" height="9" fill="#365d8d"/>
<rect x="976" y="685" width="9" height="9" fill="#34608d"/>
<rect x="994" y="685" width="9" height="9" fill="#33638d"/>
<rect x="1003" y="685" width="9" height="9" fill="#32658e"/>
<rect x="1012" y="685" width="8" height="9" fill="#31688e"/>
<rect x="1020" y="685" width="9" height="9" fill="#306a8e"/>
<rect x="1047" y="685" width="9" height="9" fill="#2e6d8e"/>
<rect x="1056" y="685" width="8" height="9" fill="#2d708e"/>
<rect x="1064" y="685" width="9" height="9" fill="#2c718e"/>
<rect x="1073" y="685" width="9" height="9" fill="#2b748e"/>
<rect x="1082" y="685" width="9" height="9" fill="#2a768e"/>
<rect x="1135" y="685" width="8" height="9" fill="#29798e"/>
<rect x="1143" y="685" width="9" height="9" fill="#287c8e"/>
<rect x="809" y="694" width="9" height="9" fill="#277e8e"/>
<rect x="818" y="694" width="9" height="9" fill="#26818e"/>
<rect x="827" y="694" width="9" height="9" fill="#26828e"/>
<rect x="836" y="694" width="9" height="9" fill="#25858e"/>
<rect x="845" y="694" width="8" height="9" fill="#24878e"/>
<rect x="853" y="694" width="9" height="9" fill="#238a8d"/>
<rect x="862" y="694" width="9" height="9" fill="#228d8d"/>
<rect x="888" y="694" width="9" height="9" fill="#218f8d"/>
<rect x="897" y="694" width="9" height="9" fill="#20928c"/>
<rect x="915" y="694" width="9" height="9" fill="#20938c"/>
<rect x="924" y="694" width="8" height="9" fill="#1f968b"/>
<rect x="941" y="694" width="9" height="9" fill="#1f998a"/>
<rect x="950" y="694" width="9" height="9" fill="#1e9b8a"/>
<rect x="959" y="694" width="9" height="9" fill="#1f9e89"/>
<rect x="976" y="694" width="9" height="9" fill="#1fa088"/>
<rect x="985" y="694" width="9" height="9" fill="#1fa287"/>
<rect x="1003" y="694" width="9" height="9" fill="#20a486"/>
<rect x="1012" y="694" width="8" height="9" fill="#22a785"/>
<rect x="1020" y="694" width="9" height="9" fill="#24aa83"/>
<rect x="1047" y="694" width="9" height="9" fill="#25ac82"/>
<rect x="1056" y="694" width="8" height="9" fill="#28ae80"/>
<rect x="1082" y="694" width="9" height="9" fill="#2ab07f"/>
<rect x="1091" y="694" width="8" height="9" fill="#2eb37c"/>
<rect x="1108" y="694" width="9" height="9" fill="#32b67a"/>
<rect x="1135" y="694" width="8" height="9" fill="#35b779"/>
<rect x="792" y="703" width="9" height="9" fill="#3aba76"/>
<rect x="801" y="703" width="8" height="9" fill="#3dbc74"/>
<rect x="809" y="703" width="9" height="9" fill="#42be71"/>
<rect x="818" y="703" width="9" height="9" fill="#48c16e"/>
<rect x="836" y="703" width="9" height="9" fill="#4cc26c"/>
<rect x="845" y="703" width="8" height="9" fill="#52c569"/>
<rect x="853" y="703" width="9" height="9" fill="#56c667"/>
<rect x="862" y="703" width="9" height="9" fill="#5cc863"/>
<rect x="871" y="703" width="9" height="9" fill="#60ca60"/>
<rect x="880" y="703" width="8" height="9" fill="#67cc5c"/>
<rect x="888" y="703" width="9" height="9" fill="#6ece58"/>
<rect x="897" y="703" width="9" height="9" fill="#73d056"/>
<rect x="906" y="703" width="9" height="9" fill="#7ad151"/>
<rect x="915" y="703" width="9" height="9" fill="#7fd34e"/>
<rect x="924" y="703" width="8" height="9" fill="#86d549"/>
<rect x="976" y="703" width="9" height="9" fill="#8ed645"/>
<rect x="985" y="703" width="9" height="9" fill="#93d741"/>
<rect x="1003" y="703" width="9" height="9" fill="#9bd93c"/>
<rect x="1012" y="703" width="8" height="9" fill="#a0da39"/>
<rect x="1038" y="703" width="9" height="9" fill="#a8db34"/>
<rect x="1047" y="703" width="9" height="9" fill="#addc30"/>
<rect x="1091" y="703" width="8" height="9" fill="#b5de2b"/>
<rect x="1099" y="703" width="9" height="9" fill="#bddf26"/>
<rect x="1117" y="703" width="9" height="9" fill="#c2df23"/>
<rect x="1135" y="703" width="8" height="9" fill="#cae11f"/>
<rect x="1143" y="703" width="9" height="9" fill="#d0e11c"/>
<rect x="809" y="712" width="9" height="8" fill="#d8e219"/>
<rect x="836" y="712" width="9" height="8" fill="#dfe318"/>
<rect x="845" y="712" width="8" height="8" fill="#e5e419"/>
<rect x="853" y="712" width="9" height="8" fill="#ece51b"/>
<rect x="862" y="712" width="9" height="8" fill="#f1e51d"/>
<rect x="871" y="712" width="9" height="8" fill="#f8e621"/>
<rect x="880" y="712" width="8" height="8" fill="#fde725"/>
<rect x="897" y="712" width="9" height="8" fill="#440154"/>
<rect x="906" y="712" width="9" height="8" fill="#450457"/>
<rect x="915" y="712" width="9" height="8" fill="#46085c"/>
<rect x="924" y="712" width="8" height="8" fill="#460b5e"/>
<rect x="932" y="712" width="9" height="8" fill="#471063"/>
<rect x="976" y="712" width="9" height="8" fill="#471365"/>
<rect x="985" y="712" width="9" height="8" fill="#481769"/>
<rect x="994" y="712" width="9" height="8" fill="#481b6d"/>
<rect x="1003" y="712" width="9" height="8" fill="#481d6f"/>
<rect x="1020" y="712" width="9" height="8" fill="#482173"/>
<rect x="1029" y="712" width="9" height="8" fill="#482475"/>
<rect x="1038" y="712" width="9" height="8" fill="#482878"/>
<rect x="1047" y="712" width="9" height="8" fill="#472c7a"/>
<rect x="1073" y="712" width="9" height="8" fill="#472e7c"/>
<rect x="1082" y="712" width="9" height="8" fill="#46327e"/>
<rect x="1091" y="712" width="8" height="8" fill="#463480"/>
<rect x="1108" y="712" width="9" height="8" fill="#453882"/>
<rect x="1117" y="712" width="9" height="8" fill="#443a83"/>
<rect x="1126" y="712" width="9" height="8" fill="#433e85"/>
<rect x="1143" y="712" width="9" height="8" fill="#424186"/>
<rect x="809" y="720" width="9" height="9" fill="#414487"/>
<rect x="836" y="720" width="9" height="9" fill="#3f4788"/>
<rect x="862" y="720" width="9" height="9" fill="#3e4989"/>
<rect x="871" y="720" width="9" height="9" fill="#3d4d8a"/>
<rect x="880" y="720" width="8" height="9" fill="#3c508b"/>
<rect x="897" y="720" width="9" height="9" fill="#3b528b"/>
<rect x="906" y="720" width="9" height="9" fill="#39558c"/>
<rect x="915" y="720" width="9" height="9" fill="#38588c"/>
<rect x="924" y="720" width="8" height="9" fill="#375b8d"/>
<rect x="932" y="720" width="9" height="9" fill="#365d8d"/>
<rect x="950" y="720" width="9" height="9" fill="#34608d"/>
<rect x="959" y="720" width="9" height="9" fill="#33638d"/>
<rect x="985" y="720" width="9" height="9" fill="#32658e"/>
<rect x="994" y="720" width="9" height="9" fill="#31688e"/>
<rect x="1003" y="720" width="9" height="9" fill="#306a8e"/>
<rect x="1029" y="720" width="9" height="9" fill="#2e6d8e"/>
<rect x="1038" y="720" width="9" height="9" fill="#2d708e"/>
<rect x="1064" y="720" width="9" height="9" fill="#2c718e"/>
<rect x="1073" y="720" width="9" height="9" fill="#2b748e"/>
<rect x="1082" y="720" width="9" height="9" fill="#2a768e"/>
<rect x="1091" y="720" width="8" height="9" fill="#29798e"/>
<rect x="1108" y="720" width="9" height="9" fill="#287c8e"/>
<rect x="1117" y="720" width="9" height="9" fill="#277e8e"/>
<rect x="1126" y="720" width="9" height="9" fill="#26818e"/>
<rect x="1135" y="720" width="8" height="9" fill="#26828e"/>
<rect x="1143" y="720" width="9" height="9" fill="#25858e"/>
<rect x="827" y="729" width="9" height="9" fill="#24878e"/>
<rect x="836" y="729" width="9" height="9" fill="#238a8d"/>
<rect x="845" y="729" width="8" height="9" fill="#228d8d"/>
<rect x="853" y="729" width="9" height="9" fill="#218f8d"/>
<rect x="862" y="729" width="9" height="9" fill="#20928c"/>
<rect x="871" y="729" width="9" height="9" fill="#20938c"/>
<rect x="880" y="729" width="8" height="9" fill="#1f968b"/>
<rect x="888" y="729" width="9" height="9" fill="#1f998a"/>
<rect x="897" y="729" width="9" height="9" fill="#1e9b8a"/>
<rect x="906" y="729" width="9" height="9" fill="#1f9e89"/>
<rect x="915" y="729" width="9" height="9" fill="#1fa088"/>
<rect x="924" y="729" width="8" height="9" fill="#1fa287"/>
<rect x="932" y="729" width="9" height="9" fill="#20a486"/>
<rect x="950" y="729" width="9" height="9" fill="#22a785"/>
<rect x="959" y="729" width="9" height="9" fill="#24aa83"/>
<rect x="968" y="729" width="8" height="9" fill="#25ac82"/>
<rect x="976" y="729" width="9" height="9" fill="#28ae80"/>
<rect x="985" y="729" width="9" height="9" fill="#2ab07f"/>
<rect x="994" y="729" width="9" height="9" fill="#2eb37c"/>
<rect x="1003" y="729" width="9" height="9" fill="#32b67a"/>
<rect x="1012" y="729" width="8" height="9" fill="#35b779"/>
<rect x="1020" y="729" width="9" height="9" fill="#3aba76"/>
<rect x="1047" y="729" width="9" height="9" fill="#3dbc74"/>
<rect x="1064" y="729" width="9" height="9" fill="#42be71"/>
<rect x="1082" y="729" width="9" height="9" fill="#48c16e"/>
<rect x="1091" y="729" width="8" height="9" fill="#4cc26c"/>
<rect x="1099" y="729" width="9" height="9" fill="#52c569"/>
<rect x="1108" y="729" width="9" height="9" fill="#56c667"/>
<rect x="1117" y="729" width="9" height="9" fill="#5cc863"/>
<rect x="1126" y="729" width="9" height="9" fill="#60ca60"/>
<rect x="1135" y="729" width="8" height="9" fill="#67cc5c"/>
<rect x="827" y="738" width="9" height="9" fill="#6ece58"/>
<rect x="836" y="738" width="9" height="9" fill="#73d056"/>
<rect x="845" y="738" width="8" height="9" fill="#7ad151"/>
<rect x="853" y="738" width="9" height="9" fill="#7fd34e"/>
<rect x="862" y="738" width="9" height="9" fill="#86d549"/>
<rect x="871" y="738" width="9" height="9" fill="#8ed645"/>
<rect x="880" y="738" width="8" height="9" fill="#93d741"/>
<rect x="888" y="738" width="9" height="9" fill="#9bd93c"/>
<rect x="897" y="738" width="9" height="9" fill="#a0da39"/>
<rect x="906" y="738" width="9" height="9" fill="#a8db34"/>
<rect x="915" y="738" width="9" height="9" fill="#addc30"/>
<rect x="932" y="738" width="9" height="9" fill="#b5de2b"/>
<rect x="941" y="738" width="9" height="9" fill="#bddf26"/>
<rect x="950" y="738" width="9" height="9" fill="#c2df23"/>
<rect x="959" y="738" width="9" height="9" fill="#cae11f"/>
<rect x="968" y="738" width="8" height="9" fill="#d0e11c"/>
<rect x="976" y="738" width="9" height="9" fill="#d8e219"/>
<rect x="985" y="738" width="9" height="9" fill="#dfe318"/>
<rect x="994" y="738" width="9" height="9" fill="#e5e419"/>
<rect x="1020" y="738" width="9" height="9" fill="#ece51b"/>
<rect x="1029" y="738" width="9" height="9" fill="#f1e51d"/>
<rect x="1038" y="738" width="9" height="9" fill="#f8e621"/>
<rect x="1047" y="738" width="9" height="9" fill="#fde725"/>
<rect x="1056" y="738" width="8" height="9" fill="#440154"/>
<rect x="1064" y="738" width="9" height="9" fill="#450457"/>
<rect x="1082" y="738" width="9" height="9" fill="#46085c"/>
<rect x="1091" y="738" width="8" height="9" fill="#460b5e"/>
<rect x="1099" y="738" width="9" height="9" fill="#471063"/>
<rect x="1117" y="738" width="9" height="9" fill="#471365"/>
<rect x="1126" y="738" width="9" height="9" fill="#481769"/>
<rect x="827" y="747" width="9" height="9" fill="#481b6d"/>
<rect x="836" y="747" width="9" height="9" fill="#481d6f"/>
<rect x="853" y="747" width="9" height="9" fill="#482173"/>
<rect x="862" y="747" width="9" height="9" fill="#482475"/>
<rect x="871" y="747" width="9" height="9" fill="#482878"/>
<rect x="880" y="747" width="8" height="9" fill="#472c7a"/>
<rect x="888" y="747" width="9" height="9" fill="#472e7c"/>
<rect x="897" y="747" width="9" height="9" fill="#46327e"/>
<rect x="906" y="747" width="9" height="9" fill="#463480"/>
<rect x="915" y="747" width="9" height="9" fill="#453882"/>
<rect x="924" y="747" width="8" height="9" fill="#443a83"/>
<rect x="932" y="747" width="9" height="9" fill="#433e85"/>
<rect x="941" y="747" width="9" height="9" fill="#424186"/>
<rect x="968" y="747" width="8" height="9" fill="#414487"/>
<rect x="976" y="747" width="9" height="9" fill="#3f4788"/>
<rect x="985" y="747" width="9" height="9" fill="#3e4989"/>
<rect x="994" y="747" width="9" height="9" fill="#3d4d8a"/>
<rect x="1003" y="747" width="9" height="9" fill="#3c508b"/>
<rect x="1020" y="747" width="9" height="9" fill="#3b528b"/>
<rect x="1029" y="747" width="9" height="9" fill="#39558c"/>
<rect x="1047" y="747" width="9" height="9" fill="#38588c"/>
<rect x="1056" y="747" width="8" height="9" fill="#375b8d"/>
<rect x="1064" y="747" width="9" height="9" fill="#365d8d"/>
<rect x="1073" y="747" width="9" height="9" fill="#34608d"/>
<rect x="1082" y="747" width="9" height="9" fill="#33638d"/>
<rect x="1091" y="747" width="8" height="9" fill="#32658e"/>
<rect x="1099" y="747" width="9" height="9" fill="#31688e"/>
<rect x="1126" y="747" width="9" height="9" fill="#306a8e"/>
<rect x="1135" y="747" width="8" height="9" fill="#2e6d8e"/>
<rect x="880" y="756" width="8" height="8" fill="#2d708e"/>
<rect x="888" y="756" width="9" height="8" fill="#2c718e"/>
<rect x="897" y="756" width="9" height="8" fill="#2b748e"/>
<rect x="906" y="756" width="9" height="8" fill="#2a768e"/>
<rect x="915" y="756" width="9" height="8" fill="#29798e"/>
<rect x="924" y="756" width="8" height="8" fill="#287c8e"/>
<rect x="932" y="756" width="9" height="8" fill="#277e8e"/>
<rect x="941" y="756" width="9" height="8" fill="#26818e"/>
<rect x="950" y="756" width="9" height="8" fill="#26828e"/>
<rect x="959" y="756" width="9" height="8" fill="#25858e"/>
<rect x="968" y="756" width="8" height="8" fill="#24878e"/>
<rect x="976" y="756" width="9" height="8" fill="#238a8d"/>
<rect x="985" y="756" width="9" height="8" fill="#228d8d"/>
<rect x="994" y="756" width="9" height="8" fill="#218f8d"/>
<rect x="1003" y="756" width="9" height="8" fill="#20928c"/>
<rect x="1073" y="756" width="9" height="8" fill="#20938c"/>
<rect x="1082" y="756" width="9" height="8" fill="#1f968b"/>
<rect x="1091" y="756" width="8" height="8" fill="#1f998a"/>
<rect x="1099" y="756" width="9" height="8" fill="#1e9b8a"/>
<rect x="1108" y="756" width="9" height="8" fill="#1f9e89"/>
<rect x="1135" y="756" width="8" height="8" fill="#1fa088"/>
<rect x="888" y="764" width="9" height="9" fill="#1fa287"/>
<rect x="897" y="764" width="9" height="9" fill="#20a486"/>
<rect x="906" y="764" width="9" height="9" fill="#22a785"/>
<rect x="924" y="764" width="8" height="9" fill="#24aa83"/>
<rect x="932" y="764" width="9" height="9" fill="#25ac82"/>
<rect x="941" y="764" width="9" height="9" fill="#28ae80"/>
<rect x="950" y="764" width="9" height="9" fill="#2ab07f"/>
<rect x="959" y="764" width="9" height="9" fill="#2eb37c"/>
<rect x="968" y="764" width="8" height="9" fill="#32b67a"/>
<rect x="1091" y="764" width="8" height="9" fill="#35b779"/>
<rect x="1108" y="764" width="9" height="9" fill="#3aba76"/>
<rect x="1126" y="764" width="9" height="9" fill="#3dbc74"/>
<rect x="1135" y="764" width="8" height="9" fill="#42be71"/>
<rect x="888" y="773" width="9" height="9" fill="#48c16e"/>
<rect x="897" y="773" width="9" height="9" fill="#4cc26c"/>
<rect x="915" y="773" width="9" height="9" fill="#52c569"/>
<rect x="924" y="773" width="8" height="9" fill="#56c667"/>
<rect x="932" y="773" width="9" height="9" fill="#5cc863"/>
<rect x="941" y="773" width="9" height="9" fill="#60ca60"/>
<rect x="950" y="773" width="9" height="9" fill="#67cc5c"/>
<rect x="959" y="773" width="9" height="9" fill="#6ece58"/>
<rect x="968" y="773" width="8" height="9" fill="#73d056"/>
<rect x="1091" y="773" width="8" height="9" fill="#7ad151"/>
<rect x="1108" y="773" width="9" height="9" fill="#7fd34e"/>
<rect x="1126" y="773" width="9" height="9" fill="#86d549"/>
<rect x="915" y="782" width="9" height="9" fill="#8ed645"/>
<rect x="924" y="782" width="8" height="9" fill="#93d741"/>
<rect x="932" y="782" width="9" height="9" fill="#9bd93c"/>
<rect x="950" y="782" width="9" height="9" fill="#a0da39"/>
<rect x="959" y="782" width="9" height="9" fill="#a8db34"/>
<rect x="968" y="782" width="8" height="9" fill="#addc30"/>
<rect x="1108" y="782" width="9" height="9" fill="#b5de2b"/>
<rect x="1117" y="782" width="9" height="9" fill="#bddf26"/>
<rect x="1126" y="782" width="9" height="9" fill="#c2df23"/>
<rect x="1135" y="782" width="8" height="9" fill="#cae11f"/>
<rect x="915" y="791" width="9" height="9" fill="#d0e11c"/>
<rect x="924" y="791" width="8" height="9" fill="#d8e219"/>
<rect x="932" y="791" width="9" height="9" fill="#dfe318"/>
<rect x="959" y="791" width="9" height="9" fill="#e5e419"/>
<rect x="1126" y="791" width="9" height="9" fill="#ece51b"/>
<rect x="1135" y="791" width="8" height="9" fill="#f1e51d"/>
<rect x="924" y="800" width="8" height="8" fill="#f8e621"/>
<rect x="1135" y="800" width="8" height="8" fill="#fde725"/>
</g>
<rect x="764.38" y="96" width="494.38" height="1.1" fill="#000"/>
<rect x="1256.76" y="96" width="2" height="712.90" fill="#000"/>
<rect x="764.38" y="807.0" width="494.38" height="1.9" fill="#000"/>
<rect x="764.00" y="96" width="2.6" height="712.90" fill="#000"/>
<line x1="809.34" y1="808.00" x2="809.34" y2="817.90" stroke="#000" stroke-width="2" stroke-linecap="round"/>
<text class="tk" x="808.84" y="848.85" text-anchor="middle">4020000</text>
<line x1="897.27" y1="808.00" x2="897.27" y2="817.90" stroke="#000" stroke-width="2" stroke-linecap="round"/>
<line x1="985.19" y1="808.00" x2="985.19" y2="817.90" stroke="#000" stroke-width="2" stroke-linecap="round"/>
<text class="tk" x="984.69" y="848.85" text-anchor="middle">4040000</text>
<line x1="1073.12" y1="808.00" x2="1073.12" y2="817.90" stroke="#000" stroke-width="2" stroke-linecap="round"/>
<line x1="1161.04" y1="808.00" x2="1161.04" y2="817.90" stroke="#000" stroke-width="2" stroke-linecap="round"/>
<text class="tk" x="1160.54" y="848.85" text-anchor="middle">4060000</text>
<line x1="1248.97" y1="808.00" x2="1248.97" y2="817.90" stroke="#000" stroke-width="2" stroke-linecap="round"/>
<line x1="755.68" y1="755.54" x2="765.38" y2="755.54" stroke="#000" stroke-width="2" stroke-linecap="round"/>
<text class="tk" transform="translate(747.78,756.04) rotate(-90)" text-anchor="middle">2940000</text>
<line x1="755.68" y1="579.69" x2="765.38" y2="579.69" stroke="#000" stroke-width="2" stroke-linecap="round"/>
<text class="tk" transform="translate(747.78,580.19) rotate(-90)" text-anchor="middle">2960000</text>
<line x1="755.68" y1="403.84" x2="765.38" y2="403.84" stroke="#000" stroke-width="2" stroke-linecap="round"/>
<text class="tk" transform="translate(747.78,404.34) rotate(-90)" text-anchor="middle">2980000</text>
<line x1="755.68" y1="227.99" x2="765.38" y2="227.99" stroke="#000" stroke-width="2" stroke-linecap="round"/>
<text class="tk" transform="translate(747.78,228.49) rotate(-90)" text-anchor="middle">3e+06</text>
<text class="ti" x="1011" y="76.8" text-anchor="middle">gisco_id</text>
<rect x="587.00" y="96.10" width="29.00" height="712.20" fill="url(#vg)" stroke="#000" stroke-width="2"/>
<line x1="587.00" y1="808.10" x2="623.50" y2="808.10" stroke="#000" stroke-width="2" stroke-linecap="round"/>
<text class="cb" x="641" y="813.9">0</text>
<line x1="587.00" y1="691.45" x2="623.50" y2="691.45" stroke="#000" stroke-width="2" stroke-linecap="round"/>
<text class="cb" x="641" y="697.25">10000</text>
<line x1="587.00" y1="574.80" x2="623.50" y2="574.80" stroke="#000" stroke-width="2" stroke-linecap="round"/>
<text class="cb" x="641" y="580.6">20000</text>
<line x1="587.00" y1="458.15" x2="623.50" y2="458.15" stroke="#000" stroke-width="2" stroke-linecap="round"/>
<text class="cb" x="641" y="463.95">30000</text>
<line x1="587.00" y1="341.50" x2="623.50" y2="341.50" stroke="#000" stroke-width="2" stroke-linecap="round"/>
<text class="cb" x="641" y="347.3">40000</text>
<line x1="587.00" y1="224.85" x2="623.50" y2="224.85" stroke="#000" stroke-width="2" stroke-linecap="round"/>
<text class="cb" x="641" y="230.65">50000</text>
<line x1="587.00" y1="108.20" x2="623.50" y2="108.20" stroke="#000" stroke-width="2" stroke-linecap="round"/>
<text class="cb" x="641" y="114">60000</text>
<rect x="1281" y="119.10" width="18.8" height="15.6" fill="#440154" stroke="#000" stroke-width="2"/>
<text class="cb" x="1324.5" y="135.8">CRS30</text>
<rect x="1281" y="150.22" width="18.8" height="15.6" fill="#450457" stroke="#000" stroke-width="2"/>
<text class="cb" x="1324.5" y="166.92">CRS30</text>
<rect x="1281" y="181.35" width="18.8" height="15.6" fill="#46085c" stroke="#000" stroke-width="2"/>
<text class="cb" x="1324.5" y="198.05">CRS30</text>
<rect x="1281" y="212.47" width="18.8" height="15.6" fill="#460b5e" stroke="#000" stroke-width="2"/>
<text class="cb" x="1324.5" y="229.17">CRS30</text>
<rect x="1281" y="243.60" width="18.8" height="15.6" fill="#471063" stroke="#000" stroke-width="2"/>
<text class="cb" x="1324.5" y="260.3">CRS30</text>
<rect x="1281" y="274.73" width="18.8" height="15.6" fill="#471365" stroke="#000" stroke-width="2"/>
<text class="cb" x="1324.5" y="291.43">CRS30</text>
<rect x="1281" y="305.85" width="18.8" height="15.6" fill="#481769" stroke="#000" stroke-width="2"/>
<text class="cb" x="1324.5" y="322.55">CRS30</text>
<rect x="1281" y="336.98" width="18.8" height="15.6" fill="#481b6d" stroke="#000" stroke-width="2"/>
<text class="cb" x="1324.5" y="353.68">CRS30</text>
<rect x="1281" y="368.10" width="18.8" height="15.6" fill="#481d6f" stroke="#000" stroke-width="2"/>
<text class="cb" x="1324.5" y="384.8">CRS30</text>
<rect x="1281" y="399.23" width="18.8" height="15.6" fill="#482173" stroke="#000" stroke-width="2"/>
<text class="cb" x="1324.5" y="415.93">CRS30</text>
<rect x="1281" y="430.35" width="18.8" height="15.6" fill="#482475" stroke="#000" stroke-width="2"/>
<text class="cb" x="1324.5" y="447.05">CRS30</text>
<rect x="1281" y="461.48" width="18.8" height="15.6" fill="#482878" stroke="#000" stroke-width="2"/>
<text class="cb" x="1324.5" y="478.18">CRS30</text>
<rect x="1281" y="492.60" width="18.8" height="15.6" fill="#472c7a" stroke="#000" stroke-width="2"/>
<text class="cb" x="1324.5" y="509.3">CRS30</text>
<rect x="1281" y="523.73" width="18.8" height="15.6" fill="#472e7c" stroke="#000" stroke-width="2"/>
<text class="cb" x="1324.5" y="540.43">CRS30</text>
<rect x="1281" y="554.85" width="18.8" height="15.6" fill="#46327e" stroke="#000" stroke-width="2"/>
<text class="cb" x="1324.5" y="571.55">CRS30</text>
<rect x="1281" y="585.98" width="18.8" height="15.6" fill="#463480" stroke="#000" stroke-width="2"/>
<text class="cb" x="1324.5" y="602.68">CRS30</text>
<rect x="1281" y="617.10" width="18.8" height="15.6" fill="#453882" stroke="#000" stroke-width="2"/>
<text class="cb" x="1324.5" y="633.8">CRS30</text>
<rect x="1281" y="648.23" width="18.8" height="15.6" fill="#443a83" stroke="#000" stroke-width="2"/>
<text class="cb" x="1324.5" y="664.93">CRS30</text>
<rect x="1281" y="679.35" width="18.8" height="15.6" fill="#433e85" stroke="#000" stroke-width="2"/>
<text class="cb" x="1324.5" y="696.05">CRS30</text>
<rect x="1281" y="710.48" width="18.8" height="15.6" fill="#424186" stroke="#000" stroke-width="2"/>
<text class="cb" x="1324.5" y="727.18">CRS30</text>
<rect x="1281" y="741.60" width="18.8" height="15.6" fill="#414487" stroke="#000" stroke-width="2"/>
<text class="cb" x="1324.5" y="758.3">CRS30</text>
<rect x="1281" y="772.73" width="18.8" height="15.6" fill="#3f4788" stroke="#000" stroke-width="2"/>
<text class="cb" x="1324.5" y="789.43">CRS30</text>
<rect x="1281" y="803.85" width="18.8" height="15.6" fill="#3e4989" stroke="#000" stroke-width="2"/>
<text class="cb" x="1324.5" y="820.55">CRS30</text>
<rect x="1281" y="834.98" width="18.8" height="15.6" fill="#3d4d8a" stroke="#000" stroke-width="2"/>
<text class="cb" x="1324.5" y="851.68">CRS30</text>
<rect x="1281" y="866.10" width="18.8" height="15.6" fill="#3c508b" stroke="#000" stroke-width="2"/>
<text class="cb" x="1324.5" y="882.8">CRS30</text>
<rect x="1281" y="897.23" width="18.8" height="15.6" fill="#3b528b" stroke="#000" stroke-width="2"/>
<text class="cb" x="1324.5" y="913.93">CRS30</text>
</svg>
</body></html>
